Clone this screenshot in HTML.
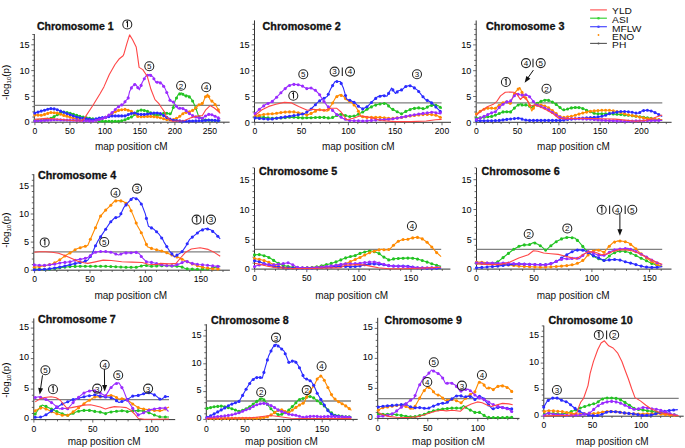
<!DOCTYPE html>
<html><head><meta charset="utf-8"><style>
html,body{margin:0;padding:0;background:#fff;}
svg{display:block;font-family:"Liberation Sans", sans-serif;}
</style></head><body>
<svg width="685" height="448" viewBox="0 0 685 448">
<rect width="685" height="448" fill="#fff"/>
<text x="37.0" y="30.1" font-size="10" font-weight="bold" fill="#111" stroke="#111" stroke-width="0.3" textLength="76.5" lengthAdjust="spacingAndGlyphs">Chromosome 1</text>
<line x1="34.3" y1="34.0" x2="34.3" y2="122.2" stroke="#333" stroke-width="1"/>
<line x1="31.3" y1="122.2" x2="34.3" y2="122.2" stroke="#444" stroke-width="0.8"/>
<text x="29.5" y="125.4" font-size="9.1" text-anchor="end" font-weight="normal" fill="#000" >0</text>
<line x1="32.3" y1="117.0" x2="34.3" y2="117.0" stroke="#444" stroke-width="0.8"/>
<line x1="32.3" y1="111.9" x2="34.3" y2="111.9" stroke="#444" stroke-width="0.8"/>
<line x1="32.3" y1="106.7" x2="34.3" y2="106.7" stroke="#444" stroke-width="0.8"/>
<line x1="32.3" y1="101.6" x2="34.3" y2="101.6" stroke="#444" stroke-width="0.8"/>
<line x1="31.3" y1="96.4" x2="34.3" y2="96.4" stroke="#444" stroke-width="0.8"/>
<text x="29.5" y="99.6" font-size="9.1" text-anchor="end" font-weight="normal" fill="#000" >5</text>
<line x1="32.3" y1="91.2" x2="34.3" y2="91.2" stroke="#444" stroke-width="0.8"/>
<line x1="32.3" y1="86.1" x2="34.3" y2="86.1" stroke="#444" stroke-width="0.8"/>
<line x1="32.3" y1="80.9" x2="34.3" y2="80.9" stroke="#444" stroke-width="0.8"/>
<line x1="32.3" y1="75.8" x2="34.3" y2="75.8" stroke="#444" stroke-width="0.8"/>
<line x1="31.3" y1="70.6" x2="34.3" y2="70.6" stroke="#444" stroke-width="0.8"/>
<text x="29.5" y="73.8" font-size="9.1" text-anchor="end" font-weight="normal" fill="#000" >10</text>
<line x1="32.3" y1="65.4" x2="34.3" y2="65.4" stroke="#444" stroke-width="0.8"/>
<line x1="32.3" y1="60.3" x2="34.3" y2="60.3" stroke="#444" stroke-width="0.8"/>
<line x1="32.3" y1="55.1" x2="34.3" y2="55.1" stroke="#444" stroke-width="0.8"/>
<line x1="32.3" y1="50.0" x2="34.3" y2="50.0" stroke="#444" stroke-width="0.8"/>
<line x1="31.3" y1="44.8" x2="34.3" y2="44.8" stroke="#444" stroke-width="0.8"/>
<text x="29.5" y="48.0" font-size="9.1" text-anchor="end" font-weight="normal" fill="#000" >15</text>
<line x1="32.3" y1="39.6" x2="34.3" y2="39.6" stroke="#444" stroke-width="0.8"/>
<line x1="32.3" y1="34.5" x2="34.3" y2="34.5" stroke="#444" stroke-width="0.8"/>
<line x1="34.3" y1="122.2" x2="229.6" y2="122.2" stroke="#333" stroke-width="1"/>
<line x1="34.9" y1="122.2" x2="34.9" y2="125.2" stroke="#444" stroke-width="0.8"/>
<text x="34.9" y="134.3" font-size="8.6" text-anchor="middle" font-weight="normal" fill="#000" >0</text>
<line x1="41.9" y1="122.2" x2="41.9" y2="124.0" stroke="#444" stroke-width="0.8"/>
<line x1="48.9" y1="122.2" x2="48.9" y2="124.0" stroke="#444" stroke-width="0.8"/>
<line x1="55.9" y1="122.2" x2="55.9" y2="124.0" stroke="#444" stroke-width="0.8"/>
<line x1="62.9" y1="122.2" x2="62.9" y2="124.0" stroke="#444" stroke-width="0.8"/>
<line x1="69.9" y1="122.2" x2="69.9" y2="125.2" stroke="#444" stroke-width="0.8"/>
<text x="69.9" y="134.3" font-size="8.6" text-anchor="middle" font-weight="normal" fill="#000" >50</text>
<line x1="76.9" y1="122.2" x2="76.9" y2="124.0" stroke="#444" stroke-width="0.8"/>
<line x1="83.9" y1="122.2" x2="83.9" y2="124.0" stroke="#444" stroke-width="0.8"/>
<line x1="90.9" y1="122.2" x2="90.9" y2="124.0" stroke="#444" stroke-width="0.8"/>
<line x1="97.9" y1="122.2" x2="97.9" y2="124.0" stroke="#444" stroke-width="0.8"/>
<line x1="104.9" y1="122.2" x2="104.9" y2="125.2" stroke="#444" stroke-width="0.8"/>
<text x="104.9" y="134.3" font-size="8.6" text-anchor="middle" font-weight="normal" fill="#000" >100</text>
<line x1="111.9" y1="122.2" x2="111.9" y2="124.0" stroke="#444" stroke-width="0.8"/>
<line x1="118.9" y1="122.2" x2="118.9" y2="124.0" stroke="#444" stroke-width="0.8"/>
<line x1="125.9" y1="122.2" x2="125.9" y2="124.0" stroke="#444" stroke-width="0.8"/>
<line x1="132.9" y1="122.2" x2="132.9" y2="124.0" stroke="#444" stroke-width="0.8"/>
<line x1="139.9" y1="122.2" x2="139.9" y2="125.2" stroke="#444" stroke-width="0.8"/>
<text x="139.9" y="134.3" font-size="8.6" text-anchor="middle" font-weight="normal" fill="#000" >150</text>
<line x1="146.9" y1="122.2" x2="146.9" y2="124.0" stroke="#444" stroke-width="0.8"/>
<line x1="153.9" y1="122.2" x2="153.9" y2="124.0" stroke="#444" stroke-width="0.8"/>
<line x1="160.9" y1="122.2" x2="160.9" y2="124.0" stroke="#444" stroke-width="0.8"/>
<line x1="167.9" y1="122.2" x2="167.9" y2="124.0" stroke="#444" stroke-width="0.8"/>
<line x1="174.9" y1="122.2" x2="174.9" y2="125.2" stroke="#444" stroke-width="0.8"/>
<text x="174.9" y="134.3" font-size="8.6" text-anchor="middle" font-weight="normal" fill="#000" >200</text>
<line x1="181.9" y1="122.2" x2="181.9" y2="124.0" stroke="#444" stroke-width="0.8"/>
<line x1="188.9" y1="122.2" x2="188.9" y2="124.0" stroke="#444" stroke-width="0.8"/>
<line x1="195.9" y1="122.2" x2="195.9" y2="124.0" stroke="#444" stroke-width="0.8"/>
<line x1="202.9" y1="122.2" x2="202.9" y2="124.0" stroke="#444" stroke-width="0.8"/>
<line x1="209.9" y1="122.2" x2="209.9" y2="125.2" stroke="#444" stroke-width="0.8"/>
<text x="209.9" y="134.3" font-size="8.6" text-anchor="middle" font-weight="normal" fill="#000" >250</text>
<line x1="216.9" y1="122.2" x2="216.9" y2="124.0" stroke="#444" stroke-width="0.8"/>
<line x1="223.9" y1="122.2" x2="223.9" y2="124.0" stroke="#444" stroke-width="0.8"/>
<line x1="34.3" y1="105.4" x2="220.0" y2="105.4" stroke="#808080" stroke-width="1.3"/>
<text x="131.3" y="150.3" font-size="10" fill="#111" text-anchor="middle">map position cM</text>
<text x="262.6" y="30.2" font-size="10" font-weight="bold" fill="#111" stroke="#111" stroke-width="0.3" textLength="78.2" lengthAdjust="spacingAndGlyphs">Chromosome 2</text>
<line x1="254.5" y1="20.4" x2="254.5" y2="122.3" stroke="#333" stroke-width="1"/>
<line x1="251.5" y1="122.3" x2="254.5" y2="122.3" stroke="#444" stroke-width="0.8"/>
<text x="249.7" y="125.5" font-size="9.1" text-anchor="end" font-weight="normal" fill="#000" >0</text>
<line x1="252.5" y1="117.1" x2="254.5" y2="117.1" stroke="#444" stroke-width="0.8"/>
<line x1="252.5" y1="112.0" x2="254.5" y2="112.0" stroke="#444" stroke-width="0.8"/>
<line x1="252.5" y1="106.8" x2="254.5" y2="106.8" stroke="#444" stroke-width="0.8"/>
<line x1="252.5" y1="101.7" x2="254.5" y2="101.7" stroke="#444" stroke-width="0.8"/>
<line x1="251.5" y1="96.5" x2="254.5" y2="96.5" stroke="#444" stroke-width="0.8"/>
<text x="249.7" y="99.7" font-size="9.1" text-anchor="end" font-weight="normal" fill="#000" >5</text>
<line x1="252.5" y1="91.3" x2="254.5" y2="91.3" stroke="#444" stroke-width="0.8"/>
<line x1="252.5" y1="86.2" x2="254.5" y2="86.2" stroke="#444" stroke-width="0.8"/>
<line x1="252.5" y1="81.0" x2="254.5" y2="81.0" stroke="#444" stroke-width="0.8"/>
<line x1="252.5" y1="75.9" x2="254.5" y2="75.9" stroke="#444" stroke-width="0.8"/>
<line x1="251.5" y1="70.7" x2="254.5" y2="70.7" stroke="#444" stroke-width="0.8"/>
<text x="249.7" y="73.9" font-size="9.1" text-anchor="end" font-weight="normal" fill="#000" >10</text>
<line x1="252.5" y1="65.5" x2="254.5" y2="65.5" stroke="#444" stroke-width="0.8"/>
<line x1="252.5" y1="60.4" x2="254.5" y2="60.4" stroke="#444" stroke-width="0.8"/>
<line x1="252.5" y1="55.2" x2="254.5" y2="55.2" stroke="#444" stroke-width="0.8"/>
<line x1="252.5" y1="50.1" x2="254.5" y2="50.1" stroke="#444" stroke-width="0.8"/>
<line x1="251.5" y1="44.9" x2="254.5" y2="44.9" stroke="#444" stroke-width="0.8"/>
<text x="249.7" y="48.1" font-size="9.1" text-anchor="end" font-weight="normal" fill="#000" >15</text>
<line x1="252.5" y1="39.7" x2="254.5" y2="39.7" stroke="#444" stroke-width="0.8"/>
<line x1="252.5" y1="34.6" x2="254.5" y2="34.6" stroke="#444" stroke-width="0.8"/>
<line x1="252.5" y1="29.4" x2="254.5" y2="29.4" stroke="#444" stroke-width="0.8"/>
<line x1="252.5" y1="24.3" x2="254.5" y2="24.3" stroke="#444" stroke-width="0.8"/>
<line x1="254.5" y1="122.3" x2="451.0" y2="122.3" stroke="#333" stroke-width="1"/>
<line x1="254.8" y1="122.3" x2="254.8" y2="125.3" stroke="#444" stroke-width="0.8"/>
<text x="254.8" y="134.4" font-size="8.6" text-anchor="middle" font-weight="normal" fill="#000" >0</text>
<line x1="264.2" y1="122.3" x2="264.2" y2="124.1" stroke="#444" stroke-width="0.8"/>
<line x1="273.5" y1="122.3" x2="273.5" y2="124.1" stroke="#444" stroke-width="0.8"/>
<line x1="282.9" y1="122.3" x2="282.9" y2="124.1" stroke="#444" stroke-width="0.8"/>
<line x1="292.2" y1="122.3" x2="292.2" y2="124.1" stroke="#444" stroke-width="0.8"/>
<line x1="301.6" y1="122.3" x2="301.6" y2="125.3" stroke="#444" stroke-width="0.8"/>
<text x="301.6" y="134.4" font-size="8.6" text-anchor="middle" font-weight="normal" fill="#000" >50</text>
<line x1="311.0" y1="122.3" x2="311.0" y2="124.1" stroke="#444" stroke-width="0.8"/>
<line x1="320.3" y1="122.3" x2="320.3" y2="124.1" stroke="#444" stroke-width="0.8"/>
<line x1="329.7" y1="122.3" x2="329.7" y2="124.1" stroke="#444" stroke-width="0.8"/>
<line x1="339.0" y1="122.3" x2="339.0" y2="124.1" stroke="#444" stroke-width="0.8"/>
<line x1="348.4" y1="122.3" x2="348.4" y2="125.3" stroke="#444" stroke-width="0.8"/>
<text x="348.4" y="134.4" font-size="8.6" text-anchor="middle" font-weight="normal" fill="#000" >100</text>
<line x1="357.8" y1="122.3" x2="357.8" y2="124.1" stroke="#444" stroke-width="0.8"/>
<line x1="367.1" y1="122.3" x2="367.1" y2="124.1" stroke="#444" stroke-width="0.8"/>
<line x1="376.5" y1="122.3" x2="376.5" y2="124.1" stroke="#444" stroke-width="0.8"/>
<line x1="385.8" y1="122.3" x2="385.8" y2="124.1" stroke="#444" stroke-width="0.8"/>
<line x1="395.2" y1="122.3" x2="395.2" y2="125.3" stroke="#444" stroke-width="0.8"/>
<text x="395.2" y="134.4" font-size="8.6" text-anchor="middle" font-weight="normal" fill="#000" >150</text>
<line x1="404.6" y1="122.3" x2="404.6" y2="124.1" stroke="#444" stroke-width="0.8"/>
<line x1="413.9" y1="122.3" x2="413.9" y2="124.1" stroke="#444" stroke-width="0.8"/>
<line x1="423.3" y1="122.3" x2="423.3" y2="124.1" stroke="#444" stroke-width="0.8"/>
<line x1="432.6" y1="122.3" x2="432.6" y2="124.1" stroke="#444" stroke-width="0.8"/>
<line x1="442.0" y1="122.3" x2="442.0" y2="125.3" stroke="#444" stroke-width="0.8"/>
<text x="442.0" y="134.4" font-size="8.6" text-anchor="middle" font-weight="normal" fill="#000" >200</text>
<line x1="254.5" y1="102.9" x2="441.6" y2="102.9" stroke="#808080" stroke-width="1.3"/>
<text x="358.3" y="150.1" font-size="10" fill="#111" text-anchor="middle">map position cM</text>
<text x="486.1" y="30.1" font-size="10" font-weight="bold" fill="#111" stroke="#111" stroke-width="0.3" textLength="78.3" lengthAdjust="spacingAndGlyphs">Chromosome 3</text>
<line x1="476.2" y1="20.5" x2="476.2" y2="122.3" stroke="#333" stroke-width="1"/>
<line x1="473.2" y1="122.3" x2="476.2" y2="122.3" stroke="#444" stroke-width="0.8"/>
<text x="471.4" y="125.5" font-size="9.1" text-anchor="end" font-weight="normal" fill="#000" >0</text>
<line x1="474.2" y1="117.1" x2="476.2" y2="117.1" stroke="#444" stroke-width="0.8"/>
<line x1="474.2" y1="112.0" x2="476.2" y2="112.0" stroke="#444" stroke-width="0.8"/>
<line x1="474.2" y1="106.8" x2="476.2" y2="106.8" stroke="#444" stroke-width="0.8"/>
<line x1="474.2" y1="101.7" x2="476.2" y2="101.7" stroke="#444" stroke-width="0.8"/>
<line x1="473.2" y1="96.5" x2="476.2" y2="96.5" stroke="#444" stroke-width="0.8"/>
<text x="471.4" y="99.7" font-size="9.1" text-anchor="end" font-weight="normal" fill="#000" >5</text>
<line x1="474.2" y1="91.3" x2="476.2" y2="91.3" stroke="#444" stroke-width="0.8"/>
<line x1="474.2" y1="86.2" x2="476.2" y2="86.2" stroke="#444" stroke-width="0.8"/>
<line x1="474.2" y1="81.0" x2="476.2" y2="81.0" stroke="#444" stroke-width="0.8"/>
<line x1="474.2" y1="75.9" x2="476.2" y2="75.9" stroke="#444" stroke-width="0.8"/>
<line x1="473.2" y1="70.7" x2="476.2" y2="70.7" stroke="#444" stroke-width="0.8"/>
<text x="471.4" y="73.9" font-size="9.1" text-anchor="end" font-weight="normal" fill="#000" >10</text>
<line x1="474.2" y1="65.5" x2="476.2" y2="65.5" stroke="#444" stroke-width="0.8"/>
<line x1="474.2" y1="60.4" x2="476.2" y2="60.4" stroke="#444" stroke-width="0.8"/>
<line x1="474.2" y1="55.2" x2="476.2" y2="55.2" stroke="#444" stroke-width="0.8"/>
<line x1="474.2" y1="50.1" x2="476.2" y2="50.1" stroke="#444" stroke-width="0.8"/>
<line x1="473.2" y1="44.9" x2="476.2" y2="44.9" stroke="#444" stroke-width="0.8"/>
<text x="471.4" y="48.1" font-size="9.1" text-anchor="end" font-weight="normal" fill="#000" >15</text>
<line x1="474.2" y1="39.7" x2="476.2" y2="39.7" stroke="#444" stroke-width="0.8"/>
<line x1="474.2" y1="34.6" x2="476.2" y2="34.6" stroke="#444" stroke-width="0.8"/>
<line x1="474.2" y1="29.4" x2="476.2" y2="29.4" stroke="#444" stroke-width="0.8"/>
<line x1="474.2" y1="24.3" x2="476.2" y2="24.3" stroke="#444" stroke-width="0.8"/>
<line x1="476.2" y1="122.3" x2="671.6" y2="122.3" stroke="#333" stroke-width="1"/>
<line x1="476.3" y1="122.3" x2="476.3" y2="125.3" stroke="#444" stroke-width="0.8"/>
<text x="476.3" y="134.4" font-size="8.6" text-anchor="middle" font-weight="normal" fill="#000" >0</text>
<line x1="484.6" y1="122.3" x2="484.6" y2="124.1" stroke="#444" stroke-width="0.8"/>
<line x1="492.8" y1="122.3" x2="492.8" y2="124.1" stroke="#444" stroke-width="0.8"/>
<line x1="501.1" y1="122.3" x2="501.1" y2="124.1" stroke="#444" stroke-width="0.8"/>
<line x1="509.3" y1="122.3" x2="509.3" y2="124.1" stroke="#444" stroke-width="0.8"/>
<line x1="517.6" y1="122.3" x2="517.6" y2="125.3" stroke="#444" stroke-width="0.8"/>
<text x="517.6" y="134.4" font-size="8.6" text-anchor="middle" font-weight="normal" fill="#000" >50</text>
<line x1="525.9" y1="122.3" x2="525.9" y2="124.1" stroke="#444" stroke-width="0.8"/>
<line x1="534.1" y1="122.3" x2="534.1" y2="124.1" stroke="#444" stroke-width="0.8"/>
<line x1="542.4" y1="122.3" x2="542.4" y2="124.1" stroke="#444" stroke-width="0.8"/>
<line x1="550.6" y1="122.3" x2="550.6" y2="124.1" stroke="#444" stroke-width="0.8"/>
<line x1="558.9" y1="122.3" x2="558.9" y2="125.3" stroke="#444" stroke-width="0.8"/>
<text x="558.9" y="134.4" font-size="8.6" text-anchor="middle" font-weight="normal" fill="#000" >100</text>
<line x1="567.2" y1="122.3" x2="567.2" y2="124.1" stroke="#444" stroke-width="0.8"/>
<line x1="575.4" y1="122.3" x2="575.4" y2="124.1" stroke="#444" stroke-width="0.8"/>
<line x1="583.7" y1="122.3" x2="583.7" y2="124.1" stroke="#444" stroke-width="0.8"/>
<line x1="591.9" y1="122.3" x2="591.9" y2="124.1" stroke="#444" stroke-width="0.8"/>
<line x1="600.2" y1="122.3" x2="600.2" y2="125.3" stroke="#444" stroke-width="0.8"/>
<text x="600.2" y="134.4" font-size="8.6" text-anchor="middle" font-weight="normal" fill="#000" >150</text>
<line x1="608.5" y1="122.3" x2="608.5" y2="124.1" stroke="#444" stroke-width="0.8"/>
<line x1="616.7" y1="122.3" x2="616.7" y2="124.1" stroke="#444" stroke-width="0.8"/>
<line x1="625.0" y1="122.3" x2="625.0" y2="124.1" stroke="#444" stroke-width="0.8"/>
<line x1="633.2" y1="122.3" x2="633.2" y2="124.1" stroke="#444" stroke-width="0.8"/>
<line x1="641.5" y1="122.3" x2="641.5" y2="125.3" stroke="#444" stroke-width="0.8"/>
<text x="641.5" y="134.4" font-size="8.6" text-anchor="middle" font-weight="normal" fill="#000" >200</text>
<line x1="649.8" y1="122.3" x2="649.8" y2="124.1" stroke="#444" stroke-width="0.8"/>
<line x1="658.0" y1="122.3" x2="658.0" y2="124.1" stroke="#444" stroke-width="0.8"/>
<line x1="666.3" y1="122.3" x2="666.3" y2="124.1" stroke="#444" stroke-width="0.8"/>
<line x1="476.2" y1="102.9" x2="662.3" y2="102.9" stroke="#808080" stroke-width="1.3"/>
<text x="573.5" y="150.1" font-size="10" fill="#111" text-anchor="middle">map position cM</text>
<text x="38.0" y="178.7" font-size="10" font-weight="bold" fill="#111" stroke="#111" stroke-width="0.3" textLength="78.1" lengthAdjust="spacingAndGlyphs">Chromosome 4</text>
<line x1="33.8" y1="174.2" x2="33.8" y2="270.2" stroke="#333" stroke-width="1"/>
<line x1="30.8" y1="270.2" x2="33.8" y2="270.2" stroke="#444" stroke-width="0.8"/>
<text x="29.0" y="273.4" font-size="9.1" text-anchor="end" font-weight="normal" fill="#000" >0</text>
<line x1="31.8" y1="264.6" x2="33.8" y2="264.6" stroke="#444" stroke-width="0.8"/>
<line x1="31.8" y1="259.0" x2="33.8" y2="259.0" stroke="#444" stroke-width="0.8"/>
<line x1="31.8" y1="253.3" x2="33.8" y2="253.3" stroke="#444" stroke-width="0.8"/>
<line x1="31.8" y1="247.7" x2="33.8" y2="247.7" stroke="#444" stroke-width="0.8"/>
<line x1="30.8" y1="242.1" x2="33.8" y2="242.1" stroke="#444" stroke-width="0.8"/>
<text x="29.0" y="245.3" font-size="9.1" text-anchor="end" font-weight="normal" fill="#000" >5</text>
<line x1="31.8" y1="236.5" x2="33.8" y2="236.5" stroke="#444" stroke-width="0.8"/>
<line x1="31.8" y1="230.9" x2="33.8" y2="230.9" stroke="#444" stroke-width="0.8"/>
<line x1="31.8" y1="225.2" x2="33.8" y2="225.2" stroke="#444" stroke-width="0.8"/>
<line x1="31.8" y1="219.6" x2="33.8" y2="219.6" stroke="#444" stroke-width="0.8"/>
<line x1="30.8" y1="214.0" x2="33.8" y2="214.0" stroke="#444" stroke-width="0.8"/>
<text x="29.0" y="217.2" font-size="9.1" text-anchor="end" font-weight="normal" fill="#000" >10</text>
<line x1="31.8" y1="208.4" x2="33.8" y2="208.4" stroke="#444" stroke-width="0.8"/>
<line x1="31.8" y1="202.8" x2="33.8" y2="202.8" stroke="#444" stroke-width="0.8"/>
<line x1="31.8" y1="197.1" x2="33.8" y2="197.1" stroke="#444" stroke-width="0.8"/>
<line x1="31.8" y1="191.5" x2="33.8" y2="191.5" stroke="#444" stroke-width="0.8"/>
<line x1="30.8" y1="185.9" x2="33.8" y2="185.9" stroke="#444" stroke-width="0.8"/>
<text x="29.0" y="189.1" font-size="9.1" text-anchor="end" font-weight="normal" fill="#000" >15</text>
<line x1="31.8" y1="180.3" x2="33.8" y2="180.3" stroke="#444" stroke-width="0.8"/>
<line x1="31.8" y1="174.7" x2="33.8" y2="174.7" stroke="#444" stroke-width="0.8"/>
<line x1="33.8" y1="270.2" x2="229.9" y2="270.2" stroke="#333" stroke-width="1"/>
<line x1="34.6" y1="270.2" x2="34.6" y2="273.2" stroke="#444" stroke-width="0.8"/>
<text x="34.6" y="282.3" font-size="8.6" text-anchor="middle" font-weight="normal" fill="#000" >0</text>
<line x1="45.7" y1="270.2" x2="45.7" y2="272.0" stroke="#444" stroke-width="0.8"/>
<line x1="56.8" y1="270.2" x2="56.8" y2="272.0" stroke="#444" stroke-width="0.8"/>
<line x1="67.8" y1="270.2" x2="67.8" y2="272.0" stroke="#444" stroke-width="0.8"/>
<line x1="78.9" y1="270.2" x2="78.9" y2="272.0" stroke="#444" stroke-width="0.8"/>
<line x1="90.0" y1="270.2" x2="90.0" y2="273.2" stroke="#444" stroke-width="0.8"/>
<text x="90.0" y="282.3" font-size="8.6" text-anchor="middle" font-weight="normal" fill="#000" >50</text>
<line x1="101.1" y1="270.2" x2="101.1" y2="272.0" stroke="#444" stroke-width="0.8"/>
<line x1="112.2" y1="270.2" x2="112.2" y2="272.0" stroke="#444" stroke-width="0.8"/>
<line x1="123.2" y1="270.2" x2="123.2" y2="272.0" stroke="#444" stroke-width="0.8"/>
<line x1="134.3" y1="270.2" x2="134.3" y2="272.0" stroke="#444" stroke-width="0.8"/>
<line x1="145.4" y1="270.2" x2="145.4" y2="273.2" stroke="#444" stroke-width="0.8"/>
<text x="145.4" y="282.3" font-size="8.6" text-anchor="middle" font-weight="normal" fill="#000" >100</text>
<line x1="156.5" y1="270.2" x2="156.5" y2="272.0" stroke="#444" stroke-width="0.8"/>
<line x1="167.6" y1="270.2" x2="167.6" y2="272.0" stroke="#444" stroke-width="0.8"/>
<line x1="178.6" y1="270.2" x2="178.6" y2="272.0" stroke="#444" stroke-width="0.8"/>
<line x1="189.7" y1="270.2" x2="189.7" y2="272.0" stroke="#444" stroke-width="0.8"/>
<line x1="200.8" y1="270.2" x2="200.8" y2="273.2" stroke="#444" stroke-width="0.8"/>
<text x="200.8" y="282.3" font-size="8.6" text-anchor="middle" font-weight="normal" fill="#000" >150</text>
<line x1="211.9" y1="270.2" x2="211.9" y2="272.0" stroke="#444" stroke-width="0.8"/>
<line x1="223.0" y1="270.2" x2="223.0" y2="272.0" stroke="#444" stroke-width="0.8"/>
<line x1="33.8" y1="251.8" x2="220.2" y2="251.8" stroke="#808080" stroke-width="1.3"/>
<text x="130.8" y="299.2" font-size="10" fill="#111" text-anchor="middle">map position cM</text>
<text x="259.0" y="174.9" font-size="10" font-weight="bold" fill="#111" stroke="#111" stroke-width="0.3" textLength="78.2" lengthAdjust="spacingAndGlyphs">Chromosome 5</text>
<line x1="254.5" y1="168.0" x2="254.5" y2="269.1" stroke="#333" stroke-width="1"/>
<line x1="251.5" y1="269.1" x2="254.5" y2="269.1" stroke="#444" stroke-width="0.8"/>
<text x="249.7" y="272.3" font-size="9.1" text-anchor="end" font-weight="normal" fill="#000" >0</text>
<line x1="252.5" y1="263.1" x2="254.5" y2="263.1" stroke="#444" stroke-width="0.8"/>
<line x1="252.5" y1="257.2" x2="254.5" y2="257.2" stroke="#444" stroke-width="0.8"/>
<line x1="252.5" y1="251.2" x2="254.5" y2="251.2" stroke="#444" stroke-width="0.8"/>
<line x1="252.5" y1="245.3" x2="254.5" y2="245.3" stroke="#444" stroke-width="0.8"/>
<line x1="251.5" y1="239.3" x2="254.5" y2="239.3" stroke="#444" stroke-width="0.8"/>
<text x="249.7" y="242.5" font-size="9.1" text-anchor="end" font-weight="normal" fill="#000" >5</text>
<line x1="252.5" y1="233.3" x2="254.5" y2="233.3" stroke="#444" stroke-width="0.8"/>
<line x1="252.5" y1="227.4" x2="254.5" y2="227.4" stroke="#444" stroke-width="0.8"/>
<line x1="252.5" y1="221.4" x2="254.5" y2="221.4" stroke="#444" stroke-width="0.8"/>
<line x1="252.5" y1="215.5" x2="254.5" y2="215.5" stroke="#444" stroke-width="0.8"/>
<line x1="251.5" y1="209.5" x2="254.5" y2="209.5" stroke="#444" stroke-width="0.8"/>
<text x="249.7" y="212.7" font-size="9.1" text-anchor="end" font-weight="normal" fill="#000" >10</text>
<line x1="252.5" y1="203.5" x2="254.5" y2="203.5" stroke="#444" stroke-width="0.8"/>
<line x1="252.5" y1="197.6" x2="254.5" y2="197.6" stroke="#444" stroke-width="0.8"/>
<line x1="252.5" y1="191.6" x2="254.5" y2="191.6" stroke="#444" stroke-width="0.8"/>
<line x1="252.5" y1="185.7" x2="254.5" y2="185.7" stroke="#444" stroke-width="0.8"/>
<line x1="251.5" y1="179.7" x2="254.5" y2="179.7" stroke="#444" stroke-width="0.8"/>
<text x="249.7" y="182.9" font-size="9.1" text-anchor="end" font-weight="normal" fill="#000" >15</text>
<line x1="252.5" y1="173.7" x2="254.5" y2="173.7" stroke="#444" stroke-width="0.8"/>
<line x1="252.5" y1="167.8" x2="254.5" y2="167.8" stroke="#444" stroke-width="0.8"/>
<line x1="254.5" y1="269.1" x2="450.4" y2="269.1" stroke="#333" stroke-width="1"/>
<line x1="254.7" y1="269.1" x2="254.7" y2="272.1" stroke="#444" stroke-width="0.8"/>
<text x="254.7" y="281.2" font-size="8.6" text-anchor="middle" font-weight="normal" fill="#000" >0</text>
<line x1="265.1" y1="269.1" x2="265.1" y2="270.9" stroke="#444" stroke-width="0.8"/>
<line x1="275.5" y1="269.1" x2="275.5" y2="270.9" stroke="#444" stroke-width="0.8"/>
<line x1="286.0" y1="269.1" x2="286.0" y2="270.9" stroke="#444" stroke-width="0.8"/>
<line x1="296.4" y1="269.1" x2="296.4" y2="270.9" stroke="#444" stroke-width="0.8"/>
<line x1="306.8" y1="269.1" x2="306.8" y2="272.1" stroke="#444" stroke-width="0.8"/>
<text x="306.8" y="281.2" font-size="8.6" text-anchor="middle" font-weight="normal" fill="#000" >50</text>
<line x1="317.2" y1="269.1" x2="317.2" y2="270.9" stroke="#444" stroke-width="0.8"/>
<line x1="327.6" y1="269.1" x2="327.6" y2="270.9" stroke="#444" stroke-width="0.8"/>
<line x1="338.1" y1="269.1" x2="338.1" y2="270.9" stroke="#444" stroke-width="0.8"/>
<line x1="348.5" y1="269.1" x2="348.5" y2="270.9" stroke="#444" stroke-width="0.8"/>
<line x1="358.9" y1="269.1" x2="358.9" y2="272.1" stroke="#444" stroke-width="0.8"/>
<text x="358.9" y="281.2" font-size="8.6" text-anchor="middle" font-weight="normal" fill="#000" >100</text>
<line x1="369.3" y1="269.1" x2="369.3" y2="270.9" stroke="#444" stroke-width="0.8"/>
<line x1="379.7" y1="269.1" x2="379.7" y2="270.9" stroke="#444" stroke-width="0.8"/>
<line x1="390.2" y1="269.1" x2="390.2" y2="270.9" stroke="#444" stroke-width="0.8"/>
<line x1="400.6" y1="269.1" x2="400.6" y2="270.9" stroke="#444" stroke-width="0.8"/>
<line x1="411.0" y1="269.1" x2="411.0" y2="272.1" stroke="#444" stroke-width="0.8"/>
<text x="411.0" y="281.2" font-size="8.6" text-anchor="middle" font-weight="normal" fill="#000" >150</text>
<line x1="421.4" y1="269.1" x2="421.4" y2="270.9" stroke="#444" stroke-width="0.8"/>
<line x1="431.8" y1="269.1" x2="431.8" y2="270.9" stroke="#444" stroke-width="0.8"/>
<line x1="442.3" y1="269.1" x2="442.3" y2="270.9" stroke="#444" stroke-width="0.8"/>
<line x1="254.5" y1="249.4" x2="441.2" y2="249.4" stroke="#808080" stroke-width="1.3"/>
<text x="351.6" y="299.2" font-size="10" fill="#111" text-anchor="middle">map position cM</text>
<text x="481.6" y="174.9" font-size="10" font-weight="bold" fill="#111" stroke="#111" stroke-width="0.3" textLength="78.1" lengthAdjust="spacingAndGlyphs">Chromosome 6</text>
<line x1="476.5" y1="168.0" x2="476.5" y2="269.1" stroke="#333" stroke-width="1"/>
<line x1="473.5" y1="269.1" x2="476.5" y2="269.1" stroke="#444" stroke-width="0.8"/>
<text x="471.7" y="272.3" font-size="9.1" text-anchor="end" font-weight="normal" fill="#000" >0</text>
<line x1="474.5" y1="263.1" x2="476.5" y2="263.1" stroke="#444" stroke-width="0.8"/>
<line x1="474.5" y1="257.2" x2="476.5" y2="257.2" stroke="#444" stroke-width="0.8"/>
<line x1="474.5" y1="251.2" x2="476.5" y2="251.2" stroke="#444" stroke-width="0.8"/>
<line x1="474.5" y1="245.3" x2="476.5" y2="245.3" stroke="#444" stroke-width="0.8"/>
<line x1="473.5" y1="239.3" x2="476.5" y2="239.3" stroke="#444" stroke-width="0.8"/>
<text x="471.7" y="242.5" font-size="9.1" text-anchor="end" font-weight="normal" fill="#000" >5</text>
<line x1="474.5" y1="233.3" x2="476.5" y2="233.3" stroke="#444" stroke-width="0.8"/>
<line x1="474.5" y1="227.4" x2="476.5" y2="227.4" stroke="#444" stroke-width="0.8"/>
<line x1="474.5" y1="221.4" x2="476.5" y2="221.4" stroke="#444" stroke-width="0.8"/>
<line x1="474.5" y1="215.5" x2="476.5" y2="215.5" stroke="#444" stroke-width="0.8"/>
<line x1="473.5" y1="209.5" x2="476.5" y2="209.5" stroke="#444" stroke-width="0.8"/>
<text x="471.7" y="212.7" font-size="9.1" text-anchor="end" font-weight="normal" fill="#000" >10</text>
<line x1="474.5" y1="203.5" x2="476.5" y2="203.5" stroke="#444" stroke-width="0.8"/>
<line x1="474.5" y1="197.6" x2="476.5" y2="197.6" stroke="#444" stroke-width="0.8"/>
<line x1="474.5" y1="191.6" x2="476.5" y2="191.6" stroke="#444" stroke-width="0.8"/>
<line x1="474.5" y1="185.7" x2="476.5" y2="185.7" stroke="#444" stroke-width="0.8"/>
<line x1="473.5" y1="179.7" x2="476.5" y2="179.7" stroke="#444" stroke-width="0.8"/>
<text x="471.7" y="182.9" font-size="9.1" text-anchor="end" font-weight="normal" fill="#000" >15</text>
<line x1="474.5" y1="173.7" x2="476.5" y2="173.7" stroke="#444" stroke-width="0.8"/>
<line x1="474.5" y1="167.8" x2="476.5" y2="167.8" stroke="#444" stroke-width="0.8"/>
<line x1="476.5" y1="269.1" x2="671.5" y2="269.1" stroke="#333" stroke-width="1"/>
<line x1="476.4" y1="269.1" x2="476.4" y2="272.1" stroke="#444" stroke-width="0.8"/>
<text x="476.4" y="281.2" font-size="8.6" text-anchor="middle" font-weight="normal" fill="#000" >0</text>
<line x1="487.9" y1="269.1" x2="487.9" y2="270.9" stroke="#444" stroke-width="0.8"/>
<line x1="499.5" y1="269.1" x2="499.5" y2="270.9" stroke="#444" stroke-width="0.8"/>
<line x1="511.0" y1="269.1" x2="511.0" y2="270.9" stroke="#444" stroke-width="0.8"/>
<line x1="522.6" y1="269.1" x2="522.6" y2="270.9" stroke="#444" stroke-width="0.8"/>
<line x1="534.1" y1="269.1" x2="534.1" y2="272.1" stroke="#444" stroke-width="0.8"/>
<text x="534.1" y="281.2" font-size="8.6" text-anchor="middle" font-weight="normal" fill="#000" >50</text>
<line x1="545.7" y1="269.1" x2="545.7" y2="270.9" stroke="#444" stroke-width="0.8"/>
<line x1="557.2" y1="269.1" x2="557.2" y2="270.9" stroke="#444" stroke-width="0.8"/>
<line x1="568.8" y1="269.1" x2="568.8" y2="270.9" stroke="#444" stroke-width="0.8"/>
<line x1="580.4" y1="269.1" x2="580.4" y2="270.9" stroke="#444" stroke-width="0.8"/>
<line x1="591.9" y1="269.1" x2="591.9" y2="272.1" stroke="#444" stroke-width="0.8"/>
<text x="591.9" y="281.2" font-size="8.6" text-anchor="middle" font-weight="normal" fill="#000" >100</text>
<line x1="603.4" y1="269.1" x2="603.4" y2="270.9" stroke="#444" stroke-width="0.8"/>
<line x1="615.0" y1="269.1" x2="615.0" y2="270.9" stroke="#444" stroke-width="0.8"/>
<line x1="626.5" y1="269.1" x2="626.5" y2="270.9" stroke="#444" stroke-width="0.8"/>
<line x1="638.1" y1="269.1" x2="638.1" y2="270.9" stroke="#444" stroke-width="0.8"/>
<line x1="649.6" y1="269.1" x2="649.6" y2="272.1" stroke="#444" stroke-width="0.8"/>
<text x="649.6" y="281.2" font-size="8.6" text-anchor="middle" font-weight="normal" fill="#000" >150</text>
<line x1="661.2" y1="269.1" x2="661.2" y2="270.9" stroke="#444" stroke-width="0.8"/>
<line x1="476.5" y1="249.4" x2="662.2" y2="249.4" stroke="#808080" stroke-width="1.3"/>
<text x="573.1" y="299.2" font-size="10" fill="#111" text-anchor="middle">map position cM</text>
<text x="38.0" y="323.2" font-size="10" font-weight="bold" fill="#111" stroke="#111" stroke-width="0.3" textLength="77.8" lengthAdjust="spacingAndGlyphs">Chromosome 7</text>
<line x1="33.8" y1="318.4" x2="33.8" y2="419.6" stroke="#333" stroke-width="1"/>
<line x1="30.8" y1="419.6" x2="33.8" y2="419.6" stroke="#444" stroke-width="0.8"/>
<text x="29.0" y="421.3" font-size="9.1" text-anchor="end" font-weight="normal" fill="#000" >0</text>
<line x1="31.8" y1="413.5" x2="33.8" y2="413.5" stroke="#444" stroke-width="0.8"/>
<line x1="31.8" y1="407.4" x2="33.8" y2="407.4" stroke="#444" stroke-width="0.8"/>
<line x1="31.8" y1="401.3" x2="33.8" y2="401.3" stroke="#444" stroke-width="0.8"/>
<line x1="31.8" y1="395.2" x2="33.8" y2="395.2" stroke="#444" stroke-width="0.8"/>
<line x1="30.8" y1="389.1" x2="33.8" y2="389.1" stroke="#444" stroke-width="0.8"/>
<text x="29.0" y="390.8" font-size="9.1" text-anchor="end" font-weight="normal" fill="#000" >5</text>
<line x1="31.8" y1="383.0" x2="33.8" y2="383.0" stroke="#444" stroke-width="0.8"/>
<line x1="31.8" y1="376.9" x2="33.8" y2="376.9" stroke="#444" stroke-width="0.8"/>
<line x1="31.8" y1="370.8" x2="33.8" y2="370.8" stroke="#444" stroke-width="0.8"/>
<line x1="31.8" y1="364.7" x2="33.8" y2="364.7" stroke="#444" stroke-width="0.8"/>
<line x1="30.8" y1="358.6" x2="33.8" y2="358.6" stroke="#444" stroke-width="0.8"/>
<text x="29.0" y="360.3" font-size="9.1" text-anchor="end" font-weight="normal" fill="#000" >10</text>
<line x1="31.8" y1="352.5" x2="33.8" y2="352.5" stroke="#444" stroke-width="0.8"/>
<line x1="31.8" y1="346.4" x2="33.8" y2="346.4" stroke="#444" stroke-width="0.8"/>
<line x1="31.8" y1="340.3" x2="33.8" y2="340.3" stroke="#444" stroke-width="0.8"/>
<line x1="31.8" y1="334.2" x2="33.8" y2="334.2" stroke="#444" stroke-width="0.8"/>
<line x1="30.8" y1="328.1" x2="33.8" y2="328.1" stroke="#444" stroke-width="0.8"/>
<text x="29.0" y="329.8" font-size="9.1" text-anchor="end" font-weight="normal" fill="#000" >15</text>
<line x1="31.8" y1="322.0" x2="33.8" y2="322.0" stroke="#444" stroke-width="0.8"/>
<line x1="33.8" y1="419.6" x2="175.2" y2="419.6" stroke="#333" stroke-width="1"/>
<line x1="33.9" y1="419.6" x2="33.9" y2="422.6" stroke="#444" stroke-width="0.8"/>
<text x="33.9" y="431.7" font-size="8.6" text-anchor="middle" font-weight="normal" fill="#000" >0</text>
<line x1="45.7" y1="419.6" x2="45.7" y2="421.4" stroke="#444" stroke-width="0.8"/>
<line x1="57.5" y1="419.6" x2="57.5" y2="421.4" stroke="#444" stroke-width="0.8"/>
<line x1="69.2" y1="419.6" x2="69.2" y2="421.4" stroke="#444" stroke-width="0.8"/>
<line x1="81.0" y1="419.6" x2="81.0" y2="421.4" stroke="#444" stroke-width="0.8"/>
<line x1="92.8" y1="419.6" x2="92.8" y2="422.6" stroke="#444" stroke-width="0.8"/>
<text x="92.8" y="431.7" font-size="8.6" text-anchor="middle" font-weight="normal" fill="#000" >50</text>
<line x1="104.6" y1="419.6" x2="104.6" y2="421.4" stroke="#444" stroke-width="0.8"/>
<line x1="116.4" y1="419.6" x2="116.4" y2="421.4" stroke="#444" stroke-width="0.8"/>
<line x1="128.1" y1="419.6" x2="128.1" y2="421.4" stroke="#444" stroke-width="0.8"/>
<line x1="139.9" y1="419.6" x2="139.9" y2="421.4" stroke="#444" stroke-width="0.8"/>
<line x1="151.7" y1="419.6" x2="151.7" y2="422.6" stroke="#444" stroke-width="0.8"/>
<text x="151.7" y="431.7" font-size="8.6" text-anchor="middle" font-weight="normal" fill="#000" >100</text>
<line x1="163.5" y1="419.6" x2="163.5" y2="421.4" stroke="#444" stroke-width="0.8"/>
<line x1="33.8" y1="399.7" x2="169.0" y2="399.7" stroke="#808080" stroke-width="1.3"/>
<text x="104.2" y="445.3" font-size="10" fill="#111" text-anchor="middle">map position cM</text>
<text x="211.0" y="323.6" font-size="10" font-weight="bold" fill="#111" stroke="#111" stroke-width="0.3" textLength="77.8" lengthAdjust="spacingAndGlyphs">Chromosome 8</text>
<line x1="206.3" y1="324.2" x2="206.3" y2="419.4" stroke="#333" stroke-width="1"/>
<line x1="203.3" y1="419.4" x2="206.3" y2="419.4" stroke="#444" stroke-width="0.8"/>
<text x="201.5" y="421.1" font-size="9.1" text-anchor="end" font-weight="normal" fill="#000" >0</text>
<line x1="204.3" y1="413.8" x2="206.3" y2="413.8" stroke="#444" stroke-width="0.8"/>
<line x1="204.3" y1="408.3" x2="206.3" y2="408.3" stroke="#444" stroke-width="0.8"/>
<line x1="204.3" y1="402.7" x2="206.3" y2="402.7" stroke="#444" stroke-width="0.8"/>
<line x1="204.3" y1="397.2" x2="206.3" y2="397.2" stroke="#444" stroke-width="0.8"/>
<line x1="203.3" y1="391.6" x2="206.3" y2="391.6" stroke="#444" stroke-width="0.8"/>
<text x="201.5" y="393.3" font-size="9.1" text-anchor="end" font-weight="normal" fill="#000" >5</text>
<line x1="204.3" y1="386.0" x2="206.3" y2="386.0" stroke="#444" stroke-width="0.8"/>
<line x1="204.3" y1="380.5" x2="206.3" y2="380.5" stroke="#444" stroke-width="0.8"/>
<line x1="204.3" y1="374.9" x2="206.3" y2="374.9" stroke="#444" stroke-width="0.8"/>
<line x1="204.3" y1="369.4" x2="206.3" y2="369.4" stroke="#444" stroke-width="0.8"/>
<line x1="203.3" y1="363.8" x2="206.3" y2="363.8" stroke="#444" stroke-width="0.8"/>
<text x="201.5" y="365.5" font-size="9.1" text-anchor="end" font-weight="normal" fill="#000" >10</text>
<line x1="204.3" y1="358.2" x2="206.3" y2="358.2" stroke="#444" stroke-width="0.8"/>
<line x1="204.3" y1="352.7" x2="206.3" y2="352.7" stroke="#444" stroke-width="0.8"/>
<line x1="204.3" y1="347.1" x2="206.3" y2="347.1" stroke="#444" stroke-width="0.8"/>
<line x1="204.3" y1="341.6" x2="206.3" y2="341.6" stroke="#444" stroke-width="0.8"/>
<line x1="203.3" y1="336.0" x2="206.3" y2="336.0" stroke="#444" stroke-width="0.8"/>
<text x="201.5" y="337.7" font-size="9.1" text-anchor="end" font-weight="normal" fill="#000" >15</text>
<line x1="204.3" y1="330.4" x2="206.3" y2="330.4" stroke="#444" stroke-width="0.8"/>
<line x1="204.3" y1="324.9" x2="206.3" y2="324.9" stroke="#444" stroke-width="0.8"/>
<line x1="206.3" y1="419.4" x2="357.7" y2="419.4" stroke="#333" stroke-width="1"/>
<line x1="206.3" y1="419.4" x2="206.3" y2="422.4" stroke="#444" stroke-width="0.8"/>
<text x="206.3" y="431.5" font-size="8.6" text-anchor="middle" font-weight="normal" fill="#000" >0</text>
<line x1="214.0" y1="419.4" x2="214.0" y2="421.2" stroke="#444" stroke-width="0.8"/>
<line x1="221.8" y1="419.4" x2="221.8" y2="421.2" stroke="#444" stroke-width="0.8"/>
<line x1="229.5" y1="419.4" x2="229.5" y2="421.2" stroke="#444" stroke-width="0.8"/>
<line x1="237.2" y1="419.4" x2="237.2" y2="421.2" stroke="#444" stroke-width="0.8"/>
<line x1="245.0" y1="419.4" x2="245.0" y2="422.4" stroke="#444" stroke-width="0.8"/>
<text x="245.0" y="431.5" font-size="8.6" text-anchor="middle" font-weight="normal" fill="#000" >50</text>
<line x1="252.7" y1="419.4" x2="252.7" y2="421.2" stroke="#444" stroke-width="0.8"/>
<line x1="260.4" y1="419.4" x2="260.4" y2="421.2" stroke="#444" stroke-width="0.8"/>
<line x1="268.1" y1="419.4" x2="268.1" y2="421.2" stroke="#444" stroke-width="0.8"/>
<line x1="275.9" y1="419.4" x2="275.9" y2="421.2" stroke="#444" stroke-width="0.8"/>
<line x1="283.6" y1="419.4" x2="283.6" y2="422.4" stroke="#444" stroke-width="0.8"/>
<text x="283.6" y="431.5" font-size="8.6" text-anchor="middle" font-weight="normal" fill="#000" >100</text>
<line x1="291.3" y1="419.4" x2="291.3" y2="421.2" stroke="#444" stroke-width="0.8"/>
<line x1="299.1" y1="419.4" x2="299.1" y2="421.2" stroke="#444" stroke-width="0.8"/>
<line x1="306.8" y1="419.4" x2="306.8" y2="421.2" stroke="#444" stroke-width="0.8"/>
<line x1="314.5" y1="419.4" x2="314.5" y2="421.2" stroke="#444" stroke-width="0.8"/>
<line x1="322.2" y1="419.4" x2="322.2" y2="422.4" stroke="#444" stroke-width="0.8"/>
<text x="322.2" y="431.5" font-size="8.6" text-anchor="middle" font-weight="normal" fill="#000" >150</text>
<line x1="330.0" y1="419.4" x2="330.0" y2="421.2" stroke="#444" stroke-width="0.8"/>
<line x1="337.7" y1="419.4" x2="337.7" y2="421.2" stroke="#444" stroke-width="0.8"/>
<line x1="345.4" y1="419.4" x2="345.4" y2="421.2" stroke="#444" stroke-width="0.8"/>
<line x1="353.2" y1="419.4" x2="353.2" y2="421.2" stroke="#444" stroke-width="0.8"/>
<line x1="206.3" y1="401.0" x2="351.0" y2="401.0" stroke="#808080" stroke-width="1.3"/>
<text x="281.5" y="445.1" font-size="10" fill="#111" text-anchor="middle">map position cM</text>
<text x="384.5" y="323.6" font-size="10" font-weight="bold" fill="#111" stroke="#111" stroke-width="0.3" textLength="77.4" lengthAdjust="spacingAndGlyphs">Chromosome 9</text>
<line x1="377.7" y1="317.8" x2="377.7" y2="418.4" stroke="#333" stroke-width="1"/>
<line x1="374.7" y1="418.4" x2="377.7" y2="418.4" stroke="#444" stroke-width="0.8"/>
<text x="372.9" y="420.1" font-size="9.1" text-anchor="end" font-weight="normal" fill="#000" >0</text>
<line x1="375.7" y1="412.4" x2="377.7" y2="412.4" stroke="#444" stroke-width="0.8"/>
<line x1="375.7" y1="406.4" x2="377.7" y2="406.4" stroke="#444" stroke-width="0.8"/>
<line x1="375.7" y1="400.4" x2="377.7" y2="400.4" stroke="#444" stroke-width="0.8"/>
<line x1="375.7" y1="394.4" x2="377.7" y2="394.4" stroke="#444" stroke-width="0.8"/>
<line x1="374.7" y1="388.4" x2="377.7" y2="388.4" stroke="#444" stroke-width="0.8"/>
<text x="372.9" y="390.1" font-size="9.1" text-anchor="end" font-weight="normal" fill="#000" >5</text>
<line x1="375.7" y1="382.4" x2="377.7" y2="382.4" stroke="#444" stroke-width="0.8"/>
<line x1="375.7" y1="376.4" x2="377.7" y2="376.4" stroke="#444" stroke-width="0.8"/>
<line x1="375.7" y1="370.4" x2="377.7" y2="370.4" stroke="#444" stroke-width="0.8"/>
<line x1="375.7" y1="364.4" x2="377.7" y2="364.4" stroke="#444" stroke-width="0.8"/>
<line x1="374.7" y1="358.4" x2="377.7" y2="358.4" stroke="#444" stroke-width="0.8"/>
<text x="372.9" y="360.1" font-size="9.1" text-anchor="end" font-weight="normal" fill="#000" >10</text>
<line x1="375.7" y1="352.4" x2="377.7" y2="352.4" stroke="#444" stroke-width="0.8"/>
<line x1="375.7" y1="346.4" x2="377.7" y2="346.4" stroke="#444" stroke-width="0.8"/>
<line x1="375.7" y1="340.4" x2="377.7" y2="340.4" stroke="#444" stroke-width="0.8"/>
<line x1="375.7" y1="334.4" x2="377.7" y2="334.4" stroke="#444" stroke-width="0.8"/>
<line x1="374.7" y1="328.4" x2="377.7" y2="328.4" stroke="#444" stroke-width="0.8"/>
<text x="372.9" y="330.1" font-size="9.1" text-anchor="end" font-weight="normal" fill="#000" >15</text>
<line x1="375.7" y1="322.4" x2="377.7" y2="322.4" stroke="#444" stroke-width="0.8"/>
<line x1="377.7" y1="418.4" x2="519.5" y2="418.4" stroke="#333" stroke-width="1"/>
<line x1="377.8" y1="418.4" x2="377.8" y2="421.4" stroke="#444" stroke-width="0.8"/>
<text x="377.8" y="430.5" font-size="8.6" text-anchor="middle" font-weight="normal" fill="#000" >0</text>
<line x1="387.8" y1="418.4" x2="387.8" y2="420.2" stroke="#444" stroke-width="0.8"/>
<line x1="397.8" y1="418.4" x2="397.8" y2="420.2" stroke="#444" stroke-width="0.8"/>
<line x1="407.8" y1="418.4" x2="407.8" y2="420.2" stroke="#444" stroke-width="0.8"/>
<line x1="417.8" y1="418.4" x2="417.8" y2="420.2" stroke="#444" stroke-width="0.8"/>
<line x1="427.8" y1="418.4" x2="427.8" y2="421.4" stroke="#444" stroke-width="0.8"/>
<text x="427.8" y="430.5" font-size="8.6" text-anchor="middle" font-weight="normal" fill="#000" >50</text>
<line x1="437.8" y1="418.4" x2="437.8" y2="420.2" stroke="#444" stroke-width="0.8"/>
<line x1="447.8" y1="418.4" x2="447.8" y2="420.2" stroke="#444" stroke-width="0.8"/>
<line x1="457.8" y1="418.4" x2="457.8" y2="420.2" stroke="#444" stroke-width="0.8"/>
<line x1="467.8" y1="418.4" x2="467.8" y2="420.2" stroke="#444" stroke-width="0.8"/>
<line x1="477.8" y1="418.4" x2="477.8" y2="421.4" stroke="#444" stroke-width="0.8"/>
<text x="477.8" y="430.5" font-size="8.6" text-anchor="middle" font-weight="normal" fill="#000" >100</text>
<line x1="487.8" y1="418.4" x2="487.8" y2="420.2" stroke="#444" stroke-width="0.8"/>
<line x1="497.8" y1="418.4" x2="497.8" y2="420.2" stroke="#444" stroke-width="0.8"/>
<line x1="507.8" y1="418.4" x2="507.8" y2="420.2" stroke="#444" stroke-width="0.8"/>
<line x1="517.8" y1="418.4" x2="517.8" y2="420.2" stroke="#444" stroke-width="0.8"/>
<line x1="377.7" y1="398.7" x2="512.7" y2="398.7" stroke="#808080" stroke-width="1.3"/>
<text x="448.5" y="445.3" font-size="10" fill="#111" text-anchor="middle">map position cM</text>
<text x="548.5" y="323.6" font-size="10" font-weight="bold" fill="#111" stroke="#111" stroke-width="0.3" textLength="84.2" lengthAdjust="spacingAndGlyphs">Chromosome 10</text>
<line x1="543.8" y1="325.6" x2="543.8" y2="416.2" stroke="#333" stroke-width="1"/>
<line x1="540.8" y1="416.2" x2="543.8" y2="416.2" stroke="#444" stroke-width="0.8"/>
<text x="539.0" y="417.9" font-size="9.1" text-anchor="end" font-weight="normal" fill="#000" >0</text>
<line x1="541.8" y1="410.9" x2="543.8" y2="410.9" stroke="#444" stroke-width="0.8"/>
<line x1="541.8" y1="405.6" x2="543.8" y2="405.6" stroke="#444" stroke-width="0.8"/>
<line x1="541.8" y1="400.3" x2="543.8" y2="400.3" stroke="#444" stroke-width="0.8"/>
<line x1="541.8" y1="395.0" x2="543.8" y2="395.0" stroke="#444" stroke-width="0.8"/>
<line x1="540.8" y1="389.6" x2="543.8" y2="389.6" stroke="#444" stroke-width="0.8"/>
<text x="539.0" y="391.3" font-size="9.1" text-anchor="end" font-weight="normal" fill="#000" >5</text>
<line x1="541.8" y1="384.3" x2="543.8" y2="384.3" stroke="#444" stroke-width="0.8"/>
<line x1="541.8" y1="379.0" x2="543.8" y2="379.0" stroke="#444" stroke-width="0.8"/>
<line x1="541.8" y1="373.7" x2="543.8" y2="373.7" stroke="#444" stroke-width="0.8"/>
<line x1="541.8" y1="368.4" x2="543.8" y2="368.4" stroke="#444" stroke-width="0.8"/>
<line x1="540.8" y1="363.1" x2="543.8" y2="363.1" stroke="#444" stroke-width="0.8"/>
<text x="539.0" y="364.8" font-size="9.1" text-anchor="end" font-weight="normal" fill="#000" >10</text>
<line x1="541.8" y1="357.8" x2="543.8" y2="357.8" stroke="#444" stroke-width="0.8"/>
<line x1="541.8" y1="352.5" x2="543.8" y2="352.5" stroke="#444" stroke-width="0.8"/>
<line x1="541.8" y1="347.2" x2="543.8" y2="347.2" stroke="#444" stroke-width="0.8"/>
<line x1="541.8" y1="341.9" x2="543.8" y2="341.9" stroke="#444" stroke-width="0.8"/>
<line x1="540.8" y1="336.6" x2="543.8" y2="336.6" stroke="#444" stroke-width="0.8"/>
<text x="539.0" y="338.2" font-size="9.1" text-anchor="end" font-weight="normal" fill="#000" >15</text>
<line x1="541.8" y1="331.2" x2="543.8" y2="331.2" stroke="#444" stroke-width="0.8"/>
<line x1="541.8" y1="325.9" x2="543.8" y2="325.9" stroke="#444" stroke-width="0.8"/>
<line x1="543.8" y1="416.2" x2="683.7" y2="416.2" stroke="#333" stroke-width="1"/>
<line x1="543.8" y1="416.2" x2="543.8" y2="419.2" stroke="#444" stroke-width="0.8"/>
<text x="543.8" y="428.3" font-size="8.6" text-anchor="middle" font-weight="normal" fill="#000" >0</text>
<line x1="553.5" y1="416.2" x2="553.5" y2="418.0" stroke="#444" stroke-width="0.8"/>
<line x1="563.3" y1="416.2" x2="563.3" y2="418.0" stroke="#444" stroke-width="0.8"/>
<line x1="573.0" y1="416.2" x2="573.0" y2="418.0" stroke="#444" stroke-width="0.8"/>
<line x1="582.8" y1="416.2" x2="582.8" y2="418.0" stroke="#444" stroke-width="0.8"/>
<line x1="592.5" y1="416.2" x2="592.5" y2="419.2" stroke="#444" stroke-width="0.8"/>
<text x="592.5" y="428.3" font-size="8.6" text-anchor="middle" font-weight="normal" fill="#000" >50</text>
<line x1="602.2" y1="416.2" x2="602.2" y2="418.0" stroke="#444" stroke-width="0.8"/>
<line x1="612.0" y1="416.2" x2="612.0" y2="418.0" stroke="#444" stroke-width="0.8"/>
<line x1="621.7" y1="416.2" x2="621.7" y2="418.0" stroke="#444" stroke-width="0.8"/>
<line x1="631.5" y1="416.2" x2="631.5" y2="418.0" stroke="#444" stroke-width="0.8"/>
<line x1="641.2" y1="416.2" x2="641.2" y2="419.2" stroke="#444" stroke-width="0.8"/>
<text x="641.2" y="428.3" font-size="8.6" text-anchor="middle" font-weight="normal" fill="#000" >100</text>
<line x1="650.9" y1="416.2" x2="650.9" y2="418.0" stroke="#444" stroke-width="0.8"/>
<line x1="660.7" y1="416.2" x2="660.7" y2="418.0" stroke="#444" stroke-width="0.8"/>
<line x1="670.4" y1="416.2" x2="670.4" y2="418.0" stroke="#444" stroke-width="0.8"/>
<line x1="680.2" y1="416.2" x2="680.2" y2="418.0" stroke="#444" stroke-width="0.8"/>
<line x1="543.8" y1="398.4" x2="678.7" y2="398.4" stroke="#808080" stroke-width="1.3"/>
<text x="612.3" y="445.0" font-size="10" fill="#111" text-anchor="middle">map position cM</text>
<text transform="translate(9.2,82.3) rotate(-90)" font-size="9.8" text-anchor="middle" fill="#000">-log<tspan font-size="6.2" dy="2.2">10</tspan><tspan dy="-2.2">(p)</tspan></text>
<text transform="translate(9.2,230.2) rotate(-90)" font-size="9.8" text-anchor="middle" fill="#000">-log<tspan font-size="6.2" dy="2.2">10</tspan><tspan dy="-2.2">(p)</tspan></text>
<text transform="translate(9.2,380.1) rotate(-90)" font-size="9.8" text-anchor="middle" fill="#000">-log<tspan font-size="6.2" dy="2.2">10</tspan><tspan dy="-2.2">(p)</tspan></text>
<polyline points="34.8,120.6 43.5,120.1 50.5,118.4 56.6,115.3 61.9,111.8 68.0,112.7 74.2,114.4 81.2,116.6 87.3,118.0 93.0,118.8 100.0,121.3 109.8,121.3 119.6,121.3 123.6,120.3 129.5,117.8 133.4,115.9 135.4,113.4 138.3,110.5 142.2,110.0 146.2,110.9 150.1,112.4 153.0,114.4 157.0,115.4 160.9,114.4 164.8,112.8 170.9,114.0 173.3,107.4 175.1,100.8 178.1,94.7 181.5,92.9 184.7,95.9 188.3,95.9 190.8,98.3 193.2,102.0 195.0,106.2 196.8,111.0 198.6,116.4 201.6,118.3 205.8,120.1 220.3,120.7" fill="none" stroke="#22c322" stroke-width="1.1" stroke-linejoin="round" opacity="1"/>
<circle cx="34.8" cy="120.6" r="1.55" fill="#22c322"/>
<circle cx="38.0" cy="120.4" r="1.55" fill="#22c322"/>
<circle cx="41.2" cy="120.2" r="1.55" fill="#22c322"/>
<circle cx="44.5" cy="119.9" r="1.55" fill="#22c322"/>
<circle cx="47.7" cy="119.1" r="1.55" fill="#22c322"/>
<circle cx="50.9" cy="118.2" r="1.55" fill="#22c322"/>
<circle cx="54.1" cy="116.6" r="1.55" fill="#22c322"/>
<circle cx="57.3" cy="114.8" r="1.55" fill="#22c322"/>
<circle cx="60.6" cy="112.7" r="1.55" fill="#22c322"/>
<circle cx="63.8" cy="112.1" r="1.55" fill="#22c322"/>
<circle cx="67.0" cy="112.6" r="1.55" fill="#22c322"/>
<circle cx="70.2" cy="113.3" r="1.55" fill="#22c322"/>
<circle cx="73.4" cy="114.2" r="1.55" fill="#22c322"/>
<circle cx="76.7" cy="115.2" r="1.55" fill="#22c322"/>
<circle cx="79.9" cy="116.2" r="1.55" fill="#22c322"/>
<circle cx="83.1" cy="117.0" r="1.55" fill="#22c322"/>
<circle cx="86.3" cy="117.8" r="1.55" fill="#22c322"/>
<circle cx="89.5" cy="118.3" r="1.55" fill="#22c322"/>
<circle cx="92.8" cy="118.8" r="1.55" fill="#22c322"/>
<circle cx="96.0" cy="119.9" r="1.55" fill="#22c322"/>
<circle cx="99.2" cy="121.0" r="1.55" fill="#22c322"/>
<circle cx="102.4" cy="121.3" r="1.55" fill="#22c322"/>
<circle cx="105.6" cy="121.3" r="1.55" fill="#22c322"/>
<circle cx="108.9" cy="121.3" r="1.55" fill="#22c322"/>
<circle cx="112.1" cy="121.3" r="1.55" fill="#22c322"/>
<circle cx="115.3" cy="121.3" r="1.55" fill="#22c322"/>
<circle cx="118.5" cy="121.3" r="1.55" fill="#22c322"/>
<circle cx="121.7" cy="120.8" r="1.55" fill="#22c322"/>
<circle cx="125.0" cy="119.7" r="1.55" fill="#22c322"/>
<circle cx="128.2" cy="118.4" r="1.55" fill="#22c322"/>
<circle cx="131.4" cy="116.9" r="1.55" fill="#22c322"/>
<circle cx="134.6" cy="114.4" r="1.55" fill="#22c322"/>
<circle cx="137.8" cy="111.0" r="1.55" fill="#22c322"/>
<circle cx="141.1" cy="110.1" r="1.55" fill="#22c322"/>
<circle cx="144.3" cy="110.5" r="1.55" fill="#22c322"/>
<circle cx="147.5" cy="111.4" r="1.55" fill="#22c322"/>
<circle cx="150.7" cy="112.8" r="1.55" fill="#22c322"/>
<circle cx="153.9" cy="114.6" r="1.55" fill="#22c322"/>
<circle cx="157.2" cy="115.4" r="1.55" fill="#22c322"/>
<circle cx="160.4" cy="114.5" r="1.55" fill="#22c322"/>
<circle cx="163.6" cy="113.3" r="1.55" fill="#22c322"/>
<circle cx="166.8" cy="113.2" r="1.55" fill="#22c322"/>
<circle cx="170.0" cy="113.8" r="1.55" fill="#22c322"/>
<circle cx="173.3" cy="107.5" r="1.55" fill="#22c322"/>
<circle cx="176.5" cy="98.0" r="1.55" fill="#22c322"/>
<circle cx="179.7" cy="93.9" r="1.55" fill="#22c322"/>
<circle cx="182.9" cy="94.2" r="1.55" fill="#22c322"/>
<circle cx="186.1" cy="95.9" r="1.55" fill="#22c322"/>
<circle cx="189.4" cy="96.9" r="1.55" fill="#22c322"/>
<circle cx="192.6" cy="101.0" r="1.55" fill="#22c322"/>
<circle cx="195.8" cy="108.3" r="1.55" fill="#22c322"/>
<circle cx="199.0" cy="116.7" r="1.55" fill="#22c322"/>
<circle cx="202.2" cy="118.6" r="1.55" fill="#22c322"/>
<circle cx="205.5" cy="120.0" r="1.55" fill="#22c322"/>
<circle cx="208.7" cy="120.2" r="1.55" fill="#22c322"/>
<circle cx="211.9" cy="120.4" r="1.55" fill="#22c322"/>
<circle cx="215.1" cy="120.5" r="1.55" fill="#22c322"/>
<circle cx="218.3" cy="120.6" r="1.55" fill="#22c322"/>
<polyline points="255.1,117.1 261.6,117.1 271.6,118.3 281.6,117.9 291.6,117.1 303.0,117.9 313.0,117.6 318.0,117.4 324.2,117.4 330.3,118.2 335.0,116.6 339.6,114.0 344.2,115.1 348.8,116.6 355.0,115.9 359.6,113.6 364.2,111.2 368.8,108.2 373.5,105.8 378.1,104.3 382.7,103.5 386.2,103.5 390.8,108.2 396.2,111.2 401.6,113.9 406.2,111.2 412.4,108.6 418.5,107.9 424.7,108.9 429.3,105.8 433.9,105.1 438.6,105.8 441.6,108.6" fill="none" stroke="#22c322" stroke-width="1.1" stroke-linejoin="round" opacity="1"/>
<circle cx="255.1" cy="117.1" r="1.55" fill="#22c322"/>
<circle cx="259.4" cy="117.1" r="1.55" fill="#22c322"/>
<circle cx="263.7" cy="117.4" r="1.55" fill="#22c322"/>
<circle cx="268.0" cy="117.9" r="1.55" fill="#22c322"/>
<circle cx="272.3" cy="118.3" r="1.55" fill="#22c322"/>
<circle cx="276.6" cy="118.1" r="1.55" fill="#22c322"/>
<circle cx="280.9" cy="117.9" r="1.55" fill="#22c322"/>
<circle cx="285.2" cy="117.6" r="1.55" fill="#22c322"/>
<circle cx="289.5" cy="117.3" r="1.55" fill="#22c322"/>
<circle cx="293.9" cy="117.3" r="1.55" fill="#22c322"/>
<circle cx="298.2" cy="117.6" r="1.55" fill="#22c322"/>
<circle cx="302.5" cy="117.9" r="1.55" fill="#22c322"/>
<circle cx="306.8" cy="117.8" r="1.55" fill="#22c322"/>
<circle cx="311.1" cy="117.7" r="1.55" fill="#22c322"/>
<circle cx="315.4" cy="117.5" r="1.55" fill="#22c322"/>
<circle cx="319.7" cy="117.4" r="1.55" fill="#22c322"/>
<circle cx="324.0" cy="117.4" r="1.55" fill="#22c322"/>
<circle cx="328.3" cy="117.9" r="1.55" fill="#22c322"/>
<circle cx="332.6" cy="117.4" r="1.55" fill="#22c322"/>
<circle cx="336.9" cy="115.5" r="1.55" fill="#22c322"/>
<circle cx="341.2" cy="114.4" r="1.55" fill="#22c322"/>
<circle cx="345.5" cy="115.5" r="1.55" fill="#22c322"/>
<circle cx="349.8" cy="116.5" r="1.55" fill="#22c322"/>
<circle cx="354.1" cy="116.0" r="1.55" fill="#22c322"/>
<circle cx="358.4" cy="114.2" r="1.55" fill="#22c322"/>
<circle cx="362.7" cy="112.0" r="1.55" fill="#22c322"/>
<circle cx="367.0" cy="109.3" r="1.55" fill="#22c322"/>
<circle cx="371.4" cy="106.9" r="1.55" fill="#22c322"/>
<circle cx="375.7" cy="105.1" r="1.55" fill="#22c322"/>
<circle cx="380.0" cy="104.0" r="1.55" fill="#22c322"/>
<circle cx="384.3" cy="103.5" r="1.55" fill="#22c322"/>
<circle cx="388.6" cy="105.9" r="1.55" fill="#22c322"/>
<circle cx="392.9" cy="109.4" r="1.55" fill="#22c322"/>
<circle cx="397.2" cy="111.7" r="1.55" fill="#22c322"/>
<circle cx="401.5" cy="113.8" r="1.55" fill="#22c322"/>
<circle cx="405.8" cy="111.4" r="1.55" fill="#22c322"/>
<circle cx="410.1" cy="109.6" r="1.55" fill="#22c322"/>
<circle cx="414.4" cy="108.4" r="1.55" fill="#22c322"/>
<circle cx="418.7" cy="107.9" r="1.55" fill="#22c322"/>
<circle cx="423.0" cy="108.6" r="1.55" fill="#22c322"/>
<circle cx="427.3" cy="107.1" r="1.55" fill="#22c322"/>
<circle cx="431.6" cy="105.4" r="1.55" fill="#22c322"/>
<circle cx="435.9" cy="105.4" r="1.55" fill="#22c322"/>
<circle cx="440.2" cy="107.3" r="1.55" fill="#22c322"/>
<polyline points="476.4,118.2 481.2,117.6 486.0,117.0 492.1,116.4 498.1,114.0 502.9,111.9 507.7,111.6 510.7,111.9 513.8,108.6 516.8,105.9 520.4,103.7 522.8,105.5 525.8,104.9 528.8,105.5 531.8,108.0 535.4,104.3 540.0,101.8 543.3,100.4 547.1,99.9 550.9,101.3 555.3,103.7 559.1,106.7 562.4,109.8 565.7,109.8 569.0,108.4 572.8,107.6 576.7,107.4 580.5,107.8 584.3,109.1 588.1,110.9 591.4,112.2 595.3,113.8 602.9,113.8 610.1,113.7 620.3,114.5 630.5,115.5 640.8,116.8 651.0,118.4 656.1,119.6 662.2,120.1" fill="none" stroke="#22c322" stroke-width="1.1" stroke-linejoin="round" opacity="1"/>
<circle cx="476.4" cy="118.2" r="1.55" fill="#22c322"/>
<circle cx="480.2" cy="117.7" r="1.55" fill="#22c322"/>
<circle cx="484.0" cy="117.3" r="1.55" fill="#22c322"/>
<circle cx="487.8" cy="116.8" r="1.55" fill="#22c322"/>
<circle cx="491.6" cy="116.4" r="1.55" fill="#22c322"/>
<circle cx="495.4" cy="115.1" r="1.55" fill="#22c322"/>
<circle cx="499.2" cy="113.5" r="1.55" fill="#22c322"/>
<circle cx="503.0" cy="111.9" r="1.55" fill="#22c322"/>
<circle cx="506.8" cy="111.7" r="1.55" fill="#22c322"/>
<circle cx="510.6" cy="111.9" r="1.55" fill="#22c322"/>
<circle cx="514.4" cy="108.1" r="1.55" fill="#22c322"/>
<circle cx="518.2" cy="105.0" r="1.55" fill="#22c322"/>
<circle cx="522.0" cy="104.9" r="1.55" fill="#22c322"/>
<circle cx="525.8" cy="104.9" r="1.55" fill="#22c322"/>
<circle cx="529.6" cy="106.2" r="1.55" fill="#22c322"/>
<circle cx="533.4" cy="106.4" r="1.55" fill="#22c322"/>
<circle cx="537.2" cy="103.3" r="1.55" fill="#22c322"/>
<circle cx="541.0" cy="101.4" r="1.55" fill="#22c322"/>
<circle cx="544.8" cy="100.2" r="1.55" fill="#22c322"/>
<circle cx="548.6" cy="100.4" r="1.55" fill="#22c322"/>
<circle cx="552.4" cy="102.1" r="1.55" fill="#22c322"/>
<circle cx="556.2" cy="104.4" r="1.55" fill="#22c322"/>
<circle cx="560.0" cy="107.5" r="1.55" fill="#22c322"/>
<circle cx="563.8" cy="109.8" r="1.55" fill="#22c322"/>
<circle cx="567.6" cy="109.0" r="1.55" fill="#22c322"/>
<circle cx="571.4" cy="107.9" r="1.55" fill="#22c322"/>
<circle cx="575.2" cy="107.5" r="1.55" fill="#22c322"/>
<circle cx="579.0" cy="107.6" r="1.55" fill="#22c322"/>
<circle cx="582.8" cy="108.6" r="1.55" fill="#22c322"/>
<circle cx="586.6" cy="110.2" r="1.55" fill="#22c322"/>
<circle cx="590.4" cy="111.8" r="1.55" fill="#22c322"/>
<circle cx="594.2" cy="113.3" r="1.55" fill="#22c322"/>
<circle cx="598.0" cy="113.8" r="1.55" fill="#22c322"/>
<circle cx="601.8" cy="113.8" r="1.55" fill="#22c322"/>
<circle cx="605.6" cy="113.8" r="1.55" fill="#22c322"/>
<circle cx="609.4" cy="113.7" r="1.55" fill="#22c322"/>
<circle cx="613.2" cy="113.9" r="1.55" fill="#22c322"/>
<circle cx="617.0" cy="114.2" r="1.55" fill="#22c322"/>
<circle cx="620.8" cy="114.5" r="1.55" fill="#22c322"/>
<circle cx="624.6" cy="114.9" r="1.55" fill="#22c322"/>
<circle cx="628.4" cy="115.3" r="1.55" fill="#22c322"/>
<circle cx="632.2" cy="115.7" r="1.55" fill="#22c322"/>
<circle cx="636.0" cy="116.2" r="1.55" fill="#22c322"/>
<circle cx="639.8" cy="116.7" r="1.55" fill="#22c322"/>
<circle cx="643.6" cy="117.2" r="1.55" fill="#22c322"/>
<circle cx="647.4" cy="117.8" r="1.55" fill="#22c322"/>
<circle cx="651.2" cy="118.4" r="1.55" fill="#22c322"/>
<circle cx="655.0" cy="119.3" r="1.55" fill="#22c322"/>
<circle cx="658.8" cy="119.8" r="1.55" fill="#22c322"/>
<polyline points="34.3,269.1 45.7,269.5 55.9,268.5 63.5,267.2 71.2,266.5 77.5,266.3 87.7,266.3 95.0,266.2 105.3,266.2 115.5,266.7 125.8,267.3 136.1,267.3 144.3,265.2 150.4,266.2 160.0,265.8 168.0,265.8 176.1,266.1 180.9,266.6 185.7,268.7 195.3,269.3 208.2,269.0 220.2,266.1" fill="none" stroke="#22c322" stroke-width="1.1" stroke-linejoin="round" opacity="1"/>
<circle cx="34.3" cy="269.1" r="1.55" fill="#22c322"/>
<circle cx="39.4" cy="269.3" r="1.55" fill="#22c322"/>
<circle cx="44.5" cy="269.5" r="1.55" fill="#22c322"/>
<circle cx="49.6" cy="269.1" r="1.55" fill="#22c322"/>
<circle cx="54.7" cy="268.6" r="1.55" fill="#22c322"/>
<circle cx="59.8" cy="267.8" r="1.55" fill="#22c322"/>
<circle cx="64.9" cy="267.1" r="1.55" fill="#22c322"/>
<circle cx="70.0" cy="266.6" r="1.55" fill="#22c322"/>
<circle cx="75.1" cy="266.4" r="1.55" fill="#22c322"/>
<circle cx="80.2" cy="266.3" r="1.55" fill="#22c322"/>
<circle cx="85.3" cy="266.3" r="1.55" fill="#22c322"/>
<circle cx="90.4" cy="266.3" r="1.55" fill="#22c322"/>
<circle cx="95.5" cy="266.2" r="1.55" fill="#22c322"/>
<circle cx="100.6" cy="266.2" r="1.55" fill="#22c322"/>
<circle cx="105.7" cy="266.2" r="1.55" fill="#22c322"/>
<circle cx="110.8" cy="266.5" r="1.55" fill="#22c322"/>
<circle cx="115.8" cy="266.7" r="1.55" fill="#22c322"/>
<circle cx="120.9" cy="267.0" r="1.55" fill="#22c322"/>
<circle cx="126.0" cy="267.3" r="1.55" fill="#22c322"/>
<circle cx="131.1" cy="267.3" r="1.55" fill="#22c322"/>
<circle cx="136.2" cy="267.3" r="1.55" fill="#22c322"/>
<circle cx="141.3" cy="266.0" r="1.55" fill="#22c322"/>
<circle cx="146.4" cy="265.5" r="1.55" fill="#22c322"/>
<circle cx="151.5" cy="266.2" r="1.55" fill="#22c322"/>
<circle cx="156.6" cy="265.9" r="1.55" fill="#22c322"/>
<circle cx="161.7" cy="265.8" r="1.55" fill="#22c322"/>
<circle cx="166.8" cy="265.8" r="1.55" fill="#22c322"/>
<circle cx="171.9" cy="265.9" r="1.55" fill="#22c322"/>
<circle cx="177.0" cy="266.2" r="1.55" fill="#22c322"/>
<circle cx="182.1" cy="267.1" r="1.55" fill="#22c322"/>
<circle cx="187.2" cy="268.8" r="1.55" fill="#22c322"/>
<circle cx="192.3" cy="269.1" r="1.55" fill="#22c322"/>
<circle cx="197.4" cy="269.3" r="1.55" fill="#22c322"/>
<circle cx="202.5" cy="269.1" r="1.55" fill="#22c322"/>
<circle cx="207.6" cy="269.0" r="1.55" fill="#22c322"/>
<circle cx="212.7" cy="267.9" r="1.55" fill="#22c322"/>
<circle cx="217.8" cy="266.7" r="1.55" fill="#22c322"/>
<polyline points="254.5,254.9 258.8,254.5 263.2,255.4 267.6,256.8 272.0,259.3 276.4,262.2 280.7,264.4 285.1,265.9 291.0,267.0 296.8,267.6 304.1,268.1 311.4,267.6 318.7,266.6 324.5,265.1 330.4,263.7 336.2,261.8 340.6,260.0 345.0,258.1 350.1,256.6 355.2,255.6 360.3,253.2 365.4,251.8 370.5,250.8 374.9,251.8 378.6,253.2 383.0,256.6 389.5,260.3 393.9,258.8 399.0,258.4 406.3,258.1 412.2,258.1 416.5,258.8 421.6,260.3 426.8,262.0 432.6,263.9 437.0,265.4 441.1,266.4" fill="none" stroke="#22c322" stroke-width="1.1" stroke-linejoin="round" opacity="1"/>
<circle cx="254.5" cy="254.9" r="1.55" fill="#22c322"/>
<circle cx="259.3" cy="254.6" r="1.55" fill="#22c322"/>
<circle cx="264.1" cy="255.7" r="1.55" fill="#22c322"/>
<circle cx="268.9" cy="257.5" r="1.55" fill="#22c322"/>
<circle cx="273.7" cy="260.4" r="1.55" fill="#22c322"/>
<circle cx="278.5" cy="263.3" r="1.55" fill="#22c322"/>
<circle cx="283.3" cy="265.3" r="1.55" fill="#22c322"/>
<circle cx="288.1" cy="266.5" r="1.55" fill="#22c322"/>
<circle cx="292.8" cy="267.2" r="1.55" fill="#22c322"/>
<circle cx="297.6" cy="267.7" r="1.55" fill="#22c322"/>
<circle cx="302.4" cy="268.0" r="1.55" fill="#22c322"/>
<circle cx="307.2" cy="267.9" r="1.55" fill="#22c322"/>
<circle cx="312.0" cy="267.5" r="1.55" fill="#22c322"/>
<circle cx="316.8" cy="266.9" r="1.55" fill="#22c322"/>
<circle cx="321.6" cy="265.8" r="1.55" fill="#22c322"/>
<circle cx="326.4" cy="264.6" r="1.55" fill="#22c322"/>
<circle cx="331.2" cy="263.4" r="1.55" fill="#22c322"/>
<circle cx="336.0" cy="261.9" r="1.55" fill="#22c322"/>
<circle cx="340.8" cy="259.9" r="1.55" fill="#22c322"/>
<circle cx="345.6" cy="257.9" r="1.55" fill="#22c322"/>
<circle cx="350.4" cy="256.5" r="1.55" fill="#22c322"/>
<circle cx="355.2" cy="255.6" r="1.55" fill="#22c322"/>
<circle cx="360.0" cy="253.4" r="1.55" fill="#22c322"/>
<circle cx="364.7" cy="252.0" r="1.55" fill="#22c322"/>
<circle cx="369.5" cy="251.0" r="1.55" fill="#22c322"/>
<circle cx="374.3" cy="251.7" r="1.55" fill="#22c322"/>
<circle cx="379.1" cy="253.6" r="1.55" fill="#22c322"/>
<circle cx="383.9" cy="257.1" r="1.55" fill="#22c322"/>
<circle cx="388.7" cy="259.9" r="1.55" fill="#22c322"/>
<circle cx="393.5" cy="258.9" r="1.55" fill="#22c322"/>
<circle cx="398.3" cy="258.5" r="1.55" fill="#22c322"/>
<circle cx="403.1" cy="258.2" r="1.55" fill="#22c322"/>
<circle cx="407.9" cy="258.1" r="1.55" fill="#22c322"/>
<circle cx="412.7" cy="258.2" r="1.55" fill="#22c322"/>
<circle cx="417.5" cy="259.1" r="1.55" fill="#22c322"/>
<circle cx="422.3" cy="260.5" r="1.55" fill="#22c322"/>
<circle cx="427.1" cy="262.1" r="1.55" fill="#22c322"/>
<circle cx="431.8" cy="263.7" r="1.55" fill="#22c322"/>
<circle cx="436.6" cy="265.3" r="1.55" fill="#22c322"/>
<polyline points="476.5,263.2 483.8,263.2 489.6,263.2 494.0,263.2 498.4,261.4 503.5,257.3 508.6,253.2 513.7,249.3 518.8,246.4 523.9,244.9 529.0,244.9 533.4,242.4 537.8,244.2 542.2,247.1 545.8,250.3 550.9,245.7 556.8,241.3 562.6,238.4 568.4,237.2 574.8,238.0 578.7,241.5 582.7,246.3 586.6,250.7 591.4,254.7 596.1,257.8 600.1,259.4 604.1,260.2 608.0,257.1 612.0,253.9 617.5,251.5 623.1,251.0 628.6,252.3 634.2,254.7 639.7,257.4 645.3,260.2 650.8,263.1 656.4,265.0 662.2,266.2" fill="none" stroke="#22c322" stroke-width="1.1" stroke-linejoin="round" opacity="1"/>
<circle cx="476.5" cy="263.2" r="1.55" fill="#22c322"/>
<circle cx="481.8" cy="263.2" r="1.55" fill="#22c322"/>
<circle cx="487.1" cy="263.2" r="1.55" fill="#22c322"/>
<circle cx="492.4" cy="263.2" r="1.55" fill="#22c322"/>
<circle cx="497.8" cy="261.7" r="1.55" fill="#22c322"/>
<circle cx="503.1" cy="257.6" r="1.55" fill="#22c322"/>
<circle cx="508.4" cy="253.4" r="1.55" fill="#22c322"/>
<circle cx="513.7" cy="249.3" r="1.55" fill="#22c322"/>
<circle cx="519.0" cy="246.3" r="1.55" fill="#22c322"/>
<circle cx="524.3" cy="244.9" r="1.55" fill="#22c322"/>
<circle cx="529.6" cy="244.5" r="1.55" fill="#22c322"/>
<circle cx="534.9" cy="243.0" r="1.55" fill="#22c322"/>
<circle cx="540.3" cy="245.8" r="1.55" fill="#22c322"/>
<circle cx="545.6" cy="250.1" r="1.55" fill="#22c322"/>
<circle cx="550.9" cy="245.7" r="1.55" fill="#22c322"/>
<circle cx="556.2" cy="241.8" r="1.55" fill="#22c322"/>
<circle cx="561.5" cy="238.9" r="1.55" fill="#22c322"/>
<circle cx="566.8" cy="237.5" r="1.55" fill="#22c322"/>
<circle cx="572.1" cy="237.7" r="1.55" fill="#22c322"/>
<circle cx="577.4" cy="240.4" r="1.55" fill="#22c322"/>
<circle cx="582.8" cy="246.4" r="1.55" fill="#22c322"/>
<circle cx="588.1" cy="251.9" r="1.55" fill="#22c322"/>
<circle cx="593.4" cy="256.0" r="1.55" fill="#22c322"/>
<circle cx="598.7" cy="258.8" r="1.55" fill="#22c322"/>
<circle cx="604.0" cy="260.2" r="1.55" fill="#22c322"/>
<circle cx="609.3" cy="256.0" r="1.55" fill="#22c322"/>
<circle cx="614.6" cy="252.7" r="1.55" fill="#22c322"/>
<circle cx="620.0" cy="251.3" r="1.55" fill="#22c322"/>
<circle cx="625.3" cy="251.5" r="1.55" fill="#22c322"/>
<circle cx="630.6" cy="253.1" r="1.55" fill="#22c322"/>
<circle cx="635.9" cy="255.5" r="1.55" fill="#22c322"/>
<circle cx="641.2" cy="258.2" r="1.55" fill="#22c322"/>
<circle cx="646.5" cy="260.8" r="1.55" fill="#22c322"/>
<circle cx="651.8" cy="263.4" r="1.55" fill="#22c322"/>
<circle cx="657.1" cy="265.2" r="1.55" fill="#22c322"/>
<polyline points="35.2,414.0 38.4,409.5 42.2,405.1 46.0,406.4 49.8,408.3 54.3,410.6 58.7,412.3 63.2,414.0 67.6,415.3 71.5,414.0 76.5,411.8 81.6,410.6 86.7,410.2 91.8,410.6 95.0,411.5 100.2,412.1 105.5,413.6 110.0,412.1 114.4,411.5 118.9,411.1 123.4,410.6 127.9,411.8 133.1,410.6 138.3,410.6 144.3,411.1 150.3,413.3 155.5,415.5 160.8,417.0 165.3,417.0 169.0,417.0" fill="none" stroke="#22c322" stroke-width="1.1" stroke-linejoin="round" opacity="1"/>
<circle cx="35.2" cy="414.0" r="1.55" fill="#22c322"/>
<circle cx="40.6" cy="406.9" r="1.55" fill="#22c322"/>
<circle cx="46.0" cy="406.4" r="1.55" fill="#22c322"/>
<circle cx="51.5" cy="409.1" r="1.55" fill="#22c322"/>
<circle cx="56.9" cy="411.6" r="1.55" fill="#22c322"/>
<circle cx="62.3" cy="413.7" r="1.55" fill="#22c322"/>
<circle cx="67.7" cy="415.3" r="1.55" fill="#22c322"/>
<circle cx="73.1" cy="413.3" r="1.55" fill="#22c322"/>
<circle cx="78.6" cy="411.3" r="1.55" fill="#22c322"/>
<circle cx="84.0" cy="410.4" r="1.55" fill="#22c322"/>
<circle cx="89.4" cy="410.4" r="1.55" fill="#22c322"/>
<circle cx="94.8" cy="411.4" r="1.55" fill="#22c322"/>
<circle cx="100.2" cy="412.1" r="1.55" fill="#22c322"/>
<circle cx="105.6" cy="413.6" r="1.55" fill="#22c322"/>
<circle cx="111.1" cy="412.0" r="1.55" fill="#22c322"/>
<circle cx="116.5" cy="411.3" r="1.55" fill="#22c322"/>
<circle cx="121.9" cy="410.8" r="1.55" fill="#22c322"/>
<circle cx="127.3" cy="411.6" r="1.55" fill="#22c322"/>
<circle cx="132.7" cy="410.7" r="1.55" fill="#22c322"/>
<circle cx="138.2" cy="410.6" r="1.55" fill="#22c322"/>
<circle cx="143.6" cy="411.0" r="1.55" fill="#22c322"/>
<circle cx="149.0" cy="412.8" r="1.55" fill="#22c322"/>
<circle cx="154.4" cy="415.0" r="1.55" fill="#22c322"/>
<circle cx="159.8" cy="416.7" r="1.55" fill="#22c322"/>
<circle cx="165.3" cy="417.0" r="1.55" fill="#22c322"/>
<polyline points="207.0,408.4 214.0,406.8 222.1,406.0 230.1,408.0 239.2,411.4 246.2,408.8 250.0,406.5 254.1,403.4 258.2,400.3 262.1,398.1 265.3,401.3 268.9,406.5 272.5,410.5 276.1,413.6 279.6,415.1 283.2,413.6 287.3,411.4 290.9,408.0 294.5,404.4 298.0,400.3 301.1,398.8 304.2,398.3 307.2,396.8 310.8,396.4 314.4,398.3 317.4,400.8 320.0,402.9 324.3,405.9 329.3,411.4 335.3,415.4 345.4,416.8 351.4,416.8" fill="none" stroke="#22c322" stroke-width="1.1" stroke-linejoin="round" opacity="1"/>
<circle cx="207.0" cy="408.4" r="1.55" fill="#22c322"/>
<circle cx="210.6" cy="407.6" r="1.55" fill="#22c322"/>
<circle cx="214.1" cy="406.8" r="1.55" fill="#22c322"/>
<circle cx="217.7" cy="406.4" r="1.55" fill="#22c322"/>
<circle cx="221.2" cy="406.1" r="1.55" fill="#22c322"/>
<circle cx="224.8" cy="406.7" r="1.55" fill="#22c322"/>
<circle cx="228.3" cy="407.6" r="1.55" fill="#22c322"/>
<circle cx="231.9" cy="408.7" r="1.55" fill="#22c322"/>
<circle cx="235.4" cy="410.0" r="1.55" fill="#22c322"/>
<circle cx="239.0" cy="411.3" r="1.55" fill="#22c322"/>
<circle cx="242.6" cy="410.2" r="1.55" fill="#22c322"/>
<circle cx="246.1" cy="408.8" r="1.55" fill="#22c322"/>
<circle cx="249.7" cy="406.7" r="1.55" fill="#22c322"/>
<circle cx="253.2" cy="404.1" r="1.55" fill="#22c322"/>
<circle cx="256.8" cy="401.4" r="1.55" fill="#22c322"/>
<circle cx="260.3" cy="399.1" r="1.55" fill="#22c322"/>
<circle cx="263.9" cy="399.9" r="1.55" fill="#22c322"/>
<circle cx="267.4" cy="404.4" r="1.55" fill="#22c322"/>
<circle cx="271.0" cy="408.8" r="1.55" fill="#22c322"/>
<circle cx="274.6" cy="412.3" r="1.55" fill="#22c322"/>
<circle cx="278.1" cy="414.5" r="1.55" fill="#22c322"/>
<circle cx="281.7" cy="414.2" r="1.55" fill="#22c322"/>
<circle cx="285.2" cy="412.5" r="1.55" fill="#22c322"/>
<circle cx="288.8" cy="410.0" r="1.55" fill="#22c322"/>
<circle cx="292.3" cy="406.6" r="1.55" fill="#22c322"/>
<circle cx="295.9" cy="402.8" r="1.55" fill="#22c322"/>
<circle cx="299.5" cy="399.6" r="1.55" fill="#22c322"/>
<circle cx="303.0" cy="398.5" r="1.55" fill="#22c322"/>
<circle cx="306.6" cy="397.1" r="1.55" fill="#22c322"/>
<circle cx="310.1" cy="396.5" r="1.55" fill="#22c322"/>
<circle cx="313.7" cy="397.9" r="1.55" fill="#22c322"/>
<circle cx="317.2" cy="400.7" r="1.55" fill="#22c322"/>
<circle cx="320.8" cy="403.4" r="1.55" fill="#22c322"/>
<circle cx="324.3" cy="405.9" r="1.55" fill="#22c322"/>
<circle cx="327.9" cy="409.9" r="1.55" fill="#22c322"/>
<circle cx="331.5" cy="412.8" r="1.55" fill="#22c322"/>
<circle cx="335.0" cy="415.2" r="1.55" fill="#22c322"/>
<circle cx="338.6" cy="415.9" r="1.55" fill="#22c322"/>
<circle cx="342.1" cy="416.3" r="1.55" fill="#22c322"/>
<circle cx="345.7" cy="416.8" r="1.55" fill="#22c322"/>
<circle cx="349.2" cy="416.8" r="1.55" fill="#22c322"/>
<polyline points="378.3,414.1 385.4,414.4 391.6,414.1 397.9,414.8 404.1,415.9 410.4,416.9 416.6,416.4 422.9,414.8 429.1,412.2 435.4,410.2 441.6,409.1 446.3,408.6 452.5,408.1 461.1,408.1 463.4,405.5 467.3,408.6 471.3,410.6 475.2,412.5 479.1,412.2 482.2,414.1 486.9,417.2 493.1,417.5 502.5,417.5 512.7,417.2" fill="none" stroke="#22c322" stroke-width="1.1" stroke-linejoin="round" opacity="1"/>
<circle cx="378.3" cy="414.1" r="1.55" fill="#22c322"/>
<circle cx="382.9" cy="414.3" r="1.55" fill="#22c322"/>
<circle cx="387.5" cy="414.3" r="1.55" fill="#22c322"/>
<circle cx="392.1" cy="414.2" r="1.55" fill="#22c322"/>
<circle cx="396.7" cy="414.7" r="1.55" fill="#22c322"/>
<circle cx="401.3" cy="415.4" r="1.55" fill="#22c322"/>
<circle cx="405.9" cy="416.2" r="1.55" fill="#22c322"/>
<circle cx="410.5" cy="416.9" r="1.55" fill="#22c322"/>
<circle cx="415.1" cy="416.5" r="1.55" fill="#22c322"/>
<circle cx="419.7" cy="415.6" r="1.55" fill="#22c322"/>
<circle cx="424.3" cy="414.2" r="1.55" fill="#22c322"/>
<circle cx="428.9" cy="412.3" r="1.55" fill="#22c322"/>
<circle cx="433.5" cy="410.8" r="1.55" fill="#22c322"/>
<circle cx="438.1" cy="409.7" r="1.55" fill="#22c322"/>
<circle cx="442.7" cy="409.0" r="1.55" fill="#22c322"/>
<circle cx="447.3" cy="408.5" r="1.55" fill="#22c322"/>
<circle cx="451.9" cy="408.1" r="1.55" fill="#22c322"/>
<circle cx="456.5" cy="408.1" r="1.55" fill="#22c322"/>
<circle cx="461.1" cy="408.1" r="1.55" fill="#22c322"/>
<circle cx="465.7" cy="407.3" r="1.55" fill="#22c322"/>
<circle cx="470.3" cy="410.1" r="1.55" fill="#22c322"/>
<circle cx="474.9" cy="412.4" r="1.55" fill="#22c322"/>
<circle cx="479.5" cy="412.4" r="1.55" fill="#22c322"/>
<circle cx="484.1" cy="415.4" r="1.55" fill="#22c322"/>
<circle cx="488.7" cy="417.3" r="1.55" fill="#22c322"/>
<circle cx="493.3" cy="417.5" r="1.55" fill="#22c322"/>
<circle cx="497.9" cy="417.5" r="1.55" fill="#22c322"/>
<circle cx="502.5" cy="417.5" r="1.55" fill="#22c322"/>
<circle cx="507.1" cy="417.4" r="1.55" fill="#22c322"/>
<circle cx="511.7" cy="417.2" r="1.55" fill="#22c322"/>
<polyline points="544.4,414.5 547.4,413.4 552.5,413.4 557.3,413.7 562.1,414.1 567.3,413.0 572.0,411.2 576.8,409.7 579.4,408.3 583.8,406.8 588.1,405.4 592.5,403.9 596.0,403.5 600.4,400.0 604.7,398.0 613.5,398.0 618.4,398.8 623.2,401.2 629.6,405.2 635.2,409.0 640.8,409.6 648.9,410.9 658.5,412.5 668.1,414.1 677.8,415.4" fill="none" stroke="#22c322" stroke-width="1.1" stroke-linejoin="round" opacity="1"/>
<circle cx="544.4" cy="414.5" r="1.55" fill="#22c322"/>
<circle cx="548.9" cy="413.4" r="1.55" fill="#22c322"/>
<circle cx="553.4" cy="413.5" r="1.55" fill="#22c322"/>
<circle cx="557.8" cy="413.7" r="1.55" fill="#22c322"/>
<circle cx="562.3" cy="414.1" r="1.55" fill="#22c322"/>
<circle cx="566.8" cy="413.1" r="1.55" fill="#22c322"/>
<circle cx="571.3" cy="411.5" r="1.55" fill="#22c322"/>
<circle cx="575.8" cy="410.0" r="1.55" fill="#22c322"/>
<circle cx="580.2" cy="408.0" r="1.55" fill="#22c322"/>
<circle cx="584.7" cy="406.5" r="1.55" fill="#22c322"/>
<circle cx="589.2" cy="405.0" r="1.55" fill="#22c322"/>
<circle cx="593.7" cy="403.8" r="1.55" fill="#22c322"/>
<circle cx="598.2" cy="401.8" r="1.55" fill="#22c322"/>
<circle cx="602.6" cy="399.0" r="1.55" fill="#22c322"/>
<circle cx="607.1" cy="398.0" r="1.55" fill="#22c322"/>
<circle cx="611.6" cy="398.0" r="1.55" fill="#22c322"/>
<circle cx="616.1" cy="398.4" r="1.55" fill="#22c322"/>
<circle cx="620.6" cy="399.9" r="1.55" fill="#22c322"/>
<circle cx="625.0" cy="402.4" r="1.55" fill="#22c322"/>
<circle cx="629.5" cy="405.2" r="1.55" fill="#22c322"/>
<circle cx="634.0" cy="408.2" r="1.55" fill="#22c322"/>
<circle cx="638.5" cy="409.4" r="1.55" fill="#22c322"/>
<circle cx="643.0" cy="409.9" r="1.55" fill="#22c322"/>
<circle cx="647.4" cy="410.7" r="1.55" fill="#22c322"/>
<circle cx="651.9" cy="411.4" r="1.55" fill="#22c322"/>
<circle cx="656.4" cy="412.2" r="1.55" fill="#22c322"/>
<circle cx="660.9" cy="412.9" r="1.55" fill="#22c322"/>
<circle cx="665.4" cy="413.6" r="1.55" fill="#22c322"/>
<circle cx="669.9" cy="414.3" r="1.55" fill="#22c322"/>
<circle cx="674.3" cy="414.9" r="1.55" fill="#22c322"/>
<polyline points="34.8,114.9 41.8,115.3 50.5,112.5 57.5,113.1 63.6,115.3 72.4,118.0 81.2,119.7 93.0,120.8 100.0,118.8 104.9,117.8 109.8,114.9 114.7,111.9 119.6,110.0 125.5,109.3 130.5,110.9 134.4,112.9 137.3,116.3 141.3,116.8 149.1,116.3 155.0,116.8 160.0,117.6 166.0,119.5 172.1,120.1 178.1,117.6 184.1,112.8 190.2,111.6 193.8,109.8 198.6,105.0 202.8,103.2 205.2,97.1 207.6,94.1 210.1,99.6 213.7,102.6 216.7,106.8 219.7,112.2" fill="none" stroke="#ff8a00" stroke-width="1.1" stroke-linejoin="round" opacity="1"/>
<circle cx="34.8" cy="114.9" r="1.55" fill="#ff8a00"/>
<circle cx="38.0" cy="115.1" r="1.55" fill="#ff8a00"/>
<circle cx="41.2" cy="115.3" r="1.55" fill="#ff8a00"/>
<circle cx="44.5" cy="114.4" r="1.55" fill="#ff8a00"/>
<circle cx="47.7" cy="113.4" r="1.55" fill="#ff8a00"/>
<circle cx="50.9" cy="112.5" r="1.55" fill="#ff8a00"/>
<circle cx="54.1" cy="112.8" r="1.55" fill="#ff8a00"/>
<circle cx="57.3" cy="113.1" r="1.55" fill="#ff8a00"/>
<circle cx="60.6" cy="114.2" r="1.55" fill="#ff8a00"/>
<circle cx="63.8" cy="115.4" r="1.55" fill="#ff8a00"/>
<circle cx="67.0" cy="116.3" r="1.55" fill="#ff8a00"/>
<circle cx="70.2" cy="117.3" r="1.55" fill="#ff8a00"/>
<circle cx="73.4" cy="118.2" r="1.55" fill="#ff8a00"/>
<circle cx="76.7" cy="118.8" r="1.55" fill="#ff8a00"/>
<circle cx="79.9" cy="119.4" r="1.55" fill="#ff8a00"/>
<circle cx="83.1" cy="119.9" r="1.55" fill="#ff8a00"/>
<circle cx="86.3" cy="120.2" r="1.55" fill="#ff8a00"/>
<circle cx="89.5" cy="120.5" r="1.55" fill="#ff8a00"/>
<circle cx="92.8" cy="120.8" r="1.55" fill="#ff8a00"/>
<circle cx="96.0" cy="119.9" r="1.55" fill="#ff8a00"/>
<circle cx="99.2" cy="119.0" r="1.55" fill="#ff8a00"/>
<circle cx="102.4" cy="118.3" r="1.55" fill="#ff8a00"/>
<circle cx="105.6" cy="117.4" r="1.55" fill="#ff8a00"/>
<circle cx="108.9" cy="115.5" r="1.55" fill="#ff8a00"/>
<circle cx="112.1" cy="113.5" r="1.55" fill="#ff8a00"/>
<circle cx="115.3" cy="111.7" r="1.55" fill="#ff8a00"/>
<circle cx="118.5" cy="110.4" r="1.55" fill="#ff8a00"/>
<circle cx="121.7" cy="109.7" r="1.55" fill="#ff8a00"/>
<circle cx="125.0" cy="109.4" r="1.55" fill="#ff8a00"/>
<circle cx="128.2" cy="110.2" r="1.55" fill="#ff8a00"/>
<circle cx="131.4" cy="111.4" r="1.55" fill="#ff8a00"/>
<circle cx="134.6" cy="113.2" r="1.55" fill="#ff8a00"/>
<circle cx="137.8" cy="116.4" r="1.55" fill="#ff8a00"/>
<circle cx="141.1" cy="116.8" r="1.55" fill="#ff8a00"/>
<circle cx="144.3" cy="116.6" r="1.55" fill="#ff8a00"/>
<circle cx="147.5" cy="116.4" r="1.55" fill="#ff8a00"/>
<circle cx="150.7" cy="116.4" r="1.55" fill="#ff8a00"/>
<circle cx="153.9" cy="116.7" r="1.55" fill="#ff8a00"/>
<circle cx="157.2" cy="117.1" r="1.55" fill="#ff8a00"/>
<circle cx="160.4" cy="117.7" r="1.55" fill="#ff8a00"/>
<circle cx="163.6" cy="118.7" r="1.55" fill="#ff8a00"/>
<circle cx="166.8" cy="119.6" r="1.55" fill="#ff8a00"/>
<circle cx="170.0" cy="119.9" r="1.55" fill="#ff8a00"/>
<circle cx="173.3" cy="119.6" r="1.55" fill="#ff8a00"/>
<circle cx="176.5" cy="118.3" r="1.55" fill="#ff8a00"/>
<circle cx="179.7" cy="116.3" r="1.55" fill="#ff8a00"/>
<circle cx="182.9" cy="113.7" r="1.55" fill="#ff8a00"/>
<circle cx="186.1" cy="112.4" r="1.55" fill="#ff8a00"/>
<circle cx="189.4" cy="111.8" r="1.55" fill="#ff8a00"/>
<circle cx="192.6" cy="110.4" r="1.55" fill="#ff8a00"/>
<circle cx="195.8" cy="107.8" r="1.55" fill="#ff8a00"/>
<circle cx="199.0" cy="104.8" r="1.55" fill="#ff8a00"/>
<circle cx="202.2" cy="103.4" r="1.55" fill="#ff8a00"/>
<circle cx="205.5" cy="96.8" r="1.55" fill="#ff8a00"/>
<circle cx="208.7" cy="96.5" r="1.55" fill="#ff8a00"/>
<circle cx="211.9" cy="101.1" r="1.55" fill="#ff8a00"/>
<circle cx="215.1" cy="104.6" r="1.55" fill="#ff8a00"/>
<circle cx="218.3" cy="109.8" r="1.55" fill="#ff8a00"/>
<polyline points="255.1,116.4 264.4,114.3 274.4,113.6 284.4,112.1 293.0,111.7 300.1,113.1 307.3,115.0 313.0,112.6 318.0,109.7 322.6,109.7 327.2,111.2 331.9,104.3 335.7,97.4 339.6,94.8 343.4,96.3 347.3,100.5 351.1,102.0 355.0,105.8 358.1,110.5 361.1,116.6 367.3,117.4 380.0,117.4 392.3,118.5 401.6,117.4 410.8,115.9 420.1,114.8 429.3,114.3 437.0,115.4 441.6,117.9" fill="none" stroke="#ff8a00" stroke-width="1.1" stroke-linejoin="round" opacity="1"/>
<circle cx="255.1" cy="116.4" r="1.55" fill="#ff8a00"/>
<circle cx="259.4" cy="115.4" r="1.55" fill="#ff8a00"/>
<circle cx="263.7" cy="114.5" r="1.55" fill="#ff8a00"/>
<circle cx="268.0" cy="114.0" r="1.55" fill="#ff8a00"/>
<circle cx="272.3" cy="113.7" r="1.55" fill="#ff8a00"/>
<circle cx="276.6" cy="113.3" r="1.55" fill="#ff8a00"/>
<circle cx="280.9" cy="112.6" r="1.55" fill="#ff8a00"/>
<circle cx="285.2" cy="112.1" r="1.55" fill="#ff8a00"/>
<circle cx="289.5" cy="111.9" r="1.55" fill="#ff8a00"/>
<circle cx="293.9" cy="111.9" r="1.55" fill="#ff8a00"/>
<circle cx="298.2" cy="112.7" r="1.55" fill="#ff8a00"/>
<circle cx="302.5" cy="113.7" r="1.55" fill="#ff8a00"/>
<circle cx="306.8" cy="114.9" r="1.55" fill="#ff8a00"/>
<circle cx="311.1" cy="113.4" r="1.55" fill="#ff8a00"/>
<circle cx="315.4" cy="111.2" r="1.55" fill="#ff8a00"/>
<circle cx="319.7" cy="109.7" r="1.55" fill="#ff8a00"/>
<circle cx="324.0" cy="110.2" r="1.55" fill="#ff8a00"/>
<circle cx="328.3" cy="109.6" r="1.55" fill="#ff8a00"/>
<circle cx="332.6" cy="103.0" r="1.55" fill="#ff8a00"/>
<circle cx="336.9" cy="96.6" r="1.55" fill="#ff8a00"/>
<circle cx="341.2" cy="95.4" r="1.55" fill="#ff8a00"/>
<circle cx="345.5" cy="98.6" r="1.55" fill="#ff8a00"/>
<circle cx="349.8" cy="101.5" r="1.55" fill="#ff8a00"/>
<circle cx="354.1" cy="105.0" r="1.55" fill="#ff8a00"/>
<circle cx="358.4" cy="111.2" r="1.55" fill="#ff8a00"/>
<circle cx="362.7" cy="116.8" r="1.55" fill="#ff8a00"/>
<circle cx="367.0" cy="117.4" r="1.55" fill="#ff8a00"/>
<circle cx="371.4" cy="117.4" r="1.55" fill="#ff8a00"/>
<circle cx="375.7" cy="117.4" r="1.55" fill="#ff8a00"/>
<circle cx="380.0" cy="117.4" r="1.55" fill="#ff8a00"/>
<circle cx="384.3" cy="117.8" r="1.55" fill="#ff8a00"/>
<circle cx="388.6" cy="118.2" r="1.55" fill="#ff8a00"/>
<circle cx="392.9" cy="118.4" r="1.55" fill="#ff8a00"/>
<circle cx="397.2" cy="117.9" r="1.55" fill="#ff8a00"/>
<circle cx="401.5" cy="117.4" r="1.55" fill="#ff8a00"/>
<circle cx="405.8" cy="116.7" r="1.55" fill="#ff8a00"/>
<circle cx="410.1" cy="116.0" r="1.55" fill="#ff8a00"/>
<circle cx="414.4" cy="115.5" r="1.55" fill="#ff8a00"/>
<circle cx="418.7" cy="115.0" r="1.55" fill="#ff8a00"/>
<circle cx="423.0" cy="114.6" r="1.55" fill="#ff8a00"/>
<circle cx="427.3" cy="114.4" r="1.55" fill="#ff8a00"/>
<circle cx="431.6" cy="114.6" r="1.55" fill="#ff8a00"/>
<circle cx="435.9" cy="115.2" r="1.55" fill="#ff8a00"/>
<circle cx="440.2" cy="117.2" r="1.55" fill="#ff8a00"/>
<polyline points="476.4,114.0 481.2,110.4 486.0,108.3 490.9,108.0 495.1,108.6 498.7,105.5 502.9,102.8 506.5,101.6 510.1,104.3 513.2,95.9 516.2,91.1 519.8,87.5 522.2,92.9 525.2,97.1 528.2,101.6 531.8,111.0 535.4,104.9 540.0,104.8 543.8,105.6 547.7,107.3 551.5,110.0 555.3,112.7 558.6,116.0 561.9,117.5 565.7,117.1 572.8,116.0 577.2,114.6 581.6,113.3 586.0,112.2 590.3,111.3 594.7,110.9 603.5,110.2 610.1,110.2 615.2,111.2 620.3,112.3 625.4,114.0 630.5,115.3 635.6,116.0 640.8,117.4 645.9,118.4 651.0,118.9 656.1,119.4 662.2,119.6" fill="none" stroke="#ff8a00" stroke-width="1.1" stroke-linejoin="round" opacity="1"/>
<circle cx="476.4" cy="114.0" r="1.55" fill="#ff8a00"/>
<circle cx="480.2" cy="111.2" r="1.55" fill="#ff8a00"/>
<circle cx="484.0" cy="109.2" r="1.55" fill="#ff8a00"/>
<circle cx="487.8" cy="108.2" r="1.55" fill="#ff8a00"/>
<circle cx="491.6" cy="108.1" r="1.55" fill="#ff8a00"/>
<circle cx="495.4" cy="108.3" r="1.55" fill="#ff8a00"/>
<circle cx="499.2" cy="105.2" r="1.55" fill="#ff8a00"/>
<circle cx="503.0" cy="102.8" r="1.55" fill="#ff8a00"/>
<circle cx="506.8" cy="101.8" r="1.55" fill="#ff8a00"/>
<circle cx="510.6" cy="103.0" r="1.55" fill="#ff8a00"/>
<circle cx="514.4" cy="94.0" r="1.55" fill="#ff8a00"/>
<circle cx="518.2" cy="89.1" r="1.55" fill="#ff8a00"/>
<circle cx="522.0" cy="92.4" r="1.55" fill="#ff8a00"/>
<circle cx="525.8" cy="98.0" r="1.55" fill="#ff8a00"/>
<circle cx="529.6" cy="105.2" r="1.55" fill="#ff8a00"/>
<circle cx="533.4" cy="108.3" r="1.55" fill="#ff8a00"/>
<circle cx="537.2" cy="104.9" r="1.55" fill="#ff8a00"/>
<circle cx="541.0" cy="105.0" r="1.55" fill="#ff8a00"/>
<circle cx="544.8" cy="106.0" r="1.55" fill="#ff8a00"/>
<circle cx="548.6" cy="107.9" r="1.55" fill="#ff8a00"/>
<circle cx="552.4" cy="110.6" r="1.55" fill="#ff8a00"/>
<circle cx="556.2" cy="113.6" r="1.55" fill="#ff8a00"/>
<circle cx="560.0" cy="116.6" r="1.55" fill="#ff8a00"/>
<circle cx="563.8" cy="117.3" r="1.55" fill="#ff8a00"/>
<circle cx="567.6" cy="116.8" r="1.55" fill="#ff8a00"/>
<circle cx="571.4" cy="116.2" r="1.55" fill="#ff8a00"/>
<circle cx="575.2" cy="115.2" r="1.55" fill="#ff8a00"/>
<circle cx="579.0" cy="114.1" r="1.55" fill="#ff8a00"/>
<circle cx="582.8" cy="113.0" r="1.55" fill="#ff8a00"/>
<circle cx="586.6" cy="112.1" r="1.55" fill="#ff8a00"/>
<circle cx="590.4" cy="111.3" r="1.55" fill="#ff8a00"/>
<circle cx="594.2" cy="110.9" r="1.55" fill="#ff8a00"/>
<circle cx="598.0" cy="110.6" r="1.55" fill="#ff8a00"/>
<circle cx="601.8" cy="110.3" r="1.55" fill="#ff8a00"/>
<circle cx="605.6" cy="110.2" r="1.55" fill="#ff8a00"/>
<circle cx="609.4" cy="110.2" r="1.55" fill="#ff8a00"/>
<circle cx="613.2" cy="110.8" r="1.55" fill="#ff8a00"/>
<circle cx="617.0" cy="111.6" r="1.55" fill="#ff8a00"/>
<circle cx="620.8" cy="112.5" r="1.55" fill="#ff8a00"/>
<circle cx="624.6" cy="113.7" r="1.55" fill="#ff8a00"/>
<circle cx="628.4" cy="114.8" r="1.55" fill="#ff8a00"/>
<circle cx="632.2" cy="115.5" r="1.55" fill="#ff8a00"/>
<circle cx="636.0" cy="116.1" r="1.55" fill="#ff8a00"/>
<circle cx="639.8" cy="117.1" r="1.55" fill="#ff8a00"/>
<circle cx="643.6" cy="117.9" r="1.55" fill="#ff8a00"/>
<circle cx="647.4" cy="118.5" r="1.55" fill="#ff8a00"/>
<circle cx="651.2" cy="118.9" r="1.55" fill="#ff8a00"/>
<circle cx="655.0" cy="119.3" r="1.55" fill="#ff8a00"/>
<circle cx="658.8" cy="119.5" r="1.55" fill="#ff8a00"/>
<polyline points="34.3,267.2 40.6,266.5 47.0,265.3 52.1,264.0 55.9,262.3 61.0,258.9 65.5,255.5 71.2,252.2 76.3,249.1 82.0,247.1 87.7,245.5 91.8,236.0 96.3,225.8 100.1,216.6 105.3,210.4 110.4,205.7 114.5,201.1 119.2,200.5 123.7,201.6 128.9,205.7 133.0,214.9 137.1,225.2 141.2,232.4 144.3,239.5 147.4,246.7 152.5,248.8 158.7,250.2 164.8,251.9 172.8,255.4 179.3,257.8 185.7,261.0 192.1,263.9 198.5,266.1 204.9,267.7 213.0,268.7 220.2,269.0" fill="none" stroke="#ff8a00" stroke-width="1.1" stroke-linejoin="round" opacity="1"/>
<circle cx="34.3" cy="267.2" r="1.55" fill="#ff8a00"/>
<circle cx="39.4" cy="266.6" r="1.55" fill="#ff8a00"/>
<circle cx="44.5" cy="265.8" r="1.55" fill="#ff8a00"/>
<circle cx="49.6" cy="264.6" r="1.55" fill="#ff8a00"/>
<circle cx="54.7" cy="262.8" r="1.55" fill="#ff8a00"/>
<circle cx="59.8" cy="259.7" r="1.55" fill="#ff8a00"/>
<circle cx="64.9" cy="256.0" r="1.55" fill="#ff8a00"/>
<circle cx="70.0" cy="252.9" r="1.55" fill="#ff8a00"/>
<circle cx="75.1" cy="249.8" r="1.55" fill="#ff8a00"/>
<circle cx="80.2" cy="247.7" r="1.55" fill="#ff8a00"/>
<circle cx="85.3" cy="246.2" r="1.55" fill="#ff8a00"/>
<circle cx="90.4" cy="239.3" r="1.55" fill="#ff8a00"/>
<circle cx="95.5" cy="227.7" r="1.55" fill="#ff8a00"/>
<circle cx="100.6" cy="216.1" r="1.55" fill="#ff8a00"/>
<circle cx="105.7" cy="210.1" r="1.55" fill="#ff8a00"/>
<circle cx="110.8" cy="205.3" r="1.55" fill="#ff8a00"/>
<circle cx="115.8" cy="200.9" r="1.55" fill="#ff8a00"/>
<circle cx="120.9" cy="200.9" r="1.55" fill="#ff8a00"/>
<circle cx="126.0" cy="203.4" r="1.55" fill="#ff8a00"/>
<circle cx="131.1" cy="210.7" r="1.55" fill="#ff8a00"/>
<circle cx="136.2" cy="223.0" r="1.55" fill="#ff8a00"/>
<circle cx="141.3" cy="232.7" r="1.55" fill="#ff8a00"/>
<circle cx="146.4" cy="244.4" r="1.55" fill="#ff8a00"/>
<circle cx="151.5" cy="248.4" r="1.55" fill="#ff8a00"/>
<circle cx="156.6" cy="249.7" r="1.55" fill="#ff8a00"/>
<circle cx="161.7" cy="251.0" r="1.55" fill="#ff8a00"/>
<circle cx="166.8" cy="252.8" r="1.55" fill="#ff8a00"/>
<circle cx="171.9" cy="255.0" r="1.55" fill="#ff8a00"/>
<circle cx="177.0" cy="257.0" r="1.55" fill="#ff8a00"/>
<circle cx="182.1" cy="259.2" r="1.55" fill="#ff8a00"/>
<circle cx="187.2" cy="261.7" r="1.55" fill="#ff8a00"/>
<circle cx="192.3" cy="264.0" r="1.55" fill="#ff8a00"/>
<circle cx="197.4" cy="265.7" r="1.55" fill="#ff8a00"/>
<circle cx="202.5" cy="267.1" r="1.55" fill="#ff8a00"/>
<circle cx="207.6" cy="268.0" r="1.55" fill="#ff8a00"/>
<circle cx="212.7" cy="268.7" r="1.55" fill="#ff8a00"/>
<circle cx="217.8" cy="268.9" r="1.55" fill="#ff8a00"/>
<polyline points="254.5,258.6 258.8,259.3 263.2,260.3 267.6,261.8 272.0,263.7 276.4,265.9 282.2,267.3 291.0,268.1 304.1,268.1 318.7,267.3 330.4,266.6 340.6,265.1 345.0,263.9 349.4,262.0 355.2,259.5 360.3,257.3 365.4,254.7 370.5,252.2 375.7,250.8 381.5,249.3 385.9,250.0 389.5,249.3 393.9,244.9 398.3,241.3 402.7,239.5 407.0,239.5 411.4,238.1 416.5,237.2 421.6,238.4 426.8,242.0 431.9,247.1 436.2,252.2 441.1,256.6" fill="none" stroke="#ff8a00" stroke-width="1.1" stroke-linejoin="round" opacity="1"/>
<circle cx="254.5" cy="258.6" r="1.55" fill="#ff8a00"/>
<circle cx="259.3" cy="259.4" r="1.55" fill="#ff8a00"/>
<circle cx="264.1" cy="260.6" r="1.55" fill="#ff8a00"/>
<circle cx="268.9" cy="262.4" r="1.55" fill="#ff8a00"/>
<circle cx="273.7" cy="264.5" r="1.55" fill="#ff8a00"/>
<circle cx="278.5" cy="266.4" r="1.55" fill="#ff8a00"/>
<circle cx="283.3" cy="267.4" r="1.55" fill="#ff8a00"/>
<circle cx="288.1" cy="267.8" r="1.55" fill="#ff8a00"/>
<circle cx="292.8" cy="268.1" r="1.55" fill="#ff8a00"/>
<circle cx="297.6" cy="268.1" r="1.55" fill="#ff8a00"/>
<circle cx="302.4" cy="268.1" r="1.55" fill="#ff8a00"/>
<circle cx="307.2" cy="267.9" r="1.55" fill="#ff8a00"/>
<circle cx="312.0" cy="267.7" r="1.55" fill="#ff8a00"/>
<circle cx="316.8" cy="267.4" r="1.55" fill="#ff8a00"/>
<circle cx="321.6" cy="267.1" r="1.55" fill="#ff8a00"/>
<circle cx="326.4" cy="266.8" r="1.55" fill="#ff8a00"/>
<circle cx="331.2" cy="266.5" r="1.55" fill="#ff8a00"/>
<circle cx="336.0" cy="265.8" r="1.55" fill="#ff8a00"/>
<circle cx="340.8" cy="265.1" r="1.55" fill="#ff8a00"/>
<circle cx="345.6" cy="263.7" r="1.55" fill="#ff8a00"/>
<circle cx="350.4" cy="261.6" r="1.55" fill="#ff8a00"/>
<circle cx="355.2" cy="259.5" r="1.55" fill="#ff8a00"/>
<circle cx="360.0" cy="257.5" r="1.55" fill="#ff8a00"/>
<circle cx="364.7" cy="255.0" r="1.55" fill="#ff8a00"/>
<circle cx="369.5" cy="252.7" r="1.55" fill="#ff8a00"/>
<circle cx="374.3" cy="251.2" r="1.55" fill="#ff8a00"/>
<circle cx="379.1" cy="249.9" r="1.55" fill="#ff8a00"/>
<circle cx="383.9" cy="249.7" r="1.55" fill="#ff8a00"/>
<circle cx="388.7" cy="249.5" r="1.55" fill="#ff8a00"/>
<circle cx="393.5" cy="245.3" r="1.55" fill="#ff8a00"/>
<circle cx="398.3" cy="241.3" r="1.55" fill="#ff8a00"/>
<circle cx="403.1" cy="239.5" r="1.55" fill="#ff8a00"/>
<circle cx="407.9" cy="239.2" r="1.55" fill="#ff8a00"/>
<circle cx="412.7" cy="237.9" r="1.55" fill="#ff8a00"/>
<circle cx="417.5" cy="237.4" r="1.55" fill="#ff8a00"/>
<circle cx="422.3" cy="238.9" r="1.55" fill="#ff8a00"/>
<circle cx="427.1" cy="242.3" r="1.55" fill="#ff8a00"/>
<circle cx="431.8" cy="247.0" r="1.55" fill="#ff8a00"/>
<circle cx="436.6" cy="252.6" r="1.55" fill="#ff8a00"/>
<polyline points="476.5,262.0 483.8,262.4 491.1,263.9 499.8,264.3 508.6,264.9 518.8,266.1 530.5,266.8 542.2,267.3 552.4,266.8 561.1,266.1 568.4,265.4 574.8,264.2 579.5,262.6 584.3,259.4 588.2,254.7 592.2,251.5 596.1,249.9 600.1,250.4 604.1,252.3 608.0,247.5 612.8,242.8 617.5,240.9 623.1,241.2 628.6,242.8 634.2,247.2 639.7,252.6 645.3,257.1 650.8,261.0 656.4,264.2 662.2,266.6" fill="none" stroke="#ff8a00" stroke-width="1.1" stroke-linejoin="round" opacity="1"/>
<circle cx="476.5" cy="262.0" r="1.55" fill="#ff8a00"/>
<circle cx="481.8" cy="262.3" r="1.55" fill="#ff8a00"/>
<circle cx="487.1" cy="263.1" r="1.55" fill="#ff8a00"/>
<circle cx="492.4" cy="264.0" r="1.55" fill="#ff8a00"/>
<circle cx="497.8" cy="264.2" r="1.55" fill="#ff8a00"/>
<circle cx="503.1" cy="264.5" r="1.55" fill="#ff8a00"/>
<circle cx="508.4" cy="264.9" r="1.55" fill="#ff8a00"/>
<circle cx="513.7" cy="265.5" r="1.55" fill="#ff8a00"/>
<circle cx="519.0" cy="266.1" r="1.55" fill="#ff8a00"/>
<circle cx="524.3" cy="266.4" r="1.55" fill="#ff8a00"/>
<circle cx="529.6" cy="266.7" r="1.55" fill="#ff8a00"/>
<circle cx="534.9" cy="267.0" r="1.55" fill="#ff8a00"/>
<circle cx="540.3" cy="267.2" r="1.55" fill="#ff8a00"/>
<circle cx="545.6" cy="267.1" r="1.55" fill="#ff8a00"/>
<circle cx="550.9" cy="266.9" r="1.55" fill="#ff8a00"/>
<circle cx="556.2" cy="266.5" r="1.55" fill="#ff8a00"/>
<circle cx="561.5" cy="266.1" r="1.55" fill="#ff8a00"/>
<circle cx="566.8" cy="265.6" r="1.55" fill="#ff8a00"/>
<circle cx="572.1" cy="264.7" r="1.55" fill="#ff8a00"/>
<circle cx="577.4" cy="263.3" r="1.55" fill="#ff8a00"/>
<circle cx="582.8" cy="260.4" r="1.55" fill="#ff8a00"/>
<circle cx="588.1" cy="254.9" r="1.55" fill="#ff8a00"/>
<circle cx="593.4" cy="251.0" r="1.55" fill="#ff8a00"/>
<circle cx="598.7" cy="250.2" r="1.55" fill="#ff8a00"/>
<circle cx="604.0" cy="252.3" r="1.55" fill="#ff8a00"/>
<circle cx="609.3" cy="246.2" r="1.55" fill="#ff8a00"/>
<circle cx="614.6" cy="242.1" r="1.55" fill="#ff8a00"/>
<circle cx="620.0" cy="241.0" r="1.55" fill="#ff8a00"/>
<circle cx="625.3" cy="241.8" r="1.55" fill="#ff8a00"/>
<circle cx="630.6" cy="244.4" r="1.55" fill="#ff8a00"/>
<circle cx="635.9" cy="248.9" r="1.55" fill="#ff8a00"/>
<circle cx="641.2" cy="253.8" r="1.55" fill="#ff8a00"/>
<circle cx="646.5" cy="258.0" r="1.55" fill="#ff8a00"/>
<circle cx="651.8" cy="261.6" r="1.55" fill="#ff8a00"/>
<circle cx="657.1" cy="264.5" r="1.55" fill="#ff8a00"/>
<polyline points="35.2,410.8 38.4,408.9 42.2,407.6 47.3,409.5 52.4,412.1 57.5,414.0 62.5,415.3 67.6,415.3 71.5,413.1 75.3,410.2 80.4,406.4 85.5,402.5 90.5,399.6 95.0,396.9 100.2,396.9 105.5,396.1 110.0,395.4 114.4,396.1 118.9,399.1 123.4,398.6 127.1,399.8 133.1,404.3 139.1,408.1 144.3,409.1 150.3,410.0 156.3,410.6 162.3,410.6 169.0,407.0" fill="none" stroke="#ff8a00" stroke-width="1.1" stroke-linejoin="round" opacity="1"/>
<circle cx="35.2" cy="410.8" r="1.55" fill="#ff8a00"/>
<circle cx="40.6" cy="408.1" r="1.55" fill="#ff8a00"/>
<circle cx="46.0" cy="409.0" r="1.55" fill="#ff8a00"/>
<circle cx="51.5" cy="411.6" r="1.55" fill="#ff8a00"/>
<circle cx="56.9" cy="413.8" r="1.55" fill="#ff8a00"/>
<circle cx="62.3" cy="415.2" r="1.55" fill="#ff8a00"/>
<circle cx="67.7" cy="415.2" r="1.55" fill="#ff8a00"/>
<circle cx="73.1" cy="411.9" r="1.55" fill="#ff8a00"/>
<circle cx="78.6" cy="407.8" r="1.55" fill="#ff8a00"/>
<circle cx="84.0" cy="403.7" r="1.55" fill="#ff8a00"/>
<circle cx="89.4" cy="400.2" r="1.55" fill="#ff8a00"/>
<circle cx="94.8" cy="397.0" r="1.55" fill="#ff8a00"/>
<circle cx="100.2" cy="396.9" r="1.55" fill="#ff8a00"/>
<circle cx="105.6" cy="396.1" r="1.55" fill="#ff8a00"/>
<circle cx="111.1" cy="395.6" r="1.55" fill="#ff8a00"/>
<circle cx="116.5" cy="397.5" r="1.55" fill="#ff8a00"/>
<circle cx="121.9" cy="398.8" r="1.55" fill="#ff8a00"/>
<circle cx="127.3" cy="400.0" r="1.55" fill="#ff8a00"/>
<circle cx="132.7" cy="404.0" r="1.55" fill="#ff8a00"/>
<circle cx="138.2" cy="407.5" r="1.55" fill="#ff8a00"/>
<circle cx="143.6" cy="409.0" r="1.55" fill="#ff8a00"/>
<circle cx="149.0" cy="409.8" r="1.55" fill="#ff8a00"/>
<circle cx="154.4" cy="410.4" r="1.55" fill="#ff8a00"/>
<circle cx="159.8" cy="410.6" r="1.55" fill="#ff8a00"/>
<circle cx="165.3" cy="409.0" r="1.55" fill="#ff8a00"/>
<polyline points="207.0,418.4 224.1,418.4 244.2,418.2 256.1,418.2 262.3,417.9 267.4,416.7 272.5,414.1 276.1,411.4 279.6,409.7 282.7,410.0 285.8,411.8 288.8,412.6 291.9,410.5 295.0,408.0 298.0,406.0 301.1,403.9 304.2,402.9 306.7,396.8 309.3,393.2 311.8,388.6 314.4,385.0 317.6,378.2 321.2,375.8 324.3,380.2 328.3,388.3 332.3,396.3 336.3,400.3 341.3,403.3 346.4,406.3 351.4,410.4" fill="none" stroke="#ff8a00" stroke-width="1.1" stroke-linejoin="round" opacity="1"/>
<circle cx="207.0" cy="418.4" r="1.55" fill="#ff8a00"/>
<circle cx="210.6" cy="418.4" r="1.55" fill="#ff8a00"/>
<circle cx="214.1" cy="418.4" r="1.55" fill="#ff8a00"/>
<circle cx="217.7" cy="418.4" r="1.55" fill="#ff8a00"/>
<circle cx="221.2" cy="418.4" r="1.55" fill="#ff8a00"/>
<circle cx="224.8" cy="418.4" r="1.55" fill="#ff8a00"/>
<circle cx="228.3" cy="418.4" r="1.55" fill="#ff8a00"/>
<circle cx="231.9" cy="418.3" r="1.55" fill="#ff8a00"/>
<circle cx="235.4" cy="418.3" r="1.55" fill="#ff8a00"/>
<circle cx="239.0" cy="418.3" r="1.55" fill="#ff8a00"/>
<circle cx="242.6" cy="418.2" r="1.55" fill="#ff8a00"/>
<circle cx="246.1" cy="418.2" r="1.55" fill="#ff8a00"/>
<circle cx="249.7" cy="418.2" r="1.55" fill="#ff8a00"/>
<circle cx="253.2" cy="418.2" r="1.55" fill="#ff8a00"/>
<circle cx="256.8" cy="418.2" r="1.55" fill="#ff8a00"/>
<circle cx="260.3" cy="418.0" r="1.55" fill="#ff8a00"/>
<circle cx="263.9" cy="417.5" r="1.55" fill="#ff8a00"/>
<circle cx="267.4" cy="416.7" r="1.55" fill="#ff8a00"/>
<circle cx="271.0" cy="414.9" r="1.55" fill="#ff8a00"/>
<circle cx="274.6" cy="412.6" r="1.55" fill="#ff8a00"/>
<circle cx="278.1" cy="410.4" r="1.55" fill="#ff8a00"/>
<circle cx="281.7" cy="409.9" r="1.55" fill="#ff8a00"/>
<circle cx="285.2" cy="411.5" r="1.55" fill="#ff8a00"/>
<circle cx="288.8" cy="412.6" r="1.55" fill="#ff8a00"/>
<circle cx="292.3" cy="410.1" r="1.55" fill="#ff8a00"/>
<circle cx="295.9" cy="407.4" r="1.55" fill="#ff8a00"/>
<circle cx="299.5" cy="405.0" r="1.55" fill="#ff8a00"/>
<circle cx="303.0" cy="403.3" r="1.55" fill="#ff8a00"/>
<circle cx="306.6" cy="397.1" r="1.55" fill="#ff8a00"/>
<circle cx="310.1" cy="391.7" r="1.55" fill="#ff8a00"/>
<circle cx="313.7" cy="386.0" r="1.55" fill="#ff8a00"/>
<circle cx="317.2" cy="379.0" r="1.55" fill="#ff8a00"/>
<circle cx="320.8" cy="376.1" r="1.55" fill="#ff8a00"/>
<circle cx="324.3" cy="380.3" r="1.55" fill="#ff8a00"/>
<circle cx="327.9" cy="387.5" r="1.55" fill="#ff8a00"/>
<circle cx="331.5" cy="394.6" r="1.55" fill="#ff8a00"/>
<circle cx="335.0" cy="399.0" r="1.55" fill="#ff8a00"/>
<circle cx="338.6" cy="401.7" r="1.55" fill="#ff8a00"/>
<circle cx="342.1" cy="403.8" r="1.55" fill="#ff8a00"/>
<circle cx="345.7" cy="405.9" r="1.55" fill="#ff8a00"/>
<circle cx="349.2" cy="408.6" r="1.55" fill="#ff8a00"/>
<polyline points="378.3,410.2 382.3,407.8 386.9,407.0 391.6,406.3 396.3,405.5 401.0,405.0 405.7,406.3 409.6,408.1 413.5,409.1 418.2,400.8 422.9,392.2 427.6,386.7 431.5,389.1 435.4,394.1 440.1,395.6 445.5,400.8 450.9,399.2 455.6,400.3 461.1,402.8 464.2,399.7 467.3,396.6 471.3,393.8 474.4,393.0 478.8,382.0 483.0,383.6 486.9,388.8 490.0,387.5 493.1,389.8 497.0,386.7 500.9,385.6 504.8,386.3 508.8,388.3 512.7,392.5" fill="none" stroke="#ff8a00" stroke-width="1.1" stroke-linejoin="round" opacity="1"/>
<circle cx="378.3" cy="410.2" r="1.55" fill="#ff8a00"/>
<circle cx="382.9" cy="407.7" r="1.55" fill="#ff8a00"/>
<circle cx="387.5" cy="406.9" r="1.55" fill="#ff8a00"/>
<circle cx="392.1" cy="406.2" r="1.55" fill="#ff8a00"/>
<circle cx="396.7" cy="405.5" r="1.55" fill="#ff8a00"/>
<circle cx="401.3" cy="405.1" r="1.55" fill="#ff8a00"/>
<circle cx="405.9" cy="406.4" r="1.55" fill="#ff8a00"/>
<circle cx="410.5" cy="408.3" r="1.55" fill="#ff8a00"/>
<circle cx="415.1" cy="406.3" r="1.55" fill="#ff8a00"/>
<circle cx="419.7" cy="398.1" r="1.55" fill="#ff8a00"/>
<circle cx="424.3" cy="390.6" r="1.55" fill="#ff8a00"/>
<circle cx="428.9" cy="387.5" r="1.55" fill="#ff8a00"/>
<circle cx="433.5" cy="391.7" r="1.55" fill="#ff8a00"/>
<circle cx="438.1" cy="395.0" r="1.55" fill="#ff8a00"/>
<circle cx="442.7" cy="398.1" r="1.55" fill="#ff8a00"/>
<circle cx="447.3" cy="400.3" r="1.55" fill="#ff8a00"/>
<circle cx="451.9" cy="399.4" r="1.55" fill="#ff8a00"/>
<circle cx="456.5" cy="400.7" r="1.55" fill="#ff8a00"/>
<circle cx="461.1" cy="402.8" r="1.55" fill="#ff8a00"/>
<circle cx="465.7" cy="398.2" r="1.55" fill="#ff8a00"/>
<circle cx="470.3" cy="394.5" r="1.55" fill="#ff8a00"/>
<circle cx="474.9" cy="391.7" r="1.55" fill="#ff8a00"/>
<circle cx="479.5" cy="382.3" r="1.55" fill="#ff8a00"/>
<circle cx="484.1" cy="385.1" r="1.55" fill="#ff8a00"/>
<circle cx="488.7" cy="388.0" r="1.55" fill="#ff8a00"/>
<circle cx="493.3" cy="389.6" r="1.55" fill="#ff8a00"/>
<circle cx="497.9" cy="386.4" r="1.55" fill="#ff8a00"/>
<circle cx="502.5" cy="385.9" r="1.55" fill="#ff8a00"/>
<circle cx="507.1" cy="387.5" r="1.55" fill="#ff8a00"/>
<circle cx="511.7" cy="391.4" r="1.55" fill="#ff8a00"/>
<polyline points="544.4,411.5 547.4,410.8 552.5,410.8 557.3,411.2 562.1,411.5 567.3,412.6 572.0,413.4 576.8,414.1 583.8,413.8 588.1,413.8 592.5,413.6 596.9,413.1 601.3,412.3 604.8,411.6 609.2,411.4 613.5,411.6 617.9,411.8 622.3,412.7 626.7,413.3 631.0,413.6 639.2,414.1 648.9,413.8 658.5,413.8 668.1,414.9 677.8,415.7" fill="none" stroke="#ff8a00" stroke-width="1.1" stroke-linejoin="round" opacity="1"/>
<circle cx="544.4" cy="411.5" r="1.55" fill="#ff8a00"/>
<circle cx="548.9" cy="410.8" r="1.55" fill="#ff8a00"/>
<circle cx="553.4" cy="410.9" r="1.55" fill="#ff8a00"/>
<circle cx="557.8" cy="411.2" r="1.55" fill="#ff8a00"/>
<circle cx="562.3" cy="411.5" r="1.55" fill="#ff8a00"/>
<circle cx="566.8" cy="412.5" r="1.55" fill="#ff8a00"/>
<circle cx="571.3" cy="413.3" r="1.55" fill="#ff8a00"/>
<circle cx="575.8" cy="413.9" r="1.55" fill="#ff8a00"/>
<circle cx="580.2" cy="414.0" r="1.55" fill="#ff8a00"/>
<circle cx="584.7" cy="413.8" r="1.55" fill="#ff8a00"/>
<circle cx="589.2" cy="413.7" r="1.55" fill="#ff8a00"/>
<circle cx="593.7" cy="413.5" r="1.55" fill="#ff8a00"/>
<circle cx="598.2" cy="412.9" r="1.55" fill="#ff8a00"/>
<circle cx="602.6" cy="412.0" r="1.55" fill="#ff8a00"/>
<circle cx="607.1" cy="411.5" r="1.55" fill="#ff8a00"/>
<circle cx="611.6" cy="411.5" r="1.55" fill="#ff8a00"/>
<circle cx="616.1" cy="411.7" r="1.55" fill="#ff8a00"/>
<circle cx="620.6" cy="412.3" r="1.55" fill="#ff8a00"/>
<circle cx="625.0" cy="413.1" r="1.55" fill="#ff8a00"/>
<circle cx="629.5" cy="413.5" r="1.55" fill="#ff8a00"/>
<circle cx="634.0" cy="413.8" r="1.55" fill="#ff8a00"/>
<circle cx="638.5" cy="414.1" r="1.55" fill="#ff8a00"/>
<circle cx="643.0" cy="414.0" r="1.55" fill="#ff8a00"/>
<circle cx="647.4" cy="413.8" r="1.55" fill="#ff8a00"/>
<circle cx="651.9" cy="413.8" r="1.55" fill="#ff8a00"/>
<circle cx="656.4" cy="413.8" r="1.55" fill="#ff8a00"/>
<circle cx="660.9" cy="414.1" r="1.55" fill="#ff8a00"/>
<circle cx="665.4" cy="414.6" r="1.55" fill="#ff8a00"/>
<circle cx="669.9" cy="415.0" r="1.55" fill="#ff8a00"/>
<circle cx="674.3" cy="415.4" r="1.55" fill="#ff8a00"/>
<polyline points="34.8,113.1 41.8,110.9 50.5,108.6 55.8,109.0 60.1,110.9 68.0,114.0 76.8,117.1 85.5,118.8 93.0,119.7 100.0,117.8 105.9,117.3 111.8,115.9 119.6,115.9 125.5,115.9 129.5,113.9 134.4,112.9 139.3,114.4 145.2,114.4 151.1,113.4 156.0,112.9 160.0,113.4 166.0,117.0 172.1,120.1 184.1,121.3 202.2,120.7 208.3,120.1 220.3,120.7" fill="none" stroke="#2b2bff" stroke-width="1.1" stroke-linejoin="round" opacity="1"/>
<circle cx="34.8" cy="113.1" r="1.55" fill="#2b2bff"/>
<circle cx="38.0" cy="112.1" r="1.55" fill="#2b2bff"/>
<circle cx="41.2" cy="111.1" r="1.55" fill="#2b2bff"/>
<circle cx="44.5" cy="110.2" r="1.55" fill="#2b2bff"/>
<circle cx="47.7" cy="109.3" r="1.55" fill="#2b2bff"/>
<circle cx="50.9" cy="108.6" r="1.55" fill="#2b2bff"/>
<circle cx="54.1" cy="108.9" r="1.55" fill="#2b2bff"/>
<circle cx="57.3" cy="109.7" r="1.55" fill="#2b2bff"/>
<circle cx="60.6" cy="111.1" r="1.55" fill="#2b2bff"/>
<circle cx="63.8" cy="112.3" r="1.55" fill="#2b2bff"/>
<circle cx="67.0" cy="113.6" r="1.55" fill="#2b2bff"/>
<circle cx="70.2" cy="114.8" r="1.55" fill="#2b2bff"/>
<circle cx="73.4" cy="115.9" r="1.55" fill="#2b2bff"/>
<circle cx="76.7" cy="117.1" r="1.55" fill="#2b2bff"/>
<circle cx="79.9" cy="117.7" r="1.55" fill="#2b2bff"/>
<circle cx="83.1" cy="118.3" r="1.55" fill="#2b2bff"/>
<circle cx="86.3" cy="118.9" r="1.55" fill="#2b2bff"/>
<circle cx="89.5" cy="119.3" r="1.55" fill="#2b2bff"/>
<circle cx="92.8" cy="119.7" r="1.55" fill="#2b2bff"/>
<circle cx="96.0" cy="118.9" r="1.55" fill="#2b2bff"/>
<circle cx="99.2" cy="118.0" r="1.55" fill="#2b2bff"/>
<circle cx="102.4" cy="117.6" r="1.55" fill="#2b2bff"/>
<circle cx="105.6" cy="117.3" r="1.55" fill="#2b2bff"/>
<circle cx="108.9" cy="116.6" r="1.55" fill="#2b2bff"/>
<circle cx="112.1" cy="115.9" r="1.55" fill="#2b2bff"/>
<circle cx="115.3" cy="115.9" r="1.55" fill="#2b2bff"/>
<circle cx="118.5" cy="115.9" r="1.55" fill="#2b2bff"/>
<circle cx="121.7" cy="115.9" r="1.55" fill="#2b2bff"/>
<circle cx="125.0" cy="115.9" r="1.55" fill="#2b2bff"/>
<circle cx="128.2" cy="114.6" r="1.55" fill="#2b2bff"/>
<circle cx="131.4" cy="113.5" r="1.55" fill="#2b2bff"/>
<circle cx="134.6" cy="113.0" r="1.55" fill="#2b2bff"/>
<circle cx="137.8" cy="114.0" r="1.55" fill="#2b2bff"/>
<circle cx="141.1" cy="114.4" r="1.55" fill="#2b2bff"/>
<circle cx="144.3" cy="114.4" r="1.55" fill="#2b2bff"/>
<circle cx="147.5" cy="114.0" r="1.55" fill="#2b2bff"/>
<circle cx="150.7" cy="113.5" r="1.55" fill="#2b2bff"/>
<circle cx="153.9" cy="113.1" r="1.55" fill="#2b2bff"/>
<circle cx="157.2" cy="113.0" r="1.55" fill="#2b2bff"/>
<circle cx="160.4" cy="113.6" r="1.55" fill="#2b2bff"/>
<circle cx="163.6" cy="115.6" r="1.55" fill="#2b2bff"/>
<circle cx="166.8" cy="117.4" r="1.55" fill="#2b2bff"/>
<circle cx="170.0" cy="119.1" r="1.55" fill="#2b2bff"/>
<circle cx="173.3" cy="120.2" r="1.55" fill="#2b2bff"/>
<circle cx="176.5" cy="120.5" r="1.55" fill="#2b2bff"/>
<circle cx="179.7" cy="120.9" r="1.55" fill="#2b2bff"/>
<circle cx="182.9" cy="121.2" r="1.55" fill="#2b2bff"/>
<circle cx="186.1" cy="121.2" r="1.55" fill="#2b2bff"/>
<circle cx="189.4" cy="121.1" r="1.55" fill="#2b2bff"/>
<circle cx="192.6" cy="121.0" r="1.55" fill="#2b2bff"/>
<circle cx="195.8" cy="120.9" r="1.55" fill="#2b2bff"/>
<circle cx="199.0" cy="120.8" r="1.55" fill="#2b2bff"/>
<circle cx="202.2" cy="120.7" r="1.55" fill="#2b2bff"/>
<circle cx="205.5" cy="120.4" r="1.55" fill="#2b2bff"/>
<circle cx="208.7" cy="120.1" r="1.55" fill="#2b2bff"/>
<circle cx="211.9" cy="120.3" r="1.55" fill="#2b2bff"/>
<circle cx="215.1" cy="120.4" r="1.55" fill="#2b2bff"/>
<circle cx="218.3" cy="120.6" r="1.55" fill="#2b2bff"/>
<polyline points="255.1,117.9 261.6,118.6 270.1,119.3 278.7,117.9 288.7,116.4 297.3,115.0 304.4,113.6 310.1,110.0 314.4,105.7 318.7,101.4 322.6,98.9 327.2,96.6 331.1,88.1 335.0,81.5 340.3,81.5 343.4,88.1 346.5,98.9 350.4,100.5 355.0,102.8 358.8,106.6 362.7,108.9 367.3,106.6 372.7,101.2 377.3,96.9 383.1,95.4 386.9,96.3 391.6,88.1 395.4,93.5 398.5,90.7 402.3,89.7 405.4,86.6 409.3,85.5 413.1,87.0 417.8,90.4 421.6,95.1 425.5,99.7 429.3,101.2 433.2,104.0 437.0,108.2 440.9,112.0" fill="none" stroke="#2b2bff" stroke-width="1.1" stroke-linejoin="round" opacity="1"/>
<circle cx="255.1" cy="117.9" r="1.55" fill="#2b2bff"/>
<circle cx="259.4" cy="118.4" r="1.55" fill="#2b2bff"/>
<circle cx="263.7" cy="118.8" r="1.55" fill="#2b2bff"/>
<circle cx="268.0" cy="119.1" r="1.55" fill="#2b2bff"/>
<circle cx="272.3" cy="118.9" r="1.55" fill="#2b2bff"/>
<circle cx="276.6" cy="118.2" r="1.55" fill="#2b2bff"/>
<circle cx="280.9" cy="117.6" r="1.55" fill="#2b2bff"/>
<circle cx="285.2" cy="116.9" r="1.55" fill="#2b2bff"/>
<circle cx="289.5" cy="116.3" r="1.55" fill="#2b2bff"/>
<circle cx="293.9" cy="115.6" r="1.55" fill="#2b2bff"/>
<circle cx="298.2" cy="114.8" r="1.55" fill="#2b2bff"/>
<circle cx="302.5" cy="114.0" r="1.55" fill="#2b2bff"/>
<circle cx="306.8" cy="112.1" r="1.55" fill="#2b2bff"/>
<circle cx="311.1" cy="109.0" r="1.55" fill="#2b2bff"/>
<circle cx="315.4" cy="104.7" r="1.55" fill="#2b2bff"/>
<circle cx="319.7" cy="100.8" r="1.55" fill="#2b2bff"/>
<circle cx="324.0" cy="98.2" r="1.55" fill="#2b2bff"/>
<circle cx="328.3" cy="94.2" r="1.55" fill="#2b2bff"/>
<circle cx="332.6" cy="85.6" r="1.55" fill="#2b2bff"/>
<circle cx="336.9" cy="81.5" r="1.55" fill="#2b2bff"/>
<circle cx="341.2" cy="83.4" r="1.55" fill="#2b2bff"/>
<circle cx="345.5" cy="95.5" r="1.55" fill="#2b2bff"/>
<circle cx="349.8" cy="100.3" r="1.55" fill="#2b2bff"/>
<circle cx="354.1" cy="102.4" r="1.55" fill="#2b2bff"/>
<circle cx="358.4" cy="106.2" r="1.55" fill="#2b2bff"/>
<circle cx="362.7" cy="108.9" r="1.55" fill="#2b2bff"/>
<circle cx="367.0" cy="106.7" r="1.55" fill="#2b2bff"/>
<circle cx="371.4" cy="102.5" r="1.55" fill="#2b2bff"/>
<circle cx="375.7" cy="98.4" r="1.55" fill="#2b2bff"/>
<circle cx="380.0" cy="96.2" r="1.55" fill="#2b2bff"/>
<circle cx="384.3" cy="95.7" r="1.55" fill="#2b2bff"/>
<circle cx="388.6" cy="93.4" r="1.55" fill="#2b2bff"/>
<circle cx="392.9" cy="89.9" r="1.55" fill="#2b2bff"/>
<circle cx="397.2" cy="91.9" r="1.55" fill="#2b2bff"/>
<circle cx="401.5" cy="89.9" r="1.55" fill="#2b2bff"/>
<circle cx="405.8" cy="86.5" r="1.55" fill="#2b2bff"/>
<circle cx="410.1" cy="85.8" r="1.55" fill="#2b2bff"/>
<circle cx="414.4" cy="87.9" r="1.55" fill="#2b2bff"/>
<circle cx="418.7" cy="91.5" r="1.55" fill="#2b2bff"/>
<circle cx="423.0" cy="96.8" r="1.55" fill="#2b2bff"/>
<circle cx="427.3" cy="100.4" r="1.55" fill="#2b2bff"/>
<circle cx="431.6" cy="102.9" r="1.55" fill="#2b2bff"/>
<circle cx="435.9" cy="107.0" r="1.55" fill="#2b2bff"/>
<circle cx="440.2" cy="111.4" r="1.55" fill="#2b2bff"/>
<polyline points="476.4,120.6 486.0,120.8 498.1,120.6 506.5,119.4 512.6,118.8 517.4,118.2 520.4,118.2 522.8,119.6 528.2,120.4 550.9,120.4 561.9,120.4 568.4,119.3 572.8,119.0 581.6,118.2 589.2,117.7 596.9,117.1 601.3,116.4 605.6,115.3 610.1,113.3 615.2,112.5 620.3,111.5 625.4,111.5 630.5,112.0 635.6,113.0 638.7,113.3 641.8,110.9 645.9,110.2 649.9,110.6 654.0,112.0 658.1,114.3 662.2,116.4" fill="none" stroke="#2b2bff" stroke-width="1.1" stroke-linejoin="round" opacity="1"/>
<circle cx="476.4" cy="120.6" r="1.55" fill="#2b2bff"/>
<circle cx="480.2" cy="120.7" r="1.55" fill="#2b2bff"/>
<circle cx="484.0" cy="120.8" r="1.55" fill="#2b2bff"/>
<circle cx="487.8" cy="120.8" r="1.55" fill="#2b2bff"/>
<circle cx="491.6" cy="120.7" r="1.55" fill="#2b2bff"/>
<circle cx="495.4" cy="120.6" r="1.55" fill="#2b2bff"/>
<circle cx="499.2" cy="120.4" r="1.55" fill="#2b2bff"/>
<circle cx="503.0" cy="119.9" r="1.55" fill="#2b2bff"/>
<circle cx="506.8" cy="119.4" r="1.55" fill="#2b2bff"/>
<circle cx="510.6" cy="119.0" r="1.55" fill="#2b2bff"/>
<circle cx="514.4" cy="118.6" r="1.55" fill="#2b2bff"/>
<circle cx="518.2" cy="118.2" r="1.55" fill="#2b2bff"/>
<circle cx="522.0" cy="119.1" r="1.55" fill="#2b2bff"/>
<circle cx="525.8" cy="120.0" r="1.55" fill="#2b2bff"/>
<circle cx="529.6" cy="120.4" r="1.55" fill="#2b2bff"/>
<circle cx="533.4" cy="120.4" r="1.55" fill="#2b2bff"/>
<circle cx="537.2" cy="120.4" r="1.55" fill="#2b2bff"/>
<circle cx="541.0" cy="120.4" r="1.55" fill="#2b2bff"/>
<circle cx="544.8" cy="120.4" r="1.55" fill="#2b2bff"/>
<circle cx="548.6" cy="120.4" r="1.55" fill="#2b2bff"/>
<circle cx="552.4" cy="120.4" r="1.55" fill="#2b2bff"/>
<circle cx="556.2" cy="120.4" r="1.55" fill="#2b2bff"/>
<circle cx="560.0" cy="120.4" r="1.55" fill="#2b2bff"/>
<circle cx="563.8" cy="120.1" r="1.55" fill="#2b2bff"/>
<circle cx="567.6" cy="119.4" r="1.55" fill="#2b2bff"/>
<circle cx="571.4" cy="119.1" r="1.55" fill="#2b2bff"/>
<circle cx="575.2" cy="118.8" r="1.55" fill="#2b2bff"/>
<circle cx="579.0" cy="118.4" r="1.55" fill="#2b2bff"/>
<circle cx="582.8" cy="118.1" r="1.55" fill="#2b2bff"/>
<circle cx="586.6" cy="117.9" r="1.55" fill="#2b2bff"/>
<circle cx="590.4" cy="117.6" r="1.55" fill="#2b2bff"/>
<circle cx="594.2" cy="117.3" r="1.55" fill="#2b2bff"/>
<circle cx="598.0" cy="116.9" r="1.55" fill="#2b2bff"/>
<circle cx="601.8" cy="116.3" r="1.55" fill="#2b2bff"/>
<circle cx="605.6" cy="115.3" r="1.55" fill="#2b2bff"/>
<circle cx="609.4" cy="113.6" r="1.55" fill="#2b2bff"/>
<circle cx="613.2" cy="112.8" r="1.55" fill="#2b2bff"/>
<circle cx="617.0" cy="112.1" r="1.55" fill="#2b2bff"/>
<circle cx="620.8" cy="111.5" r="1.55" fill="#2b2bff"/>
<circle cx="624.6" cy="111.5" r="1.55" fill="#2b2bff"/>
<circle cx="628.4" cy="111.8" r="1.55" fill="#2b2bff"/>
<circle cx="632.2" cy="112.3" r="1.55" fill="#2b2bff"/>
<circle cx="636.0" cy="113.0" r="1.55" fill="#2b2bff"/>
<circle cx="639.8" cy="112.5" r="1.55" fill="#2b2bff"/>
<circle cx="643.6" cy="110.6" r="1.55" fill="#2b2bff"/>
<circle cx="647.4" cy="110.3" r="1.55" fill="#2b2bff"/>
<circle cx="651.2" cy="111.0" r="1.55" fill="#2b2bff"/>
<circle cx="655.0" cy="112.6" r="1.55" fill="#2b2bff"/>
<circle cx="658.8" cy="114.6" r="1.55" fill="#2b2bff"/>
<polyline points="34.3,269.7 40.6,269.5 47.0,269.1 55.9,267.8 61.0,266.9 66.1,265.7 71.2,264.4 76.9,263.1 82.6,262.1 87.7,260.2 91.8,254.5 95.0,246.7 98.1,240.6 102.2,234.4 106.3,228.3 110.4,222.1 114.5,218.0 119.6,216.6 123.7,207.7 127.9,202.6 133.0,197.5 138.1,199.5 141.8,204.6 145.3,213.9 148.4,226.2 153.5,228.9 158.7,233.8 162.8,239.5 164.0,242.1 169.6,251.0 174.4,257.0 177.7,254.6 181.7,252.2 185.4,246.9 189.7,239.3 194.5,235.3 200.1,230.8 205.7,228.6 210.6,229.7 215.4,233.7 220.2,238.8" fill="none" stroke="#2b2bff" stroke-width="1.1" stroke-linejoin="round" opacity="1"/>
<circle cx="34.3" cy="269.7" r="1.55" fill="#2b2bff"/>
<circle cx="39.4" cy="269.5" r="1.55" fill="#2b2bff"/>
<circle cx="44.5" cy="269.3" r="1.55" fill="#2b2bff"/>
<circle cx="49.6" cy="268.7" r="1.55" fill="#2b2bff"/>
<circle cx="54.7" cy="268.0" r="1.55" fill="#2b2bff"/>
<circle cx="59.8" cy="267.1" r="1.55" fill="#2b2bff"/>
<circle cx="64.9" cy="266.0" r="1.55" fill="#2b2bff"/>
<circle cx="70.0" cy="264.7" r="1.55" fill="#2b2bff"/>
<circle cx="75.1" cy="263.5" r="1.55" fill="#2b2bff"/>
<circle cx="80.2" cy="262.5" r="1.55" fill="#2b2bff"/>
<circle cx="85.3" cy="261.1" r="1.55" fill="#2b2bff"/>
<circle cx="90.4" cy="256.5" r="1.55" fill="#2b2bff"/>
<circle cx="95.5" cy="245.8" r="1.55" fill="#2b2bff"/>
<circle cx="100.6" cy="236.9" r="1.55" fill="#2b2bff"/>
<circle cx="105.7" cy="229.3" r="1.55" fill="#2b2bff"/>
<circle cx="110.8" cy="221.7" r="1.55" fill="#2b2bff"/>
<circle cx="115.8" cy="217.6" r="1.55" fill="#2b2bff"/>
<circle cx="120.9" cy="213.7" r="1.55" fill="#2b2bff"/>
<circle cx="126.0" cy="204.9" r="1.55" fill="#2b2bff"/>
<circle cx="131.1" cy="199.4" r="1.55" fill="#2b2bff"/>
<circle cx="136.2" cy="198.8" r="1.55" fill="#2b2bff"/>
<circle cx="141.3" cy="204.0" r="1.55" fill="#2b2bff"/>
<circle cx="146.4" cy="218.4" r="1.55" fill="#2b2bff"/>
<circle cx="151.5" cy="227.9" r="1.55" fill="#2b2bff"/>
<circle cx="156.6" cy="231.8" r="1.55" fill="#2b2bff"/>
<circle cx="161.7" cy="238.0" r="1.55" fill="#2b2bff"/>
<circle cx="166.8" cy="246.6" r="1.55" fill="#2b2bff"/>
<circle cx="171.9" cy="253.9" r="1.55" fill="#2b2bff"/>
<circle cx="177.0" cy="255.1" r="1.55" fill="#2b2bff"/>
<circle cx="182.1" cy="251.6" r="1.55" fill="#2b2bff"/>
<circle cx="187.2" cy="243.7" r="1.55" fill="#2b2bff"/>
<circle cx="192.3" cy="237.1" r="1.55" fill="#2b2bff"/>
<circle cx="197.4" cy="233.0" r="1.55" fill="#2b2bff"/>
<circle cx="202.5" cy="229.9" r="1.55" fill="#2b2bff"/>
<circle cx="207.6" cy="229.0" r="1.55" fill="#2b2bff"/>
<circle cx="212.7" cy="231.4" r="1.55" fill="#2b2bff"/>
<circle cx="217.8" cy="236.2" r="1.55" fill="#2b2bff"/>
<polyline points="254.5,260.8 258.8,261.5 263.2,263.2 267.6,264.7 272.0,265.9 277.8,267.0 285.1,267.8 296.8,268.1 311.4,268.1 326.0,267.3 334.8,266.6 342.1,266.2 345.0,266.4 350.8,266.8 356.7,266.4 361.1,265.8 365.4,264.6 369.8,263.9 375.7,263.9 383.0,264.6 388.8,265.8 396.1,266.1 403.4,266.1 409.2,266.4 416.5,267.6 426.8,268.3 441.1,268.3" fill="none" stroke="#2b2bff" stroke-width="1.1" stroke-linejoin="round" opacity="1"/>
<circle cx="254.5" cy="260.8" r="1.55" fill="#2b2bff"/>
<circle cx="259.3" cy="261.7" r="1.55" fill="#2b2bff"/>
<circle cx="264.1" cy="263.5" r="1.55" fill="#2b2bff"/>
<circle cx="268.9" cy="265.0" r="1.55" fill="#2b2bff"/>
<circle cx="273.7" cy="266.2" r="1.55" fill="#2b2bff"/>
<circle cx="278.5" cy="267.1" r="1.55" fill="#2b2bff"/>
<circle cx="283.3" cy="267.6" r="1.55" fill="#2b2bff"/>
<circle cx="288.1" cy="267.9" r="1.55" fill="#2b2bff"/>
<circle cx="292.8" cy="268.0" r="1.55" fill="#2b2bff"/>
<circle cx="297.6" cy="268.1" r="1.55" fill="#2b2bff"/>
<circle cx="302.4" cy="268.1" r="1.55" fill="#2b2bff"/>
<circle cx="307.2" cy="268.1" r="1.55" fill="#2b2bff"/>
<circle cx="312.0" cy="268.1" r="1.55" fill="#2b2bff"/>
<circle cx="316.8" cy="267.8" r="1.55" fill="#2b2bff"/>
<circle cx="321.6" cy="267.5" r="1.55" fill="#2b2bff"/>
<circle cx="326.4" cy="267.3" r="1.55" fill="#2b2bff"/>
<circle cx="331.2" cy="266.9" r="1.55" fill="#2b2bff"/>
<circle cx="336.0" cy="266.5" r="1.55" fill="#2b2bff"/>
<circle cx="340.8" cy="266.3" r="1.55" fill="#2b2bff"/>
<circle cx="345.6" cy="266.4" r="1.55" fill="#2b2bff"/>
<circle cx="350.4" cy="266.8" r="1.55" fill="#2b2bff"/>
<circle cx="355.2" cy="266.5" r="1.55" fill="#2b2bff"/>
<circle cx="360.0" cy="266.0" r="1.55" fill="#2b2bff"/>
<circle cx="364.7" cy="264.8" r="1.55" fill="#2b2bff"/>
<circle cx="369.5" cy="263.9" r="1.55" fill="#2b2bff"/>
<circle cx="374.3" cy="263.9" r="1.55" fill="#2b2bff"/>
<circle cx="379.1" cy="264.2" r="1.55" fill="#2b2bff"/>
<circle cx="383.9" cy="264.8" r="1.55" fill="#2b2bff"/>
<circle cx="388.7" cy="265.8" r="1.55" fill="#2b2bff"/>
<circle cx="393.5" cy="266.0" r="1.55" fill="#2b2bff"/>
<circle cx="398.3" cy="266.1" r="1.55" fill="#2b2bff"/>
<circle cx="403.1" cy="266.1" r="1.55" fill="#2b2bff"/>
<circle cx="407.9" cy="266.3" r="1.55" fill="#2b2bff"/>
<circle cx="412.7" cy="267.0" r="1.55" fill="#2b2bff"/>
<circle cx="417.5" cy="267.7" r="1.55" fill="#2b2bff"/>
<circle cx="422.3" cy="268.0" r="1.55" fill="#2b2bff"/>
<circle cx="427.1" cy="268.3" r="1.55" fill="#2b2bff"/>
<circle cx="431.8" cy="268.3" r="1.55" fill="#2b2bff"/>
<circle cx="436.6" cy="268.3" r="1.55" fill="#2b2bff"/>
<polyline points="476.5,267.8 483.8,267.3 489.6,266.8 495.4,266.4 502.7,265.4 510.0,264.6 518.8,263.9 529.0,264.3 539.2,264.6 546.5,264.6 552.4,263.2 558.2,260.5 562.6,257.3 568.4,253.7 574.8,250.4 579.5,249.9 584.3,250.4 589.0,253.1 593.8,255.8 598.5,257.8 604.1,260.5 609.6,259.9 615.2,259.4 620.7,260.2 626.3,262.1 631.8,263.4 638.1,265.3 644.5,266.9 650.8,267.4 656.4,267.4 662.2,266.6" fill="none" stroke="#2b2bff" stroke-width="1.1" stroke-linejoin="round" opacity="1"/>
<circle cx="476.5" cy="267.8" r="1.55" fill="#2b2bff"/>
<circle cx="481.8" cy="267.4" r="1.55" fill="#2b2bff"/>
<circle cx="487.1" cy="267.0" r="1.55" fill="#2b2bff"/>
<circle cx="492.4" cy="266.6" r="1.55" fill="#2b2bff"/>
<circle cx="497.8" cy="266.1" r="1.55" fill="#2b2bff"/>
<circle cx="503.1" cy="265.4" r="1.55" fill="#2b2bff"/>
<circle cx="508.4" cy="264.8" r="1.55" fill="#2b2bff"/>
<circle cx="513.7" cy="264.3" r="1.55" fill="#2b2bff"/>
<circle cx="519.0" cy="263.9" r="1.55" fill="#2b2bff"/>
<circle cx="524.3" cy="264.1" r="1.55" fill="#2b2bff"/>
<circle cx="529.6" cy="264.3" r="1.55" fill="#2b2bff"/>
<circle cx="534.9" cy="264.5" r="1.55" fill="#2b2bff"/>
<circle cx="540.3" cy="264.6" r="1.55" fill="#2b2bff"/>
<circle cx="545.6" cy="264.6" r="1.55" fill="#2b2bff"/>
<circle cx="550.9" cy="263.6" r="1.55" fill="#2b2bff"/>
<circle cx="556.2" cy="261.4" r="1.55" fill="#2b2bff"/>
<circle cx="561.5" cy="258.1" r="1.55" fill="#2b2bff"/>
<circle cx="566.8" cy="254.7" r="1.55" fill="#2b2bff"/>
<circle cx="572.1" cy="251.8" r="1.55" fill="#2b2bff"/>
<circle cx="577.4" cy="250.1" r="1.55" fill="#2b2bff"/>
<circle cx="582.8" cy="250.2" r="1.55" fill="#2b2bff"/>
<circle cx="588.1" cy="252.6" r="1.55" fill="#2b2bff"/>
<circle cx="593.4" cy="255.6" r="1.55" fill="#2b2bff"/>
<circle cx="598.7" cy="257.9" r="1.55" fill="#2b2bff"/>
<circle cx="604.0" cy="260.5" r="1.55" fill="#2b2bff"/>
<circle cx="609.3" cy="259.9" r="1.55" fill="#2b2bff"/>
<circle cx="614.6" cy="259.5" r="1.55" fill="#2b2bff"/>
<circle cx="620.0" cy="260.1" r="1.55" fill="#2b2bff"/>
<circle cx="625.3" cy="261.7" r="1.55" fill="#2b2bff"/>
<circle cx="630.6" cy="263.1" r="1.55" fill="#2b2bff"/>
<circle cx="635.9" cy="264.6" r="1.55" fill="#2b2bff"/>
<circle cx="641.2" cy="266.1" r="1.55" fill="#2b2bff"/>
<circle cx="646.5" cy="267.1" r="1.55" fill="#2b2bff"/>
<circle cx="651.8" cy="267.4" r="1.55" fill="#2b2bff"/>
<circle cx="657.1" cy="267.3" r="1.55" fill="#2b2bff"/>
<polyline points="35.2,417.2 39.6,417.2 42.8,416.5 47.3,414.0 52.4,410.2 57.5,407.0 62.5,403.8 67.6,401.9 72.7,399.6 77.8,398.3 82.9,397.1 88.0,395.8 93.1,395.3 95.0,394.6 99.5,396.1 104.0,396.9 110.0,397.2 114.4,399.1 118.9,402.5 123.4,401.0 127.1,399.8 132.4,396.1 138.3,395.4 144.3,393.6 149.6,392.7 155.5,395.4 160.8,399.8 165.3,396.6 169.0,396.6" fill="none" stroke="#2b2bff" stroke-width="1.1" stroke-linejoin="round" opacity="1"/>
<circle cx="35.2" cy="417.2" r="1.55" fill="#2b2bff"/>
<circle cx="40.6" cy="417.0" r="1.55" fill="#2b2bff"/>
<circle cx="46.0" cy="414.7" r="1.55" fill="#2b2bff"/>
<circle cx="51.5" cy="410.9" r="1.55" fill="#2b2bff"/>
<circle cx="56.9" cy="407.4" r="1.55" fill="#2b2bff"/>
<circle cx="62.3" cy="403.9" r="1.55" fill="#2b2bff"/>
<circle cx="67.7" cy="401.8" r="1.55" fill="#2b2bff"/>
<circle cx="73.1" cy="399.5" r="1.55" fill="#2b2bff"/>
<circle cx="78.6" cy="398.1" r="1.55" fill="#2b2bff"/>
<circle cx="84.0" cy="396.8" r="1.55" fill="#2b2bff"/>
<circle cx="89.4" cy="395.7" r="1.55" fill="#2b2bff"/>
<circle cx="94.8" cy="394.7" r="1.55" fill="#2b2bff"/>
<circle cx="100.2" cy="396.2" r="1.55" fill="#2b2bff"/>
<circle cx="105.6" cy="397.0" r="1.55" fill="#2b2bff"/>
<circle cx="111.1" cy="397.7" r="1.55" fill="#2b2bff"/>
<circle cx="116.5" cy="400.7" r="1.55" fill="#2b2bff"/>
<circle cx="121.9" cy="401.5" r="1.55" fill="#2b2bff"/>
<circle cx="127.3" cy="399.6" r="1.55" fill="#2b2bff"/>
<circle cx="132.7" cy="396.1" r="1.55" fill="#2b2bff"/>
<circle cx="138.2" cy="395.4" r="1.55" fill="#2b2bff"/>
<circle cx="143.6" cy="393.8" r="1.55" fill="#2b2bff"/>
<circle cx="149.0" cy="392.8" r="1.55" fill="#2b2bff"/>
<circle cx="154.4" cy="394.9" r="1.55" fill="#2b2bff"/>
<circle cx="159.8" cy="399.0" r="1.55" fill="#2b2bff"/>
<circle cx="165.3" cy="396.6" r="1.55" fill="#2b2bff"/>
<polyline points="207.0,417.4 214.0,414.0 222.1,409.4 230.1,404.8 239.2,401.3 243.2,394.3 247.2,387.3 251.2,381.2 255.2,377.8 259.3,377.2 262.3,378.2 265.3,367.2 268.7,355.7 272.6,347.7 276.0,344.1 280.1,347.7 284.1,351.1 286.1,355.7 289.1,363.1 292.1,361.1 295.1,361.1 298.1,365.2 301.2,371.2 304.2,378.2 307.2,379.2 311.2,381.2 314.2,386.2 317.2,393.3 320.2,398.3 323.3,403.3 326.3,408.3 329.3,412.4 333.3,415.4 341.3,416.8 351.4,417.4" fill="none" stroke="#2b2bff" stroke-width="1.1" stroke-linejoin="round" opacity="1"/>
<circle cx="207.0" cy="417.4" r="1.55" fill="#2b2bff"/>
<circle cx="210.6" cy="415.7" r="1.55" fill="#2b2bff"/>
<circle cx="214.1" cy="413.9" r="1.55" fill="#2b2bff"/>
<circle cx="217.7" cy="411.9" r="1.55" fill="#2b2bff"/>
<circle cx="221.2" cy="409.9" r="1.55" fill="#2b2bff"/>
<circle cx="224.8" cy="407.9" r="1.55" fill="#2b2bff"/>
<circle cx="228.3" cy="405.8" r="1.55" fill="#2b2bff"/>
<circle cx="231.9" cy="404.1" r="1.55" fill="#2b2bff"/>
<circle cx="235.4" cy="402.7" r="1.55" fill="#2b2bff"/>
<circle cx="239.0" cy="401.4" r="1.55" fill="#2b2bff"/>
<circle cx="242.6" cy="395.4" r="1.55" fill="#2b2bff"/>
<circle cx="246.1" cy="389.2" r="1.55" fill="#2b2bff"/>
<circle cx="249.7" cy="383.5" r="1.55" fill="#2b2bff"/>
<circle cx="253.2" cy="379.5" r="1.55" fill="#2b2bff"/>
<circle cx="256.8" cy="377.6" r="1.55" fill="#2b2bff"/>
<circle cx="260.3" cy="377.5" r="1.55" fill="#2b2bff"/>
<circle cx="263.9" cy="372.4" r="1.55" fill="#2b2bff"/>
<circle cx="267.4" cy="359.9" r="1.55" fill="#2b2bff"/>
<circle cx="271.0" cy="351.0" r="1.55" fill="#2b2bff"/>
<circle cx="274.6" cy="345.6" r="1.55" fill="#2b2bff"/>
<circle cx="278.1" cy="346.0" r="1.55" fill="#2b2bff"/>
<circle cx="281.7" cy="349.0" r="1.55" fill="#2b2bff"/>
<circle cx="285.2" cy="353.7" r="1.55" fill="#2b2bff"/>
<circle cx="288.8" cy="362.3" r="1.55" fill="#2b2bff"/>
<circle cx="292.3" cy="361.1" r="1.55" fill="#2b2bff"/>
<circle cx="295.9" cy="362.2" r="1.55" fill="#2b2bff"/>
<circle cx="299.5" cy="367.8" r="1.55" fill="#2b2bff"/>
<circle cx="303.0" cy="375.4" r="1.55" fill="#2b2bff"/>
<circle cx="306.6" cy="379.0" r="1.55" fill="#2b2bff"/>
<circle cx="310.1" cy="380.7" r="1.55" fill="#2b2bff"/>
<circle cx="313.7" cy="385.3" r="1.55" fill="#2b2bff"/>
<circle cx="317.2" cy="393.3" r="1.55" fill="#2b2bff"/>
<circle cx="320.8" cy="399.2" r="1.55" fill="#2b2bff"/>
<circle cx="324.3" cy="405.0" r="1.55" fill="#2b2bff"/>
<circle cx="327.9" cy="410.5" r="1.55" fill="#2b2bff"/>
<circle cx="331.5" cy="414.0" r="1.55" fill="#2b2bff"/>
<circle cx="335.0" cy="415.7" r="1.55" fill="#2b2bff"/>
<circle cx="338.6" cy="416.3" r="1.55" fill="#2b2bff"/>
<circle cx="342.1" cy="416.8" r="1.55" fill="#2b2bff"/>
<circle cx="345.7" cy="417.1" r="1.55" fill="#2b2bff"/>
<circle cx="349.2" cy="417.3" r="1.55" fill="#2b2bff"/>
<polyline points="378.3,407.0 382.3,406.3 386.9,405.9 391.6,405.5 396.3,405.0 401.0,404.7 405.7,403.9 409.6,406.6 414.3,407.8 419.0,407.5 423.7,408.1 427.6,408.6 432.3,406.6 436.9,404.7 441.6,403.1 445.5,403.4 450.9,399.7 455.6,396.1 460.3,395.6 464.2,397.2 468.1,396.1 472.0,396.9 475.2,399.7 479.1,396.1 483.0,397.7 486.9,402.8 492.3,409.1 497.0,407.5 501.7,407.5 505.6,408.1 509.5,408.6 512.7,409.1" fill="none" stroke="#2b2bff" stroke-width="1.1" stroke-linejoin="round" opacity="1"/>
<circle cx="378.3" cy="407.0" r="1.55" fill="#2b2bff"/>
<circle cx="382.9" cy="406.2" r="1.55" fill="#2b2bff"/>
<circle cx="387.5" cy="405.8" r="1.55" fill="#2b2bff"/>
<circle cx="392.1" cy="405.4" r="1.55" fill="#2b2bff"/>
<circle cx="396.7" cy="405.0" r="1.55" fill="#2b2bff"/>
<circle cx="401.3" cy="404.6" r="1.55" fill="#2b2bff"/>
<circle cx="405.9" cy="404.0" r="1.55" fill="#2b2bff"/>
<circle cx="410.5" cy="406.8" r="1.55" fill="#2b2bff"/>
<circle cx="415.1" cy="407.7" r="1.55" fill="#2b2bff"/>
<circle cx="419.7" cy="407.6" r="1.55" fill="#2b2bff"/>
<circle cx="424.3" cy="408.2" r="1.55" fill="#2b2bff"/>
<circle cx="428.9" cy="408.0" r="1.55" fill="#2b2bff"/>
<circle cx="433.5" cy="406.1" r="1.55" fill="#2b2bff"/>
<circle cx="438.1" cy="404.3" r="1.55" fill="#2b2bff"/>
<circle cx="442.7" cy="403.2" r="1.55" fill="#2b2bff"/>
<circle cx="447.3" cy="402.2" r="1.55" fill="#2b2bff"/>
<circle cx="451.9" cy="398.9" r="1.55" fill="#2b2bff"/>
<circle cx="456.5" cy="396.0" r="1.55" fill="#2b2bff"/>
<circle cx="461.1" cy="395.9" r="1.55" fill="#2b2bff"/>
<circle cx="465.7" cy="396.8" r="1.55" fill="#2b2bff"/>
<circle cx="470.3" cy="396.6" r="1.55" fill="#2b2bff"/>
<circle cx="474.9" cy="399.4" r="1.55" fill="#2b2bff"/>
<circle cx="479.5" cy="396.3" r="1.55" fill="#2b2bff"/>
<circle cx="484.1" cy="399.1" r="1.55" fill="#2b2bff"/>
<circle cx="488.7" cy="404.9" r="1.55" fill="#2b2bff"/>
<circle cx="493.3" cy="408.8" r="1.55" fill="#2b2bff"/>
<circle cx="497.9" cy="407.5" r="1.55" fill="#2b2bff"/>
<circle cx="502.5" cy="407.6" r="1.55" fill="#2b2bff"/>
<circle cx="507.1" cy="408.3" r="1.55" fill="#2b2bff"/>
<circle cx="511.7" cy="408.9" r="1.55" fill="#2b2bff"/>
<polyline points="543.7,407.1 547.4,400.8 552.5,398.1 557.3,398.1 562.1,400.5 567.3,402.1 572.0,406.0 576.8,409.7 580.3,411.8 583.8,413.6 588.1,414.9 592.5,415.6 596.9,415.6 600.4,414.9 603.9,413.6 607.4,411.8 611.8,411.6 617.0,411.8 622.3,412.7 627.5,413.3 632.8,413.8 642.4,415.4 652.1,414.9 660.1,412.5 668.1,410.6 677.8,409.6" fill="none" stroke="#2b2bff" stroke-width="1.1" stroke-linejoin="round" opacity="1"/>
<circle cx="543.7" cy="407.1" r="1.55" fill="#2b2bff"/>
<circle cx="548.2" cy="400.4" r="1.55" fill="#2b2bff"/>
<circle cx="552.7" cy="398.1" r="1.55" fill="#2b2bff"/>
<circle cx="557.1" cy="398.1" r="1.55" fill="#2b2bff"/>
<circle cx="561.6" cy="400.3" r="1.55" fill="#2b2bff"/>
<circle cx="566.1" cy="401.7" r="1.55" fill="#2b2bff"/>
<circle cx="570.6" cy="404.8" r="1.55" fill="#2b2bff"/>
<circle cx="575.1" cy="408.4" r="1.55" fill="#2b2bff"/>
<circle cx="579.5" cy="411.3" r="1.55" fill="#2b2bff"/>
<circle cx="584.0" cy="413.7" r="1.55" fill="#2b2bff"/>
<circle cx="588.5" cy="415.0" r="1.55" fill="#2b2bff"/>
<circle cx="593.0" cy="415.6" r="1.55" fill="#2b2bff"/>
<circle cx="597.5" cy="415.5" r="1.55" fill="#2b2bff"/>
<circle cx="601.9" cy="414.3" r="1.55" fill="#2b2bff"/>
<circle cx="606.4" cy="412.3" r="1.55" fill="#2b2bff"/>
<circle cx="610.9" cy="411.6" r="1.55" fill="#2b2bff"/>
<circle cx="615.4" cy="411.7" r="1.55" fill="#2b2bff"/>
<circle cx="619.9" cy="412.3" r="1.55" fill="#2b2bff"/>
<circle cx="624.3" cy="412.9" r="1.55" fill="#2b2bff"/>
<circle cx="628.8" cy="413.4" r="1.55" fill="#2b2bff"/>
<circle cx="633.3" cy="413.9" r="1.55" fill="#2b2bff"/>
<circle cx="637.8" cy="414.6" r="1.55" fill="#2b2bff"/>
<circle cx="642.3" cy="415.4" r="1.55" fill="#2b2bff"/>
<circle cx="646.7" cy="415.2" r="1.55" fill="#2b2bff"/>
<circle cx="651.2" cy="414.9" r="1.55" fill="#2b2bff"/>
<circle cx="655.7" cy="413.8" r="1.55" fill="#2b2bff"/>
<circle cx="660.2" cy="412.5" r="1.55" fill="#2b2bff"/>
<circle cx="664.7" cy="411.4" r="1.55" fill="#2b2bff"/>
<circle cx="669.2" cy="410.5" r="1.55" fill="#2b2bff"/>
<circle cx="673.6" cy="410.0" r="1.55" fill="#2b2bff"/>
<polyline points="34.8,121.0 54.9,119.7 93.0,121.0 100.0,119.3 105.9,117.3 109.8,114.4 113.8,111.2 116.7,108.0 119.6,106.0 123.6,103.9 125.5,100.9 128.0,98.7 129.5,91.8 131.9,86.9 135.4,83.9 139.3,89.8 142.2,82.5 145.7,76.2 149.3,74.4 153.0,76.9 156.0,82.5 158.9,82.0 161.9,83.9 164.8,87.9 167.8,94.7 170.3,100.8 173.3,102.0 175.7,105.0 178.1,108.6 181.7,108.0 185.3,109.8 189.0,113.4 193.8,116.4 198.6,117.6 202.2,118.3 205.8,115.8 209.5,114.0 213.1,115.2 216.7,117.0 220.3,118.9" fill="none" stroke="#9a2bff" stroke-width="1.1" stroke-linejoin="round" opacity="1"/>
<circle cx="34.8" cy="121.0" r="1.55" fill="#9a2bff"/>
<circle cx="38.0" cy="120.8" r="1.55" fill="#9a2bff"/>
<circle cx="41.2" cy="120.6" r="1.55" fill="#9a2bff"/>
<circle cx="44.5" cy="120.4" r="1.55" fill="#9a2bff"/>
<circle cx="47.7" cy="120.2" r="1.55" fill="#9a2bff"/>
<circle cx="50.9" cy="120.0" r="1.55" fill="#9a2bff"/>
<circle cx="54.1" cy="119.8" r="1.55" fill="#9a2bff"/>
<circle cx="57.3" cy="119.8" r="1.55" fill="#9a2bff"/>
<circle cx="60.6" cy="119.9" r="1.55" fill="#9a2bff"/>
<circle cx="63.8" cy="120.0" r="1.55" fill="#9a2bff"/>
<circle cx="67.0" cy="120.1" r="1.55" fill="#9a2bff"/>
<circle cx="70.2" cy="120.2" r="1.55" fill="#9a2bff"/>
<circle cx="73.4" cy="120.3" r="1.55" fill="#9a2bff"/>
<circle cx="76.7" cy="120.4" r="1.55" fill="#9a2bff"/>
<circle cx="79.9" cy="120.6" r="1.55" fill="#9a2bff"/>
<circle cx="83.1" cy="120.7" r="1.55" fill="#9a2bff"/>
<circle cx="86.3" cy="120.8" r="1.55" fill="#9a2bff"/>
<circle cx="89.5" cy="120.9" r="1.55" fill="#9a2bff"/>
<circle cx="92.8" cy="121.0" r="1.55" fill="#9a2bff"/>
<circle cx="96.0" cy="120.3" r="1.55" fill="#9a2bff"/>
<circle cx="99.2" cy="119.5" r="1.55" fill="#9a2bff"/>
<circle cx="102.4" cy="118.5" r="1.55" fill="#9a2bff"/>
<circle cx="105.6" cy="117.4" r="1.55" fill="#9a2bff"/>
<circle cx="108.9" cy="115.1" r="1.55" fill="#9a2bff"/>
<circle cx="112.1" cy="112.6" r="1.55" fill="#9a2bff"/>
<circle cx="115.3" cy="109.5" r="1.55" fill="#9a2bff"/>
<circle cx="118.5" cy="106.7" r="1.55" fill="#9a2bff"/>
<circle cx="121.7" cy="104.9" r="1.55" fill="#9a2bff"/>
<circle cx="125.0" cy="101.8" r="1.55" fill="#9a2bff"/>
<circle cx="128.2" cy="97.9" r="1.55" fill="#9a2bff"/>
<circle cx="131.4" cy="87.9" r="1.55" fill="#9a2bff"/>
<circle cx="134.6" cy="84.6" r="1.55" fill="#9a2bff"/>
<circle cx="137.8" cy="87.6" r="1.55" fill="#9a2bff"/>
<circle cx="141.1" cy="85.4" r="1.55" fill="#9a2bff"/>
<circle cx="144.3" cy="78.8" r="1.55" fill="#9a2bff"/>
<circle cx="147.5" cy="75.3" r="1.55" fill="#9a2bff"/>
<circle cx="150.7" cy="75.4" r="1.55" fill="#9a2bff"/>
<circle cx="153.9" cy="78.7" r="1.55" fill="#9a2bff"/>
<circle cx="157.2" cy="82.3" r="1.55" fill="#9a2bff"/>
<circle cx="160.4" cy="82.9" r="1.55" fill="#9a2bff"/>
<circle cx="163.6" cy="86.2" r="1.55" fill="#9a2bff"/>
<circle cx="166.8" cy="92.5" r="1.55" fill="#9a2bff"/>
<circle cx="170.0" cy="100.2" r="1.55" fill="#9a2bff"/>
<circle cx="173.3" cy="102.0" r="1.55" fill="#9a2bff"/>
<circle cx="176.5" cy="106.2" r="1.55" fill="#9a2bff"/>
<circle cx="179.7" cy="108.3" r="1.55" fill="#9a2bff"/>
<circle cx="182.9" cy="108.6" r="1.55" fill="#9a2bff"/>
<circle cx="186.1" cy="110.6" r="1.55" fill="#9a2bff"/>
<circle cx="189.4" cy="113.6" r="1.55" fill="#9a2bff"/>
<circle cx="192.6" cy="115.6" r="1.55" fill="#9a2bff"/>
<circle cx="195.8" cy="116.9" r="1.55" fill="#9a2bff"/>
<circle cx="199.0" cy="117.7" r="1.55" fill="#9a2bff"/>
<circle cx="202.2" cy="118.3" r="1.55" fill="#9a2bff"/>
<circle cx="205.5" cy="116.0" r="1.55" fill="#9a2bff"/>
<circle cx="208.7" cy="114.4" r="1.55" fill="#9a2bff"/>
<circle cx="211.9" cy="114.8" r="1.55" fill="#9a2bff"/>
<circle cx="215.1" cy="116.2" r="1.55" fill="#9a2bff"/>
<circle cx="218.3" cy="117.9" r="1.55" fill="#9a2bff"/>
<polyline points="255.1,113.6 260.1,108.6 265.9,104.3 271.6,102.1 275.9,97.9 279.4,94.3 283.0,90.7 288.0,86.0 293.0,84.3 298.0,84.6 302.3,86.0 306.6,88.6 310.9,87.9 315.1,90.0 319.4,94.3 322.6,99.7 327.2,105.8 331.9,109.7 336.5,114.3 342.7,118.2 348.8,120.5 364.2,121.0 380.0,119.7 386.2,119.4 392.3,118.9 398.5,117.9 406.2,116.3 413.9,114.8 421.6,113.6 427.8,112.8 433.9,112.0 438.6,113.6 441.6,112.3" fill="none" stroke="#9a2bff" stroke-width="1.1" stroke-linejoin="round" opacity="1"/>
<circle cx="255.1" cy="113.6" r="1.55" fill="#9a2bff"/>
<circle cx="259.4" cy="109.3" r="1.55" fill="#9a2bff"/>
<circle cx="263.7" cy="105.9" r="1.55" fill="#9a2bff"/>
<circle cx="268.0" cy="103.5" r="1.55" fill="#9a2bff"/>
<circle cx="272.3" cy="101.4" r="1.55" fill="#9a2bff"/>
<circle cx="276.6" cy="97.2" r="1.55" fill="#9a2bff"/>
<circle cx="280.9" cy="92.8" r="1.55" fill="#9a2bff"/>
<circle cx="285.2" cy="88.6" r="1.55" fill="#9a2bff"/>
<circle cx="289.5" cy="85.5" r="1.55" fill="#9a2bff"/>
<circle cx="293.9" cy="84.4" r="1.55" fill="#9a2bff"/>
<circle cx="298.2" cy="84.7" r="1.55" fill="#9a2bff"/>
<circle cx="302.5" cy="86.1" r="1.55" fill="#9a2bff"/>
<circle cx="306.8" cy="88.6" r="1.55" fill="#9a2bff"/>
<circle cx="311.1" cy="88.0" r="1.55" fill="#9a2bff"/>
<circle cx="315.4" cy="90.3" r="1.55" fill="#9a2bff"/>
<circle cx="319.7" cy="94.8" r="1.55" fill="#9a2bff"/>
<circle cx="324.0" cy="101.5" r="1.55" fill="#9a2bff"/>
<circle cx="328.3" cy="106.7" r="1.55" fill="#9a2bff"/>
<circle cx="332.6" cy="110.4" r="1.55" fill="#9a2bff"/>
<circle cx="336.9" cy="114.6" r="1.55" fill="#9a2bff"/>
<circle cx="341.2" cy="117.3" r="1.55" fill="#9a2bff"/>
<circle cx="345.5" cy="119.3" r="1.55" fill="#9a2bff"/>
<circle cx="349.8" cy="120.5" r="1.55" fill="#9a2bff"/>
<circle cx="354.1" cy="120.7" r="1.55" fill="#9a2bff"/>
<circle cx="358.4" cy="120.8" r="1.55" fill="#9a2bff"/>
<circle cx="362.7" cy="121.0" r="1.55" fill="#9a2bff"/>
<circle cx="367.0" cy="120.8" r="1.55" fill="#9a2bff"/>
<circle cx="371.4" cy="120.4" r="1.55" fill="#9a2bff"/>
<circle cx="375.7" cy="120.1" r="1.55" fill="#9a2bff"/>
<circle cx="380.0" cy="119.7" r="1.55" fill="#9a2bff"/>
<circle cx="384.3" cy="119.5" r="1.55" fill="#9a2bff"/>
<circle cx="388.6" cy="119.2" r="1.55" fill="#9a2bff"/>
<circle cx="392.9" cy="118.8" r="1.55" fill="#9a2bff"/>
<circle cx="397.2" cy="118.1" r="1.55" fill="#9a2bff"/>
<circle cx="401.5" cy="117.3" r="1.55" fill="#9a2bff"/>
<circle cx="405.8" cy="116.4" r="1.55" fill="#9a2bff"/>
<circle cx="410.1" cy="115.5" r="1.55" fill="#9a2bff"/>
<circle cx="414.4" cy="114.7" r="1.55" fill="#9a2bff"/>
<circle cx="418.7" cy="114.0" r="1.55" fill="#9a2bff"/>
<circle cx="423.0" cy="113.4" r="1.55" fill="#9a2bff"/>
<circle cx="427.3" cy="112.9" r="1.55" fill="#9a2bff"/>
<circle cx="431.6" cy="112.3" r="1.55" fill="#9a2bff"/>
<circle cx="435.9" cy="112.7" r="1.55" fill="#9a2bff"/>
<circle cx="440.2" cy="112.9" r="1.55" fill="#9a2bff"/>
<polyline points="476.4,119.4 481.2,117.6 486.0,115.5 490.9,113.1 495.7,111.6 499.3,107.3 502.9,104.3 506.5,101.9 510.1,101.6 513.8,96.5 516.2,93.5 519.8,94.7 523.4,95.3 526.4,94.7 529.4,96.5 532.4,100.1 535.4,104.3 540.0,106.2 544.4,107.8 548.8,110.0 552.0,112.2 555.3,114.4 559.1,117.1 563.0,118.5 568.4,118.8 581.6,118.8 594.7,119.6 605.0,120.4 625.4,121.2 645.9,120.6 662.2,120.4" fill="none" stroke="#9a2bff" stroke-width="1.1" stroke-linejoin="round" opacity="1"/>
<circle cx="476.4" cy="119.4" r="1.55" fill="#9a2bff"/>
<circle cx="480.2" cy="118.0" r="1.55" fill="#9a2bff"/>
<circle cx="484.0" cy="116.4" r="1.55" fill="#9a2bff"/>
<circle cx="487.8" cy="114.6" r="1.55" fill="#9a2bff"/>
<circle cx="491.6" cy="112.9" r="1.55" fill="#9a2bff"/>
<circle cx="495.4" cy="111.7" r="1.55" fill="#9a2bff"/>
<circle cx="499.2" cy="107.4" r="1.55" fill="#9a2bff"/>
<circle cx="503.0" cy="104.2" r="1.55" fill="#9a2bff"/>
<circle cx="506.8" cy="101.9" r="1.55" fill="#9a2bff"/>
<circle cx="510.6" cy="100.9" r="1.55" fill="#9a2bff"/>
<circle cx="514.4" cy="95.8" r="1.55" fill="#9a2bff"/>
<circle cx="518.2" cy="94.2" r="1.55" fill="#9a2bff"/>
<circle cx="522.0" cy="95.1" r="1.55" fill="#9a2bff"/>
<circle cx="525.8" cy="94.8" r="1.55" fill="#9a2bff"/>
<circle cx="529.6" cy="96.7" r="1.55" fill="#9a2bff"/>
<circle cx="533.4" cy="101.5" r="1.55" fill="#9a2bff"/>
<circle cx="537.2" cy="105.0" r="1.55" fill="#9a2bff"/>
<circle cx="541.0" cy="106.6" r="1.55" fill="#9a2bff"/>
<circle cx="544.8" cy="108.0" r="1.55" fill="#9a2bff"/>
<circle cx="548.6" cy="109.9" r="1.55" fill="#9a2bff"/>
<circle cx="552.4" cy="112.5" r="1.55" fill="#9a2bff"/>
<circle cx="556.2" cy="115.0" r="1.55" fill="#9a2bff"/>
<circle cx="560.0" cy="117.4" r="1.55" fill="#9a2bff"/>
<circle cx="563.8" cy="118.5" r="1.55" fill="#9a2bff"/>
<circle cx="567.6" cy="118.8" r="1.55" fill="#9a2bff"/>
<circle cx="571.4" cy="118.8" r="1.55" fill="#9a2bff"/>
<circle cx="575.2" cy="118.8" r="1.55" fill="#9a2bff"/>
<circle cx="579.0" cy="118.8" r="1.55" fill="#9a2bff"/>
<circle cx="582.8" cy="118.9" r="1.55" fill="#9a2bff"/>
<circle cx="586.6" cy="119.1" r="1.55" fill="#9a2bff"/>
<circle cx="590.4" cy="119.3" r="1.55" fill="#9a2bff"/>
<circle cx="594.2" cy="119.6" r="1.55" fill="#9a2bff"/>
<circle cx="598.0" cy="119.9" r="1.55" fill="#9a2bff"/>
<circle cx="601.8" cy="120.2" r="1.55" fill="#9a2bff"/>
<circle cx="605.6" cy="120.4" r="1.55" fill="#9a2bff"/>
<circle cx="609.4" cy="120.6" r="1.55" fill="#9a2bff"/>
<circle cx="613.2" cy="120.7" r="1.55" fill="#9a2bff"/>
<circle cx="617.0" cy="120.9" r="1.55" fill="#9a2bff"/>
<circle cx="620.8" cy="121.0" r="1.55" fill="#9a2bff"/>
<circle cx="624.6" cy="121.2" r="1.55" fill="#9a2bff"/>
<circle cx="628.4" cy="121.1" r="1.55" fill="#9a2bff"/>
<circle cx="632.2" cy="121.0" r="1.55" fill="#9a2bff"/>
<circle cx="636.0" cy="120.9" r="1.55" fill="#9a2bff"/>
<circle cx="639.8" cy="120.8" r="1.55" fill="#9a2bff"/>
<circle cx="643.6" cy="120.7" r="1.55" fill="#9a2bff"/>
<circle cx="647.4" cy="120.6" r="1.55" fill="#9a2bff"/>
<circle cx="651.2" cy="120.5" r="1.55" fill="#9a2bff"/>
<circle cx="655.0" cy="120.5" r="1.55" fill="#9a2bff"/>
<circle cx="658.8" cy="120.4" r="1.55" fill="#9a2bff"/>
<polyline points="34.3,264.9 39.4,265.3 45.7,265.3 50.8,264.6 55.9,264.0 61.0,262.7 66.1,262.3 71.2,261.5 76.9,259.8 82.6,258.9 87.7,257.6 91.8,254.5 95.0,252.3 99.1,251.5 105.3,251.5 111.4,252.3 118.6,255.0 123.7,252.9 129.9,252.9 136.1,252.3 139.1,253.5 142.2,257.6 146.3,261.7 152.5,262.5 160.0,264.5 166.4,265.5 172.8,265.8 179.3,263.9 185.7,261.0 192.1,263.4 198.5,264.5 204.9,265.0 211.4,265.8 220.2,266.6" fill="none" stroke="#9a2bff" stroke-width="1.1" stroke-linejoin="round" opacity="1"/>
<circle cx="34.3" cy="264.9" r="1.55" fill="#9a2bff"/>
<circle cx="39.4" cy="265.3" r="1.55" fill="#9a2bff"/>
<circle cx="44.5" cy="265.3" r="1.55" fill="#9a2bff"/>
<circle cx="49.6" cy="264.8" r="1.55" fill="#9a2bff"/>
<circle cx="54.7" cy="264.1" r="1.55" fill="#9a2bff"/>
<circle cx="59.8" cy="263.0" r="1.55" fill="#9a2bff"/>
<circle cx="64.9" cy="262.4" r="1.55" fill="#9a2bff"/>
<circle cx="70.0" cy="261.7" r="1.55" fill="#9a2bff"/>
<circle cx="75.1" cy="260.3" r="1.55" fill="#9a2bff"/>
<circle cx="80.2" cy="259.3" r="1.55" fill="#9a2bff"/>
<circle cx="85.3" cy="258.2" r="1.55" fill="#9a2bff"/>
<circle cx="90.4" cy="255.6" r="1.55" fill="#9a2bff"/>
<circle cx="95.5" cy="252.2" r="1.55" fill="#9a2bff"/>
<circle cx="100.6" cy="251.5" r="1.55" fill="#9a2bff"/>
<circle cx="105.7" cy="251.5" r="1.55" fill="#9a2bff"/>
<circle cx="110.8" cy="252.2" r="1.55" fill="#9a2bff"/>
<circle cx="115.8" cy="254.0" r="1.55" fill="#9a2bff"/>
<circle cx="120.9" cy="254.0" r="1.55" fill="#9a2bff"/>
<circle cx="126.0" cy="252.9" r="1.55" fill="#9a2bff"/>
<circle cx="131.1" cy="252.8" r="1.55" fill="#9a2bff"/>
<circle cx="136.2" cy="252.4" r="1.55" fill="#9a2bff"/>
<circle cx="141.3" cy="256.5" r="1.55" fill="#9a2bff"/>
<circle cx="146.4" cy="261.7" r="1.55" fill="#9a2bff"/>
<circle cx="151.5" cy="262.4" r="1.55" fill="#9a2bff"/>
<circle cx="156.6" cy="263.6" r="1.55" fill="#9a2bff"/>
<circle cx="161.7" cy="264.8" r="1.55" fill="#9a2bff"/>
<circle cx="166.8" cy="265.5" r="1.55" fill="#9a2bff"/>
<circle cx="171.9" cy="265.8" r="1.55" fill="#9a2bff"/>
<circle cx="177.0" cy="264.6" r="1.55" fill="#9a2bff"/>
<circle cx="182.1" cy="262.6" r="1.55" fill="#9a2bff"/>
<circle cx="187.2" cy="261.6" r="1.55" fill="#9a2bff"/>
<circle cx="192.3" cy="263.4" r="1.55" fill="#9a2bff"/>
<circle cx="197.4" cy="264.3" r="1.55" fill="#9a2bff"/>
<circle cx="202.5" cy="264.8" r="1.55" fill="#9a2bff"/>
<circle cx="207.6" cy="265.3" r="1.55" fill="#9a2bff"/>
<circle cx="212.7" cy="265.9" r="1.55" fill="#9a2bff"/>
<circle cx="217.8" cy="266.4" r="1.55" fill="#9a2bff"/>
<polyline points="254.5,266.6 258.8,265.1 263.2,264.1 267.6,264.4 272.0,265.1 276.4,264.4 280.7,264.1 288.0,262.7 292.4,264.4 296.8,267.3 304.1,268.1 311.4,268.1 318.7,267.3 326.0,266.6 333.3,265.6 340.6,264.4 345.0,263.9 350.8,263.9 356.7,263.5 362.5,262.9 369.8,262.0 375.7,262.0 380.0,263.2 385.9,264.9 393.2,266.1 400.5,266.4 407.8,266.8 415.1,267.6 423.8,267.8 432.6,267.6 441.1,267.3" fill="none" stroke="#9a2bff" stroke-width="1.1" stroke-linejoin="round" opacity="1"/>
<circle cx="254.5" cy="266.6" r="1.55" fill="#9a2bff"/>
<circle cx="259.3" cy="265.0" r="1.55" fill="#9a2bff"/>
<circle cx="264.1" cy="264.2" r="1.55" fill="#9a2bff"/>
<circle cx="268.9" cy="264.6" r="1.55" fill="#9a2bff"/>
<circle cx="273.7" cy="264.8" r="1.55" fill="#9a2bff"/>
<circle cx="278.5" cy="264.3" r="1.55" fill="#9a2bff"/>
<circle cx="283.3" cy="263.6" r="1.55" fill="#9a2bff"/>
<circle cx="288.1" cy="262.7" r="1.55" fill="#9a2bff"/>
<circle cx="292.8" cy="264.7" r="1.55" fill="#9a2bff"/>
<circle cx="297.6" cy="267.4" r="1.55" fill="#9a2bff"/>
<circle cx="302.4" cy="267.9" r="1.55" fill="#9a2bff"/>
<circle cx="307.2" cy="268.1" r="1.55" fill="#9a2bff"/>
<circle cx="312.0" cy="268.0" r="1.55" fill="#9a2bff"/>
<circle cx="316.8" cy="267.5" r="1.55" fill="#9a2bff"/>
<circle cx="321.6" cy="267.0" r="1.55" fill="#9a2bff"/>
<circle cx="326.4" cy="266.5" r="1.55" fill="#9a2bff"/>
<circle cx="331.2" cy="265.9" r="1.55" fill="#9a2bff"/>
<circle cx="336.0" cy="265.2" r="1.55" fill="#9a2bff"/>
<circle cx="340.8" cy="264.4" r="1.55" fill="#9a2bff"/>
<circle cx="345.6" cy="263.9" r="1.55" fill="#9a2bff"/>
<circle cx="350.4" cy="263.9" r="1.55" fill="#9a2bff"/>
<circle cx="355.2" cy="263.6" r="1.55" fill="#9a2bff"/>
<circle cx="360.0" cy="263.2" r="1.55" fill="#9a2bff"/>
<circle cx="364.7" cy="262.6" r="1.55" fill="#9a2bff"/>
<circle cx="369.5" cy="262.0" r="1.55" fill="#9a2bff"/>
<circle cx="374.3" cy="262.0" r="1.55" fill="#9a2bff"/>
<circle cx="379.1" cy="263.0" r="1.55" fill="#9a2bff"/>
<circle cx="383.9" cy="264.3" r="1.55" fill="#9a2bff"/>
<circle cx="388.7" cy="265.4" r="1.55" fill="#9a2bff"/>
<circle cx="393.5" cy="266.1" r="1.55" fill="#9a2bff"/>
<circle cx="398.3" cy="266.3" r="1.55" fill="#9a2bff"/>
<circle cx="403.1" cy="266.5" r="1.55" fill="#9a2bff"/>
<circle cx="407.9" cy="266.8" r="1.55" fill="#9a2bff"/>
<circle cx="412.7" cy="267.3" r="1.55" fill="#9a2bff"/>
<circle cx="417.5" cy="267.7" r="1.55" fill="#9a2bff"/>
<circle cx="422.3" cy="267.8" r="1.55" fill="#9a2bff"/>
<circle cx="427.1" cy="267.7" r="1.55" fill="#9a2bff"/>
<circle cx="431.8" cy="267.6" r="1.55" fill="#9a2bff"/>
<circle cx="436.6" cy="267.5" r="1.55" fill="#9a2bff"/>
<polyline points="476.5,262.9 483.8,263.2 491.1,262.9 498.4,263.2 504.2,262.9 510.0,263.2 518.8,263.9 527.6,264.3 537.8,264.6 546.5,264.9 552.4,263.2 558.2,260.5 564.1,258.5 569.2,259.1 574.8,257.8 579.5,258.6 584.3,253.9 588.2,251.5 592.2,252.3 596.9,254.7 601.7,255.8 605.7,254.7 610.4,251.5 616.0,249.4 622.3,248.8 627.8,248.3 633.4,250.4 638.9,253.1 644.5,255.8 650.0,259.0 655.6,262.1 662.2,265.0" fill="none" stroke="#9a2bff" stroke-width="1.1" stroke-linejoin="round" opacity="1"/>
<circle cx="476.5" cy="262.9" r="1.55" fill="#9a2bff"/>
<circle cx="481.8" cy="263.1" r="1.55" fill="#9a2bff"/>
<circle cx="487.1" cy="263.1" r="1.55" fill="#9a2bff"/>
<circle cx="492.4" cy="263.0" r="1.55" fill="#9a2bff"/>
<circle cx="497.8" cy="263.2" r="1.55" fill="#9a2bff"/>
<circle cx="503.1" cy="263.0" r="1.55" fill="#9a2bff"/>
<circle cx="508.4" cy="263.1" r="1.55" fill="#9a2bff"/>
<circle cx="513.7" cy="263.5" r="1.55" fill="#9a2bff"/>
<circle cx="519.0" cy="263.9" r="1.55" fill="#9a2bff"/>
<circle cx="524.3" cy="264.2" r="1.55" fill="#9a2bff"/>
<circle cx="529.6" cy="264.4" r="1.55" fill="#9a2bff"/>
<circle cx="534.9" cy="264.5" r="1.55" fill="#9a2bff"/>
<circle cx="540.3" cy="264.7" r="1.55" fill="#9a2bff"/>
<circle cx="545.6" cy="264.9" r="1.55" fill="#9a2bff"/>
<circle cx="550.9" cy="263.6" r="1.55" fill="#9a2bff"/>
<circle cx="556.2" cy="261.4" r="1.55" fill="#9a2bff"/>
<circle cx="561.5" cy="259.4" r="1.55" fill="#9a2bff"/>
<circle cx="566.8" cy="258.8" r="1.55" fill="#9a2bff"/>
<circle cx="572.1" cy="258.4" r="1.55" fill="#9a2bff"/>
<circle cx="577.4" cy="258.3" r="1.55" fill="#9a2bff"/>
<circle cx="582.8" cy="255.4" r="1.55" fill="#9a2bff"/>
<circle cx="588.1" cy="251.6" r="1.55" fill="#9a2bff"/>
<circle cx="593.4" cy="252.9" r="1.55" fill="#9a2bff"/>
<circle cx="598.7" cy="255.1" r="1.55" fill="#9a2bff"/>
<circle cx="604.0" cy="255.2" r="1.55" fill="#9a2bff"/>
<circle cx="609.3" cy="252.2" r="1.55" fill="#9a2bff"/>
<circle cx="614.6" cy="249.9" r="1.55" fill="#9a2bff"/>
<circle cx="620.0" cy="249.0" r="1.55" fill="#9a2bff"/>
<circle cx="625.3" cy="248.5" r="1.55" fill="#9a2bff"/>
<circle cx="630.6" cy="249.3" r="1.55" fill="#9a2bff"/>
<circle cx="635.9" cy="251.6" r="1.55" fill="#9a2bff"/>
<circle cx="641.2" cy="254.2" r="1.55" fill="#9a2bff"/>
<circle cx="646.5" cy="257.0" r="1.55" fill="#9a2bff"/>
<circle cx="651.8" cy="260.0" r="1.55" fill="#9a2bff"/>
<circle cx="657.1" cy="262.8" r="1.55" fill="#9a2bff"/>
<polyline points="35.2,397.5 39.0,396.8 42.8,398.3 47.3,400.0 52.4,403.2 56.2,406.4 59.4,408.9 63.8,408.3 67.6,408.9 71.5,404.5 75.3,400.0 79.1,396.8 82.9,393.6 86.7,391.7 91.2,390.5 95.0,390.9 100.2,393.1 105.5,396.1 110.0,388.6 114.4,384.1 118.9,382.7 123.4,390.1 127.1,399.8 130.1,404.3 133.1,408.8 138.3,415.1 144.3,412.5 150.3,409.6 155.5,408.8 160.8,408.1 165.3,408.1 168.5,411.5" fill="none" stroke="#9a2bff" stroke-width="1.1" stroke-linejoin="round" opacity="1"/>
<circle cx="35.2" cy="397.5" r="1.55" fill="#9a2bff"/>
<circle cx="40.6" cy="397.4" r="1.55" fill="#9a2bff"/>
<circle cx="46.0" cy="399.5" r="1.55" fill="#9a2bff"/>
<circle cx="51.5" cy="402.6" r="1.55" fill="#9a2bff"/>
<circle cx="56.9" cy="406.9" r="1.55" fill="#9a2bff"/>
<circle cx="62.3" cy="408.5" r="1.55" fill="#9a2bff"/>
<circle cx="67.7" cy="408.8" r="1.55" fill="#9a2bff"/>
<circle cx="73.1" cy="402.6" r="1.55" fill="#9a2bff"/>
<circle cx="78.6" cy="397.3" r="1.55" fill="#9a2bff"/>
<circle cx="84.0" cy="393.1" r="1.55" fill="#9a2bff"/>
<circle cx="89.4" cy="391.0" r="1.55" fill="#9a2bff"/>
<circle cx="94.8" cy="390.9" r="1.55" fill="#9a2bff"/>
<circle cx="100.2" cy="393.1" r="1.55" fill="#9a2bff"/>
<circle cx="105.6" cy="395.9" r="1.55" fill="#9a2bff"/>
<circle cx="111.1" cy="387.5" r="1.55" fill="#9a2bff"/>
<circle cx="116.5" cy="383.5" r="1.55" fill="#9a2bff"/>
<circle cx="121.9" cy="387.6" r="1.55" fill="#9a2bff"/>
<circle cx="127.3" cy="400.1" r="1.55" fill="#9a2bff"/>
<circle cx="132.7" cy="408.3" r="1.55" fill="#9a2bff"/>
<circle cx="138.2" cy="414.9" r="1.55" fill="#9a2bff"/>
<circle cx="143.6" cy="412.8" r="1.55" fill="#9a2bff"/>
<circle cx="149.0" cy="410.2" r="1.55" fill="#9a2bff"/>
<circle cx="154.4" cy="409.0" r="1.55" fill="#9a2bff"/>
<circle cx="159.8" cy="408.2" r="1.55" fill="#9a2bff"/>
<circle cx="165.3" cy="408.1" r="1.55" fill="#9a2bff"/>
<polyline points="207.0,418.0 216.1,416.8 224.1,416.0 232.1,414.8 240.2,412.4 245.0,410.2 250.0,408.5 254.1,406.0 258.2,404.2 262.1,403.4 265.8,403.4 269.4,404.9 273.0,406.5 276.6,409.0 280.1,411.1 283.7,412.1 287.8,414.1 291.4,414.6 295.0,415.1 299.0,416.2 303.1,417.2 307.2,416.9 311.3,416.2 315.4,416.2 320.0,416.7 329.3,416.4 341.3,416.8 351.4,417.4" fill="none" stroke="#9a2bff" stroke-width="1.1" stroke-linejoin="round" opacity="1"/>
<circle cx="207.0" cy="418.0" r="1.55" fill="#9a2bff"/>
<circle cx="210.6" cy="417.5" r="1.55" fill="#9a2bff"/>
<circle cx="214.1" cy="417.1" r="1.55" fill="#9a2bff"/>
<circle cx="217.7" cy="416.6" r="1.55" fill="#9a2bff"/>
<circle cx="221.2" cy="416.3" r="1.55" fill="#9a2bff"/>
<circle cx="224.8" cy="415.9" r="1.55" fill="#9a2bff"/>
<circle cx="228.3" cy="415.4" r="1.55" fill="#9a2bff"/>
<circle cx="231.9" cy="414.8" r="1.55" fill="#9a2bff"/>
<circle cx="235.4" cy="413.8" r="1.55" fill="#9a2bff"/>
<circle cx="239.0" cy="412.8" r="1.55" fill="#9a2bff"/>
<circle cx="242.6" cy="411.3" r="1.55" fill="#9a2bff"/>
<circle cx="246.1" cy="409.8" r="1.55" fill="#9a2bff"/>
<circle cx="249.7" cy="408.6" r="1.55" fill="#9a2bff"/>
<circle cx="253.2" cy="406.5" r="1.55" fill="#9a2bff"/>
<circle cx="256.8" cy="404.8" r="1.55" fill="#9a2bff"/>
<circle cx="260.3" cy="403.8" r="1.55" fill="#9a2bff"/>
<circle cx="263.9" cy="403.4" r="1.55" fill="#9a2bff"/>
<circle cx="267.4" cy="404.1" r="1.55" fill="#9a2bff"/>
<circle cx="271.0" cy="405.6" r="1.55" fill="#9a2bff"/>
<circle cx="274.6" cy="407.6" r="1.55" fill="#9a2bff"/>
<circle cx="278.1" cy="409.9" r="1.55" fill="#9a2bff"/>
<circle cx="281.7" cy="411.5" r="1.55" fill="#9a2bff"/>
<circle cx="285.2" cy="412.8" r="1.55" fill="#9a2bff"/>
<circle cx="288.8" cy="414.2" r="1.55" fill="#9a2bff"/>
<circle cx="292.3" cy="414.7" r="1.55" fill="#9a2bff"/>
<circle cx="295.9" cy="415.3" r="1.55" fill="#9a2bff"/>
<circle cx="299.5" cy="416.3" r="1.55" fill="#9a2bff"/>
<circle cx="303.0" cy="417.2" r="1.55" fill="#9a2bff"/>
<circle cx="306.6" cy="416.9" r="1.55" fill="#9a2bff"/>
<circle cx="310.1" cy="416.4" r="1.55" fill="#9a2bff"/>
<circle cx="313.7" cy="416.2" r="1.55" fill="#9a2bff"/>
<circle cx="317.2" cy="416.4" r="1.55" fill="#9a2bff"/>
<circle cx="320.8" cy="416.7" r="1.55" fill="#9a2bff"/>
<circle cx="324.3" cy="416.6" r="1.55" fill="#9a2bff"/>
<circle cx="327.9" cy="416.4" r="1.55" fill="#9a2bff"/>
<circle cx="331.5" cy="416.5" r="1.55" fill="#9a2bff"/>
<circle cx="335.0" cy="416.6" r="1.55" fill="#9a2bff"/>
<circle cx="338.6" cy="416.7" r="1.55" fill="#9a2bff"/>
<circle cx="342.1" cy="416.8" r="1.55" fill="#9a2bff"/>
<circle cx="345.7" cy="417.1" r="1.55" fill="#9a2bff"/>
<circle cx="349.2" cy="417.3" r="1.55" fill="#9a2bff"/>
<polyline points="378.3,416.4 383.8,415.9 390.1,414.8 394.8,412.5 399.4,408.6 404.9,404.7 409.6,400.8 414.3,397.7 418.2,387.5 422.9,378.9 427.6,374.7 431.5,370.0 435.4,371.9 439.3,374.2 442.8,378.1 445.5,383.6 450.9,382.8 455.6,385.2 460.3,391.4 464.2,389.8 468.1,389.1 471.3,391.4 475.2,395.3 479.1,397.7 483.0,399.2 486.9,400.8 491.6,403.9 496.3,405.9 500.9,407.0 504.8,408.1 508.8,409.4 512.7,412.2" fill="none" stroke="#9a2bff" stroke-width="1.1" stroke-linejoin="round" opacity="1"/>
<circle cx="378.3" cy="416.4" r="1.55" fill="#9a2bff"/>
<circle cx="382.9" cy="416.0" r="1.55" fill="#9a2bff"/>
<circle cx="387.5" cy="415.3" r="1.55" fill="#9a2bff"/>
<circle cx="392.1" cy="413.8" r="1.55" fill="#9a2bff"/>
<circle cx="396.7" cy="410.9" r="1.55" fill="#9a2bff"/>
<circle cx="401.3" cy="407.3" r="1.55" fill="#9a2bff"/>
<circle cx="405.9" cy="403.9" r="1.55" fill="#9a2bff"/>
<circle cx="410.5" cy="400.2" r="1.55" fill="#9a2bff"/>
<circle cx="415.1" cy="395.6" r="1.55" fill="#9a2bff"/>
<circle cx="419.7" cy="384.8" r="1.55" fill="#9a2bff"/>
<circle cx="424.3" cy="377.6" r="1.55" fill="#9a2bff"/>
<circle cx="428.9" cy="373.1" r="1.55" fill="#9a2bff"/>
<circle cx="433.5" cy="371.0" r="1.55" fill="#9a2bff"/>
<circle cx="438.1" cy="373.5" r="1.55" fill="#9a2bff"/>
<circle cx="442.7" cy="378.0" r="1.55" fill="#9a2bff"/>
<circle cx="447.3" cy="383.3" r="1.55" fill="#9a2bff"/>
<circle cx="451.9" cy="383.3" r="1.55" fill="#9a2bff"/>
<circle cx="456.5" cy="386.4" r="1.55" fill="#9a2bff"/>
<circle cx="461.1" cy="391.1" r="1.55" fill="#9a2bff"/>
<circle cx="465.7" cy="389.5" r="1.55" fill="#9a2bff"/>
<circle cx="470.3" cy="390.7" r="1.55" fill="#9a2bff"/>
<circle cx="474.9" cy="395.0" r="1.55" fill="#9a2bff"/>
<circle cx="479.5" cy="397.9" r="1.55" fill="#9a2bff"/>
<circle cx="484.1" cy="399.7" r="1.55" fill="#9a2bff"/>
<circle cx="488.7" cy="402.0" r="1.55" fill="#9a2bff"/>
<circle cx="493.3" cy="404.6" r="1.55" fill="#9a2bff"/>
<circle cx="497.9" cy="406.3" r="1.55" fill="#9a2bff"/>
<circle cx="502.5" cy="407.5" r="1.55" fill="#9a2bff"/>
<circle cx="507.1" cy="408.8" r="1.55" fill="#9a2bff"/>
<circle cx="511.7" cy="411.5" r="1.55" fill="#9a2bff"/>
<polyline points="544.4,415.2 547.4,413.0 552.5,414.1 557.3,414.5 562.1,414.8 567.3,415.2 572.0,415.2 575.0,415.3 579.4,415.1 583.8,414.4 588.1,413.8 591.2,411.8 594.3,408.8 596.9,406.6 600.4,404.4 603.9,402.6 608.3,401.6 612.7,401.3 617.9,402.2 622.3,403.9 626.7,406.1 631.0,408.3 635.2,409.6 639.2,408.5 644.0,407.3 649.7,408.5 655.3,409.0 660.1,410.0 664.9,411.7 671.4,414.1 677.8,415.4" fill="none" stroke="#9a2bff" stroke-width="1.1" stroke-linejoin="round" opacity="1"/>
<circle cx="544.4" cy="415.2" r="1.55" fill="#9a2bff"/>
<circle cx="548.9" cy="413.3" r="1.55" fill="#9a2bff"/>
<circle cx="553.4" cy="414.2" r="1.55" fill="#9a2bff"/>
<circle cx="557.8" cy="414.5" r="1.55" fill="#9a2bff"/>
<circle cx="562.3" cy="414.8" r="1.55" fill="#9a2bff"/>
<circle cx="566.8" cy="415.2" r="1.55" fill="#9a2bff"/>
<circle cx="571.3" cy="415.2" r="1.55" fill="#9a2bff"/>
<circle cx="575.8" cy="415.3" r="1.55" fill="#9a2bff"/>
<circle cx="580.2" cy="415.0" r="1.55" fill="#9a2bff"/>
<circle cx="584.7" cy="414.3" r="1.55" fill="#9a2bff"/>
<circle cx="589.2" cy="413.1" r="1.55" fill="#9a2bff"/>
<circle cx="593.7" cy="409.4" r="1.55" fill="#9a2bff"/>
<circle cx="598.2" cy="405.8" r="1.55" fill="#9a2bff"/>
<circle cx="602.6" cy="403.2" r="1.55" fill="#9a2bff"/>
<circle cx="607.1" cy="401.9" r="1.55" fill="#9a2bff"/>
<circle cx="611.6" cy="401.4" r="1.55" fill="#9a2bff"/>
<circle cx="616.1" cy="401.9" r="1.55" fill="#9a2bff"/>
<circle cx="620.6" cy="403.2" r="1.55" fill="#9a2bff"/>
<circle cx="625.0" cy="405.3" r="1.55" fill="#9a2bff"/>
<circle cx="629.5" cy="407.5" r="1.55" fill="#9a2bff"/>
<circle cx="634.0" cy="409.2" r="1.55" fill="#9a2bff"/>
<circle cx="638.5" cy="408.7" r="1.55" fill="#9a2bff"/>
<circle cx="643.0" cy="407.6" r="1.55" fill="#9a2bff"/>
<circle cx="647.4" cy="408.0" r="1.55" fill="#9a2bff"/>
<circle cx="651.9" cy="408.7" r="1.55" fill="#9a2bff"/>
<circle cx="656.4" cy="409.2" r="1.55" fill="#9a2bff"/>
<circle cx="660.9" cy="410.3" r="1.55" fill="#9a2bff"/>
<circle cx="665.4" cy="411.9" r="1.55" fill="#9a2bff"/>
<circle cx="669.9" cy="413.5" r="1.55" fill="#9a2bff"/>
<circle cx="674.3" cy="414.7" r="1.55" fill="#9a2bff"/>
<polyline points="34.8,119.4 46.1,118.4 53.1,118.7 63.6,119.7 75.0,120.8 82.0,121.0 85.5,116.6 93.0,105.3 100.0,93.8 103.9,86.9 109.2,74.7 115.0,64.5 119.4,58.7 123.1,55.7 123.8,54.3 126.7,44.1 129.6,34.9 132.6,39.7 136.2,47.0 137.7,57.2 139.1,67.4 142.8,69.6 147.2,76.2 151.1,89.8 155.0,99.6 158.9,103.6 161.4,107.5 164.8,112.4 166.0,116.4 172.1,121.3 184.1,120.7 191.4,117.6 198.6,115.8 202.2,115.8 205.8,109.8 210.1,105.6 214.3,108.0 217.9,111.0 220.3,113.4" fill="none" stroke="#ff4646" stroke-width="1.1" stroke-linejoin="round" opacity="1"/>
<polyline points="255.1,115.7 261.6,110.0 268.7,106.4 275.9,104.3 284.4,102.4 291.6,102.9 298.7,106.4 307.3,110.3 313.0,109.3 318.0,109.7 324.2,110.5 330.3,108.2 336.5,108.2 341.1,112.0 346.5,119.7 353.4,118.2 359.6,115.9 365.8,116.6 376.6,118.9 380.0,120.5 395.4,121.6 410.8,121.6 426.2,121.0 435.5,119.7 441.6,119.4" fill="none" stroke="#ff4646" stroke-width="1.1" stroke-linejoin="round" opacity="1"/>
<polyline points="476.4,115.2 481.2,111.0 487.3,106.7 493.3,104.3 496.9,101.3 500.5,95.9 505.3,92.3 510.1,92.0 513.8,92.3 516.8,94.1 520.4,99.5 523.4,96.3 527.0,100.1 530.6,106.1 534.2,104.9 540.0,106.7 546.6,110.0 553.1,113.8 558.6,118.2 564.1,118.8 583.8,118.2 602.4,118.8 615.2,119.1 625.4,120.1 635.6,121.2 643.8,120.6 651.0,119.1 657.1,116.8 662.2,115.0" fill="none" stroke="#ff4646" stroke-width="1.1" stroke-linejoin="round" opacity="1"/>
<polyline points="34.3,252.2 39.4,251.7 45.7,251.7 52.1,252.2 58.5,253.2 64.8,255.5 71.2,258.3 77.5,261.1 83.9,262.7 87.7,263.4 94.1,262.1 103.2,260.1 111.4,260.5 121.7,261.7 132.0,262.1 142.2,262.5 148.4,264.2 156.6,264.6 160.0,263.4 169.6,263.9 176.1,263.4 180.9,257.5 185.7,252.2 191.3,249.0 200.1,247.8 208.2,249.4 214.6,252.6 220.2,256.2" fill="none" stroke="#ff4646" stroke-width="1.1" stroke-linejoin="round" opacity="1"/>
<polyline points="254.5,263.2 260.3,264.4 267.6,266.2 276.4,267.6 289.5,268.4 311.4,268.5 340.6,267.6 345.0,265.4 356.7,264.6 364.0,264.9 371.3,266.4 378.6,267.8 388.8,268.7 403.4,268.7 418.0,268.3 432.6,267.6 441.1,267.3" fill="none" stroke="#ff4646" stroke-width="1.1" stroke-linejoin="round" opacity="1"/>
<polyline points="476.5,263.9 489.6,264.6 499.8,264.6 510.0,262.0 518.8,258.1 528.3,254.7 533.4,250.8 537.8,251.2 543.6,253.0 550.9,253.7 558.2,254.4 565.5,256.2 570.0,257.4 576.3,259.0 582.7,254.7 589.0,251.5 595.4,252.3 601.7,254.7 607.2,253.9 612.8,251.5 619.1,249.9 625.5,249.9 631.8,250.7 638.1,253.1 644.5,256.3 650.8,259.4 657.2,262.6 662.2,264.2" fill="none" stroke="#ff4646" stroke-width="1.1" stroke-linejoin="round" opacity="1"/>
<polyline points="35.2,401.9 39.6,399.1 44.7,397.5 51.1,396.8 56.2,397.8 60.0,400.0 63.8,404.5 67.0,408.3 71.5,407.6 77.8,406.4 84.2,405.1 90.5,404.7 95.0,405.8 100.2,407.0 105.5,409.1 110.0,407.6 114.4,406.6 120.4,407.0 126.4,407.6 130.9,410.3 134.6,414.0 138.3,418.5 144.3,419.3 154.8,419.3 169.0,419.0" fill="none" stroke="#ff4646" stroke-width="1.1" stroke-linejoin="round" opacity="1"/>
<polyline points="207.0,418.4 224.1,418.2 244.2,417.9 250.0,417.9 260.2,416.7 270.4,415.5 276.6,416.2 283.7,417.2 290.9,418.2 301.1,418.5 351.4,418.6" fill="none" stroke="#ff4646" stroke-width="1.1" stroke-linejoin="round" opacity="1"/>
<polyline points="378.3,412.5 383.0,414.8 388.5,416.4 396.3,417.2 407.3,417.5 416.6,416.9 422.9,415.3 429.1,413.3 435.4,411.3 441.6,410.2 446.3,410.9 452.5,410.2 460.3,411.3 465.0,407.0 471.3,403.9 477.5,401.9 482.2,402.8 486.9,405.0 491.6,406.6 496.3,405.0 502.5,403.4 508.8,403.9 512.7,404.7" fill="none" stroke="#ff4646" stroke-width="1.1" stroke-linejoin="round" opacity="1"/>
<polyline points="544.4,415.9 555.1,415.6 568.3,415.4 574.6,414.5 577.0,412.5 579.0,406.4 580.8,402.0 583.6,398.3 588.0,385.6 590.1,373.6 593.4,361.6 597.8,349.5 601.1,343.0 604.4,340.8 608.7,345.8 613.1,348.0 617.5,352.8 621.9,361.5 625.1,370.3 628.4,379.0 631.7,388.8 635.0,397.6 640.4,400.9 645.9,405.2 652.4,409.6 661.2,412.9 669.9,414.4 678.7,415.7" fill="none" stroke="#ff4646" stroke-width="1.1" stroke-linejoin="round" opacity="1"/>
<circle cx="127.3" cy="24.4" r="4.50" fill="none" stroke="#222" stroke-width="1.05"/>
<path d="M126.3,22.5 L127.5,21.5 L127.5,27.3" fill="none" stroke="#111" stroke-width="1.05"/>
<circle cx="149.3" cy="66.2" r="4.50" fill="none" stroke="#222" stroke-width="1.05"/>
<text x="149.3" y="69.0" font-size="8" text-anchor="middle" fill="#111">5</text>
<circle cx="181.1" cy="85.7" r="4.50" fill="none" stroke="#222" stroke-width="1.05"/>
<text x="181.1" y="88.5" font-size="8" text-anchor="middle" fill="#111">2</text>
<circle cx="206.2" cy="87.2" r="4.50" fill="none" stroke="#222" stroke-width="1.05"/>
<text x="206.2" y="90.0" font-size="8" text-anchor="middle" fill="#111">4</text>
<circle cx="303.3" cy="74.3" r="4.50" fill="none" stroke="#222" stroke-width="1.05"/>
<text x="303.3" y="77.1" font-size="8" text-anchor="middle" fill="#111">5</text>
<circle cx="293.3" cy="95.7" r="4.50" fill="none" stroke="#222" stroke-width="1.05"/>
<path d="M292.3,93.8 L293.5,92.8 L293.5,98.6" fill="none" stroke="#111" stroke-width="1.05"/>
<circle cx="334.6" cy="71.6" r="4.50" fill="none" stroke="#222" stroke-width="1.05"/>
<text x="334.6" y="74.4" font-size="8" text-anchor="middle" fill="#111">3</text>
<circle cx="350.0" cy="71.6" r="4.50" fill="none" stroke="#222" stroke-width="1.05"/>
<text x="350.0" y="74.4" font-size="8" text-anchor="middle" fill="#111">4</text>
<circle cx="417.0" cy="74.3" r="4.50" fill="none" stroke="#222" stroke-width="1.05"/>
<text x="417.0" y="77.1" font-size="8" text-anchor="middle" fill="#111">3</text>
<line x1="342.3" y1="67.5" x2="342.3" y2="76" stroke="#222" stroke-width="1.1"/>
<circle cx="526.0" cy="63.1" r="4.50" fill="none" stroke="#222" stroke-width="1.05"/>
<text x="526.0" y="66.0" font-size="8" text-anchor="middle" fill="#111">4</text>
<circle cx="540.7" cy="63.1" r="4.50" fill="none" stroke="#222" stroke-width="1.05"/>
<text x="540.7" y="66.0" font-size="8" text-anchor="middle" fill="#111">5</text>
<circle cx="505.9" cy="82.0" r="4.50" fill="none" stroke="#222" stroke-width="1.05"/>
<path d="M504.9,80.1 L506.1,79.1 L506.1,84.9" fill="none" stroke="#111" stroke-width="1.05"/>
<circle cx="546.5" cy="88.7" r="4.50" fill="none" stroke="#222" stroke-width="1.05"/>
<text x="546.5" y="91.5" font-size="8" text-anchor="middle" fill="#111">2</text>
<line x1="533" y1="58.8" x2="533" y2="67.3" stroke="#222" stroke-width="1.1"/>
<line x1="533.4" y1="70.1" x2="527.7" y2="78.2" stroke="#111" stroke-width="1"/>
<polygon points="524.6,82.7 526.3,75.9 530.4,78.8" fill="#111"/>
<circle cx="44.7" cy="242.4" r="4.50" fill="none" stroke="#222" stroke-width="1.05"/>
<path d="M43.7,240.5 L44.9,239.5 L44.9,245.3" fill="none" stroke="#111" stroke-width="1.05"/>
<circle cx="115.5" cy="192.7" r="4.50" fill="none" stroke="#222" stroke-width="1.05"/>
<text x="115.5" y="195.5" font-size="8" text-anchor="middle" fill="#111">4</text>
<circle cx="137.1" cy="188.6" r="4.50" fill="none" stroke="#222" stroke-width="1.05"/>
<text x="137.1" y="191.4" font-size="8" text-anchor="middle" fill="#111">3</text>
<circle cx="104.2" cy="242.0" r="4.50" fill="none" stroke="#222" stroke-width="1.05"/>
<text x="104.2" y="244.8" font-size="8" text-anchor="middle" fill="#111">5</text>
<circle cx="196.6" cy="219.6" r="4.50" fill="none" stroke="#222" stroke-width="1.05"/>
<path d="M195.6,217.7 L196.8,216.7 L196.8,222.5" fill="none" stroke="#111" stroke-width="1.05"/>
<circle cx="211.0" cy="219.6" r="4.50" fill="none" stroke="#222" stroke-width="1.05"/>
<text x="211.0" y="222.4" font-size="8" text-anchor="middle" fill="#111">3</text>
<line x1="203.7" y1="215.5" x2="203.7" y2="224" stroke="#222" stroke-width="1.1"/>
<circle cx="411.9" cy="226.0" r="4.50" fill="none" stroke="#222" stroke-width="1.05"/>
<text x="411.9" y="228.8" font-size="8" text-anchor="middle" fill="#111">4</text>
<circle cx="528.7" cy="234.0" r="4.50" fill="none" stroke="#222" stroke-width="1.05"/>
<text x="528.7" y="236.8" font-size="8" text-anchor="middle" fill="#111">2</text>
<circle cx="567.3" cy="228.4" r="4.50" fill="none" stroke="#222" stroke-width="1.05"/>
<text x="567.3" y="231.2" font-size="8" text-anchor="middle" fill="#111">2</text>
<circle cx="601.7" cy="209.8" r="4.50" fill="none" stroke="#222" stroke-width="1.05"/>
<path d="M600.7,207.9 L601.9,206.9 L601.9,212.7" fill="none" stroke="#111" stroke-width="1.05"/>
<circle cx="617.2" cy="209.8" r="4.50" fill="none" stroke="#222" stroke-width="1.05"/>
<text x="617.2" y="212.7" font-size="8" text-anchor="middle" fill="#111">4</text>
<circle cx="632.3" cy="209.8" r="4.50" fill="none" stroke="#222" stroke-width="1.05"/>
<text x="632.3" y="212.7" font-size="8" text-anchor="middle" fill="#111">5</text>
<line x1="609.6" y1="205.5" x2="609.6" y2="214" stroke="#222" stroke-width="1.1"/>
<line x1="625.2" y1="205.5" x2="625.2" y2="214" stroke="#222" stroke-width="1.1"/>
<line x1="619.9" y1="213.5" x2="619.9" y2="230.2" stroke="#111" stroke-width="1"/>
<polygon points="619.9,235.7 617.4,229.2 622.4,229.2" fill="#111"/>
<circle cx="45.4" cy="370.3" r="4.50" fill="none" stroke="#222" stroke-width="1.05"/>
<text x="45.4" y="373.2" font-size="8" text-anchor="middle" fill="#111">5</text>
<circle cx="53.0" cy="389.2" r="4.50" fill="none" stroke="#222" stroke-width="1.05"/>
<path d="M52.0,387.3 L53.2,386.3 L53.2,392.1" fill="none" stroke="#111" stroke-width="1.05"/>
<circle cx="97.2" cy="388.6" r="4.50" fill="none" stroke="#222" stroke-width="1.05"/>
<text x="97.2" y="391.5" font-size="8" text-anchor="middle" fill="#111">3</text>
<circle cx="104.7" cy="364.7" r="4.50" fill="none" stroke="#222" stroke-width="1.05"/>
<text x="104.7" y="367.6" font-size="8" text-anchor="middle" fill="#111">4</text>
<circle cx="118.2" cy="375.2" r="4.50" fill="none" stroke="#222" stroke-width="1.05"/>
<text x="118.2" y="378.1" font-size="8" text-anchor="middle" fill="#111">5</text>
<circle cx="148.1" cy="388.6" r="4.50" fill="none" stroke="#222" stroke-width="1.05"/>
<text x="148.1" y="391.5" font-size="8" text-anchor="middle" fill="#111">3</text>
<line x1="42.5" y1="375.3" x2="40.5" y2="389.2" stroke="#111" stroke-width="1"/>
<polygon points="39.7,394.6 38.2,387.8 43.1,388.5" fill="#111"/>
<line x1="104.4" y1="369.2" x2="104.6" y2="386.1" stroke="#111" stroke-width="1"/>
<polygon points="104.7,391.6 102.1,385.1 107.1,385.1" fill="#111"/>
<circle cx="276.0" cy="337.6" r="4.50" fill="none" stroke="#222" stroke-width="1.05"/>
<text x="276.0" y="340.5" font-size="8" text-anchor="middle" fill="#111">3</text>
<circle cx="261.2" cy="392.2" r="4.50" fill="none" stroke="#222" stroke-width="1.05"/>
<text x="261.2" y="395.1" font-size="8" text-anchor="middle" fill="#111">2</text>
<circle cx="321.6" cy="366.2" r="4.50" fill="none" stroke="#222" stroke-width="1.05"/>
<text x="321.6" y="369.1" font-size="8" text-anchor="middle" fill="#111">4</text>
<circle cx="306.7" cy="390.1" r="4.50" fill="none" stroke="#222" stroke-width="1.05"/>
<text x="306.7" y="393.0" font-size="8" text-anchor="middle" fill="#111">2</text>
<circle cx="433.8" cy="362.2" r="4.50" fill="none" stroke="#222" stroke-width="1.05"/>
<text x="433.8" y="365.1" font-size="8" text-anchor="middle" fill="#111">5</text>
<circle cx="427.3" cy="382.0" r="4.50" fill="none" stroke="#222" stroke-width="1.05"/>
<text x="427.3" y="384.9" font-size="8" text-anchor="middle" fill="#111">4</text>
<circle cx="461.9" cy="385.6" r="4.50" fill="none" stroke="#222" stroke-width="1.05"/>
<text x="461.9" y="388.5" font-size="8" text-anchor="middle" fill="#111">3</text>
<circle cx="481.9" cy="375.0" r="4.50" fill="none" stroke="#222" stroke-width="1.05"/>
<text x="481.9" y="377.9" font-size="8" text-anchor="middle" fill="#111">4</text>
<circle cx="598.8" cy="334.9" r="4.50" fill="none" stroke="#222" stroke-width="1.05"/>
<path d="M597.8,333.0 L599.0,332.0 L599.0,337.8" fill="none" stroke="#111" stroke-width="1.05"/>
<circle cx="614.2" cy="334.9" r="4.50" fill="none" stroke="#222" stroke-width="1.05"/>
<text x="614.2" y="337.8" font-size="8" text-anchor="middle" fill="#111">2</text>
<circle cx="556.9" cy="390.0" r="4.50" fill="none" stroke="#222" stroke-width="1.05"/>
<text x="556.9" y="392.9" font-size="8" text-anchor="middle" fill="#111">3</text>
<line x1="606.6" y1="330.6" x2="606.6" y2="339.2" stroke="#222" stroke-width="1.1"/>
<line x1="590.1" y1="9.9" x2="606.9" y2="9.9" stroke="#ff5a5a" stroke-width="1.2"/>
<line x1="590.1" y1="18.2" x2="606.9" y2="18.2" stroke="#3ad23a" stroke-width="1.2"/><circle cx="598.5" cy="18.2" r="1.3" fill="#3ad23a"/>
<line x1="590.1" y1="26.7" x2="606.9" y2="26.7" stroke="#4a4aff" stroke-width="1.2"/><circle cx="598.5" cy="26.7" r="1.3" fill="#4a4aff"/>
<circle cx="598.5" cy="35" r="0.9" fill="#ff8a00"/>
<line x1="590.1" y1="43.4" x2="606.9" y2="43.4" stroke="#555" stroke-width="1.1"/><circle cx="598.5" cy="43.4" r="1" fill="#555"/>
<text transform="translate(612.1,14.4) scale(1.11,1)" font-size="9.2" fill="#111">YLD</text>
<text transform="translate(612.1,23.3) scale(1.11,1)" font-size="9.2" fill="#111">ASI</text>
<text transform="translate(612.1,31.6) scale(1.11,1)" font-size="9.2" fill="#111">MFLW</text>
<text transform="translate(612.1,40.1) scale(1.11,1)" font-size="9.2" fill="#111">ENO</text>
<text transform="translate(612.1,48.2) scale(1.11,1)" font-size="9.2" fill="#111">PH</text>
</svg></body></html>
